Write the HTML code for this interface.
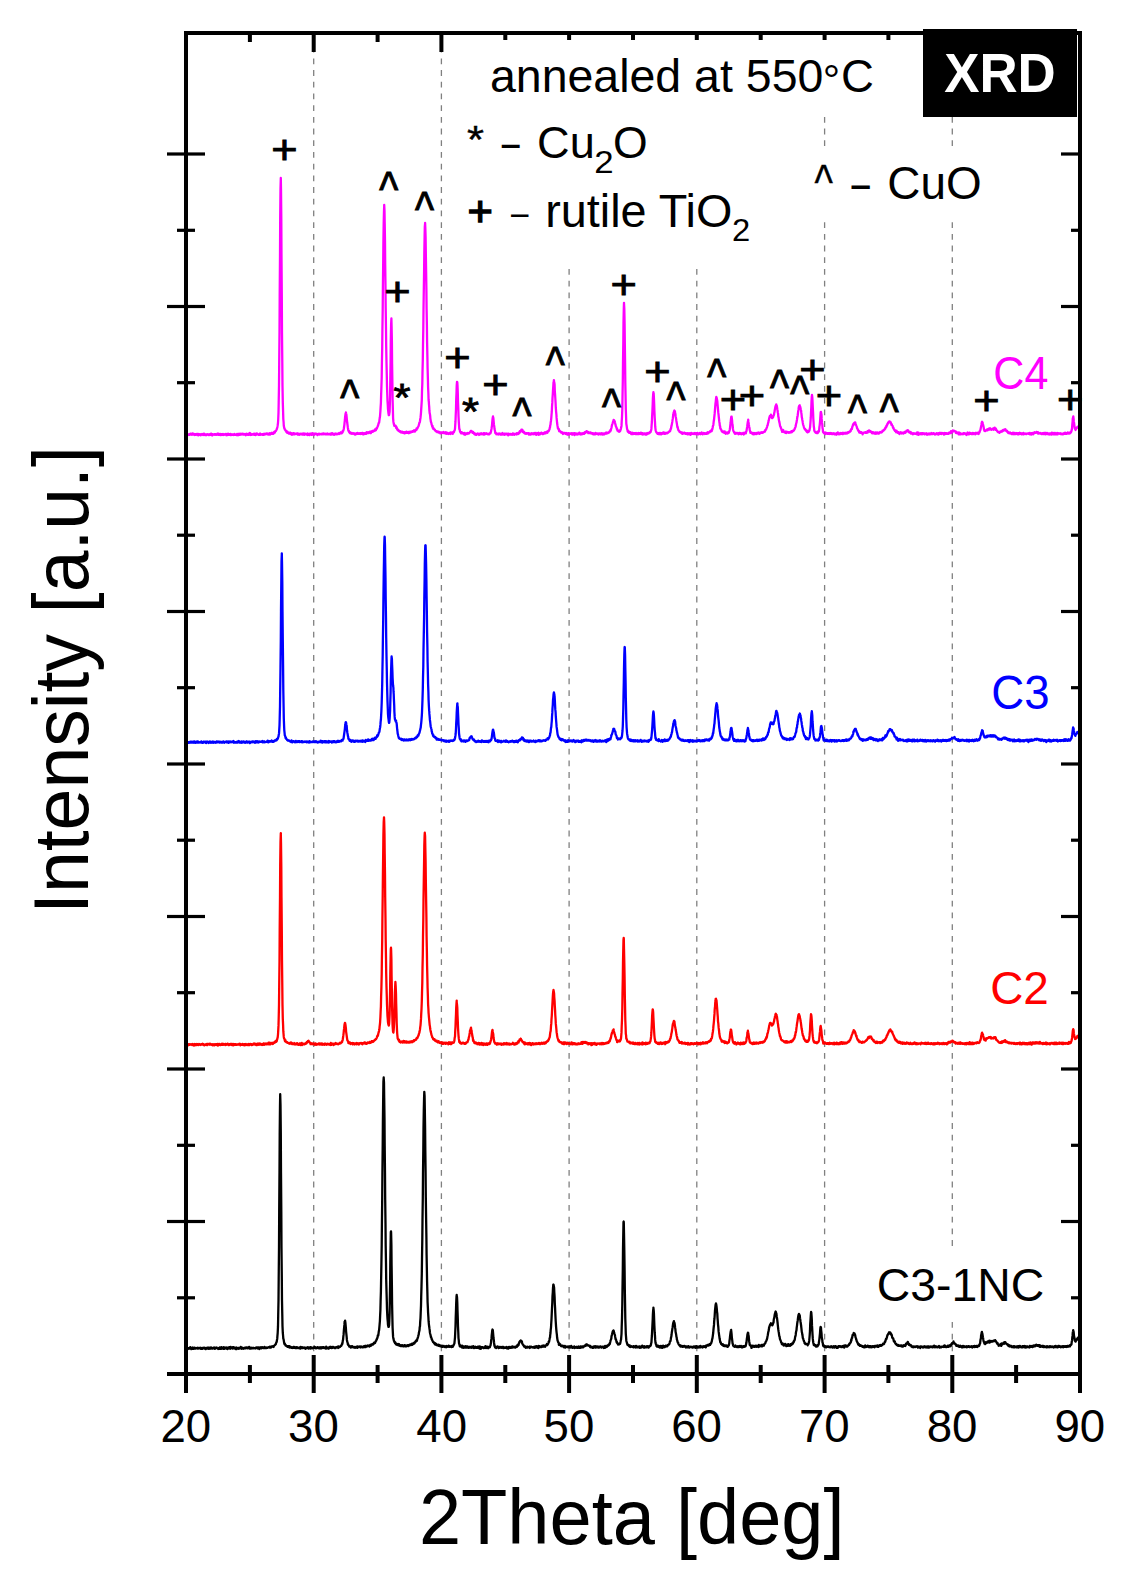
<!DOCTYPE html><html><head><meta charset='utf-8'><title>XRD</title><style>html,body{margin:0;padding:0;background:#fff;overflow:hidden}svg{display:block}text{font-family:'Liberation Sans', Arial, sans-serif}</style></head><body>
<svg width='1127' height='1588' viewBox='0 0 1127 1588'>
<rect width='1127' height='1588' fill='#fff'/>
<g stroke='#808080' stroke-width='1.3' stroke-dasharray='5.8 5.9'><line x1='313.7' y1='35' x2='313.7' y2='1372'/><line x1='441.4' y1='35' x2='441.4' y2='1372'/><line x1='569.1' y1='35' x2='569.1' y2='1372'/><line x1='696.8' y1='35' x2='696.8' y2='1372'/><line x1='824.6' y1='35' x2='824.6' y2='1372'/><line x1='952.3' y1='35' x2='952.3' y2='1372'/></g>
<path d='M186.0 1348.6 186.3 1348.8 186.5 1348.8 186.8 1348.6 187.0 1348.1 187.3 1348.2 187.5 1347.9 187.8 1349.1 188.0 1348.8 188.3 1348.3 188.6 1348.3 188.8 1348.4 189.1 1348.0 189.3 1348.5 189.6 1348.5 189.8 1348.5 190.1 1348.3 190.3 1347.2 190.6 1348.2 190.9 1347.7 191.1 1347.6 191.4 1349.2 191.6 1348.1 191.9 1348.2 192.1 1348.1 192.4 1347.9 192.6 1348.9 192.9 1347.5 193.2 1348.5 193.4 1348.0 193.7 1348.8 193.9 1348.6 194.2 1348.3 194.4 1347.6 194.7 1348.6 194.9 1348.7 195.2 1348.5 195.5 1348.1 195.7 1348.5 196.0 1348.0 196.2 1348.4 196.5 1348.4 196.7 1348.2 197.0 1347.9 197.2 1348.2 197.5 1347.9 197.7 1347.8 198.0 1348.7 198.3 1348.2 198.5 1348.1 198.8 1348.0 199.0 1348.4 199.3 1348.1 199.5 1348.0 199.8 1348.4 200.0 1348.3 200.3 1347.9 200.6 1347.8 200.8 1348.8 201.1 1348.1 201.3 1348.7 201.6 1348.5 201.8 1348.2 202.1 1348.1 202.3 1348.9 202.6 1348.0 202.9 1348.1 203.1 1347.9 203.4 1348.2 203.6 1347.9 203.9 1348.3 204.1 1347.7 204.4 1348.5 204.6 1348.4 204.9 1348.3 205.2 1348.0 205.4 1348.8 205.7 1349.1 205.9 1348.2 206.2 1347.9 206.4 1348.5 206.7 1348.1 206.9 1348.3 207.2 1348.5 207.5 1347.7 207.7 1348.5 208.0 1347.8 208.2 1347.7 208.5 1348.1 208.7 1348.8 209.0 1348.0 209.2 1348.4 209.5 1347.8 209.8 1348.5 210.0 1348.3 210.3 1348.7 210.5 1348.3 210.8 1348.2 211.0 1347.4 211.3 1348.3 211.5 1348.5 211.8 1348.3 212.1 1348.3 212.3 1348.4 212.6 1348.6 212.8 1347.8 213.1 1348.2 213.3 1348.4 213.6 1348.3 213.8 1347.8 214.1 1347.4 214.4 1348.3 214.6 1348.5 214.9 1348.9 215.1 1348.4 215.4 1347.8 215.6 1348.4 215.9 1348.2 216.1 1347.9 216.4 1347.6 216.7 1347.5 216.9 1347.9 217.2 1348.0 217.4 1348.2 217.7 1348.2 217.9 1348.3 218.2 1349.0 218.4 1348.2 218.7 1348.8 218.9 1347.9 219.2 1347.9 219.5 1348.0 219.7 1347.4 220.0 1348.9 220.2 1348.3 220.5 1348.5 220.7 1348.9 221.0 1348.4 221.2 1348.9 221.5 1347.2 221.8 1348.7 222.0 1348.3 222.3 1348.0 222.5 1348.6 222.8 1348.2 223.0 1347.9 223.3 1347.4 223.5 1348.9 223.8 1347.1 224.1 1348.2 224.3 1348.8 224.6 1348.4 224.8 1347.9 225.1 1348.1 225.3 1347.9 225.6 1348.3 225.8 1348.1 226.1 1347.6 226.4 1347.5 226.6 1348.7 226.9 1347.6 227.1 1347.7 227.4 1349.1 227.6 1347.8 227.9 1347.6 228.1 1347.8 228.4 1348.5 228.7 1347.8 228.9 1348.1 229.2 1347.2 229.4 1347.9 229.7 1348.2 229.9 1348.2 230.2 1348.8 230.4 1348.4 230.7 1346.9 231.0 1347.5 231.2 1347.7 231.5 1348.0 231.7 1348.2 232.0 1348.4 232.2 1347.4 232.5 1347.2 232.7 1348.5 233.0 1347.7 233.3 1347.1 233.5 1347.7 233.8 1347.9 234.0 1347.6 234.3 1347.6 234.5 1348.5 234.8 1347.6 235.0 1348.2 235.3 1348.2 235.6 1348.0 235.8 1349.1 236.1 1347.6 236.3 1349.2 236.6 1347.7 236.8 1348.0 237.1 1348.2 237.3 1348.6 237.6 1348.4 237.9 1347.9 238.1 1348.0 238.4 1348.6 238.6 1348.7 238.9 1347.9 239.1 1348.6 239.4 1348.3 239.6 1348.2 239.9 1347.6 240.1 1347.6 240.4 1348.3 240.7 1346.9 240.9 1347.9 241.2 1348.3 241.4 1347.4 241.7 1348.8 241.9 1348.8 242.2 1347.6 242.4 1348.0 242.7 1348.0 243.0 1347.9 243.2 1347.9 243.5 1348.3 243.7 1348.8 244.0 1348.1 244.2 1348.1 244.5 1348.1 244.7 1347.8 245.0 1348.4 245.3 1347.9 245.5 1347.7 245.8 1348.3 246.0 1347.3 246.3 1347.9 246.5 1347.9 246.8 1348.0 247.0 1347.4 247.3 1347.7 247.6 1348.0 247.8 1348.3 248.1 1348.0 248.3 1348.0 248.6 1347.7 248.8 1348.1 249.1 1346.9 249.3 1348.3 249.6 1348.5 249.9 1348.0 250.1 1347.6 250.4 1348.6 250.6 1347.8 250.9 1348.6 251.1 1347.9 251.4 1347.7 251.6 1347.9 251.9 1347.8 252.2 1347.9 252.4 1348.2 252.7 1347.9 252.9 1347.8 253.2 1348.0 253.4 1348.2 253.7 1348.0 253.9 1348.2 254.2 1348.2 254.5 1348.1 254.7 1348.3 255.0 1348.0 255.2 1348.5 255.5 1348.2 255.7 1348.3 256.0 1347.9 256.2 1347.4 256.5 1347.8 256.8 1348.0 257.0 1348.1 257.3 1347.9 257.5 1348.5 257.8 1347.4 258.0 1347.2 258.3 1347.9 258.5 1347.6 258.8 1347.9 259.1 1348.2 259.3 1349.1 259.6 1347.4 259.8 1347.4 260.1 1347.9 260.3 1347.3 260.6 1347.6 260.8 1348.4 261.1 1347.9 261.3 1347.9 261.6 1348.3 261.9 1347.2 262.1 1347.9 262.4 1347.8 262.6 1347.9 262.9 1347.4 263.1 1347.7 263.4 1347.8 263.6 1348.1 263.9 1347.5 264.2 1348.0 264.4 1346.9 264.7 1347.9 264.9 1348.1 265.2 1347.3 265.4 1347.6 265.7 1347.7 265.9 1347.8 266.2 1348.1 266.5 1347.7 266.7 1347.5 267.0 1347.5 267.2 1347.7 267.5 1347.9 267.7 1347.6 268.0 1347.3 268.2 1347.3 268.5 1347.1 268.8 1347.1 269.0 1347.2 269.3 1347.1 269.5 1347.6 269.8 1346.8 270.0 1347.3 270.3 1346.7 270.5 1347.5 270.8 1347.2 271.1 1347.5 271.3 1347.2 271.6 1346.5 271.8 1346.9 272.1 1346.5 272.3 1346.5 272.6 1346.2 272.8 1346.4 273.1 1346.5 273.4 1346.4 273.6 1347.0 273.9 1345.9 274.1 1345.9 274.4 1345.5 274.6 1345.3 274.9 1345.0 275.1 1344.9 275.4 1344.3 275.7 1344.4 275.9 1343.8 276.2 1342.7 276.4 1342.4 276.7 1341.8 276.9 1340.3 277.2 1338.9 277.4 1336.4 277.7 1332.8 278.0 1326.4 278.2 1315.9 278.5 1300.6 278.7 1278.5 279.0 1247.6 279.2 1211.6 279.5 1170.7 279.7 1134.6 280.0 1105.6 280.2 1094.2 280.2 1094.2 280.5 1104.8 280.8 1132.7 281.0 1172.4 281.3 1211.5 281.5 1248.2 281.8 1277.6 282.0 1300.4 282.3 1315.6 282.5 1326.2 282.8 1332.7 283.1 1336.0 283.3 1338.7 283.6 1339.3 283.8 1340.7 284.1 1342.6 284.3 1343.5 284.6 1344.2 284.8 1343.5 285.1 1344.4 285.4 1344.6 285.6 1345.5 285.9 1345.4 286.1 1345.5 286.4 1345.9 286.6 1345.7 286.9 1346.4 287.1 1346.0 287.4 1346.8 287.7 1346.5 287.9 1346.7 288.2 1346.2 288.4 1346.1 288.7 1346.2 288.9 1347.1 289.2 1346.1 289.4 1347.5 289.7 1346.9 290.0 1346.6 290.2 1347.3 290.5 1346.7 290.7 1347.2 291.0 1347.2 291.2 1347.8 291.5 1347.7 291.7 1347.7 292.0 1347.2 292.3 1348.0 292.5 1347.4 292.8 1347.5 293.0 1347.6 293.3 1347.6 293.5 1347.0 293.8 1347.8 294.0 1346.9 294.3 1347.8 294.6 1347.5 294.8 1347.6 295.1 1347.2 295.3 1348.0 295.6 1347.6 295.8 1348.0 296.1 1347.4 296.3 1347.3 296.6 1347.7 296.9 1348.1 297.1 1347.2 297.4 1347.5 297.6 1347.5 297.9 1347.6 298.1 1347.6 298.4 1348.1 298.6 1348.0 298.9 1347.8 299.2 1348.1 299.4 1348.2 299.7 1347.5 299.9 1347.5 300.2 1348.0 300.4 1348.6 300.7 1346.8 300.9 1347.5 301.2 1348.1 301.4 1347.4 301.7 1348.1 302.0 1347.9 302.2 1347.3 302.5 1347.6 302.7 1348.0 303.0 1347.5 303.2 1348.0 303.5 1347.9 303.7 1347.7 304.0 1348.0 304.3 1347.7 304.5 1347.9 304.8 1347.4 305.0 1348.4 305.3 1347.7 305.5 1348.3 305.8 1348.7 306.0 1348.5 306.3 1347.8 306.6 1347.9 306.8 1347.8 307.1 1348.0 307.3 1347.5 307.6 1347.1 307.8 1348.0 308.1 1347.9 308.3 1348.5 308.6 1348.6 308.9 1347.3 309.1 1347.5 309.4 1348.2 309.6 1348.3 309.9 1347.9 310.1 1347.9 310.4 1347.1 310.6 1348.7 310.9 1347.6 311.2 1348.1 311.4 1348.0 311.7 1347.5 311.9 1348.2 312.2 1348.4 312.4 1347.8 312.7 1347.9 312.9 1348.1 313.2 1348.2 313.5 1348.2 313.7 1347.5 314.0 1347.5 314.2 1347.6 314.5 1346.8 314.7 1347.3 315.0 1347.8 315.2 1347.6 315.5 1347.5 315.8 1348.2 316.0 1348.0 316.3 1348.2 316.5 1347.8 316.8 1347.7 317.0 1347.5 317.3 1347.9 317.5 1347.1 317.8 1347.5 318.1 1348.1 318.3 1348.2 318.6 1347.8 318.8 1347.4 319.1 1348.0 319.3 1347.5 319.6 1347.8 319.8 1347.4 320.1 1348.5 320.4 1348.4 320.6 1347.5 320.9 1347.3 321.1 1347.8 321.4 1348.0 321.6 1348.3 321.9 1347.8 322.1 1347.3 322.4 1347.9 322.6 1347.9 322.9 1347.1 323.2 1347.7 323.4 1347.7 323.7 1347.4 323.9 1347.9 324.2 1348.2 324.4 1348.2 324.7 1347.4 324.9 1347.5 325.2 1348.1 325.5 1347.6 325.7 1347.6 326.0 1348.6 326.2 1346.7 326.5 1347.5 326.7 1347.4 327.0 1347.7 327.2 1348.4 327.5 1347.7 327.8 1347.6 328.0 1347.8 328.3 1347.6 328.5 1347.9 328.8 1348.7 329.0 1347.4 329.3 1347.6 329.5 1347.6 329.8 1346.9 330.1 1347.9 330.3 1347.6 330.6 1346.9 330.8 1347.6 331.1 1347.7 331.3 1347.3 331.6 1348.1 331.8 1347.4 332.1 1347.0 332.4 1347.9 332.6 1347.6 332.9 1347.6 333.1 1346.9 333.4 1347.0 333.6 1347.1 333.9 1347.5 334.1 1347.5 334.4 1348.1 334.7 1348.1 334.9 1347.5 335.2 1347.4 335.4 1348.2 335.7 1347.5 335.9 1347.8 336.2 1347.2 336.4 1347.3 336.7 1347.2 337.0 1347.0 337.2 1347.4 337.5 1346.9 337.7 1347.2 338.0 1347.3 338.2 1348.0 338.5 1346.3 338.7 1347.0 339.0 1347.2 339.3 1346.8 339.5 1347.1 339.8 1346.9 340.0 1346.9 340.3 1346.4 340.5 1346.2 340.8 1346.1 341.0 1345.7 341.3 1345.8 341.6 1345.0 341.8 1344.5 342.1 1343.8 342.3 1344.0 342.6 1342.3 342.8 1340.6 343.1 1339.5 343.3 1336.8 343.6 1334.4 343.8 1331.3 344.1 1327.9 344.4 1324.9 344.6 1321.8 344.9 1321.4 345.0 1321.2 345.1 1320.6 345.4 1322.6 345.6 1324.9 345.9 1328.3 346.1 1331.5 346.4 1334.4 346.7 1337.4 346.9 1339.9 347.2 1341.4 347.4 1342.1 347.7 1343.0 347.9 1344.6 348.2 1344.2 348.4 1345.2 348.7 1345.5 349.0 1345.6 349.2 1346.6 349.5 1346.3 349.7 1346.4 350.0 1346.7 350.2 1346.3 350.5 1347.1 350.7 1347.5 351.0 1346.7 351.3 1346.7 351.5 1347.4 351.8 1346.1 352.0 1346.4 352.3 1346.5 352.5 1346.3 352.8 1347.0 353.0 1347.2 353.3 1347.0 353.6 1347.1 353.8 1347.4 354.1 1347.5 354.3 1347.6 354.6 1347.0 354.8 1347.1 355.1 1347.7 355.3 1347.2 355.6 1347.6 355.9 1346.9 356.1 1347.1 356.4 1346.9 356.6 1347.1 356.9 1347.2 357.1 1346.9 357.4 1347.9 357.6 1346.5 357.9 1347.4 358.2 1346.7 358.4 1347.1 358.7 1346.7 358.9 1347.1 359.2 1347.1 359.4 1346.7 359.7 1346.5 359.9 1346.7 360.2 1347.0 360.5 1347.3 360.7 1347.5 361.0 1346.3 361.2 1347.1 361.5 1346.7 361.7 1346.9 362.0 1347.0 362.2 1347.2 362.5 1347.0 362.8 1346.8 363.0 1347.4 363.3 1346.9 363.5 1346.7 363.8 1347.1 364.0 1346.2 364.3 1346.3 364.5 1347.2 364.8 1346.6 365.0 1345.9 365.3 1346.8 365.6 1347.0 365.8 1346.2 366.1 1345.8 366.3 1346.4 366.6 1346.5 366.8 1346.1 367.1 1345.9 367.3 1346.4 367.6 1346.4 367.9 1345.4 368.1 1345.6 368.4 1345.9 368.6 1345.7 368.9 1346.0 369.1 1346.0 369.4 1346.5 369.6 1345.8 369.9 1345.9 370.2 1344.8 370.4 1345.2 370.7 1345.8 370.9 1344.6 371.2 1345.6 371.4 1345.3 371.7 1345.0 371.9 1344.6 372.2 1344.2 372.5 1344.1 372.7 1344.2 373.0 1344.0 373.2 1344.5 373.5 1343.4 373.7 1343.4 374.0 1342.8 374.2 1343.4 374.5 1343.1 374.8 1343.1 375.0 1343.1 375.3 1342.3 375.5 1341.4 375.8 1341.4 376.0 1340.9 376.3 1340.5 376.5 1339.5 376.8 1339.6 377.1 1338.2 377.3 1338.1 377.6 1337.2 377.8 1335.5 378.1 1335.8 378.3 1335.3 378.6 1333.0 378.8 1331.3 379.1 1330.1 379.4 1326.9 379.6 1324.6 379.9 1321.0 380.1 1316.4 380.4 1310.3 380.6 1301.9 380.9 1291.8 381.1 1280.3 381.4 1264.0 381.7 1245.8 381.9 1224.4 382.2 1199.5 382.4 1173.2 382.7 1146.0 382.9 1121.0 383.2 1097.2 383.4 1082.1 383.7 1077.5 383.7 1078.1 384.0 1082.6 384.2 1097.7 384.5 1119.1 384.7 1145.9 385.0 1173.5 385.2 1200.1 385.5 1223.5 385.7 1245.9 386.0 1263.5 386.2 1279.6 386.5 1291.0 386.8 1301.4 387.0 1309.2 387.3 1315.5 387.5 1318.9 387.8 1321.9 388.0 1325.0 388.3 1326.2 388.5 1326.9 388.8 1326.8 389.1 1325.0 389.3 1321.3 389.6 1313.2 389.8 1300.8 390.1 1284.2 390.3 1262.6 390.6 1244.4 390.8 1232.2 391.0 1231.3 391.1 1232.3 391.4 1245.0 391.6 1265.5 391.9 1286.8 392.1 1304.8 392.4 1318.9 392.6 1327.5 392.9 1333.4 393.1 1336.9 393.4 1338.6 393.7 1339.7 393.9 1340.9 394.2 1341.1 394.4 1342.0 394.7 1341.9 394.9 1342.9 395.2 1342.3 395.4 1343.6 395.7 1343.8 396.0 1344.2 396.2 1343.5 396.5 1343.6 396.7 1343.7 397.0 1344.1 397.2 1344.9 397.5 1344.8 397.7 1344.9 398.0 1344.2 398.3 1345.3 398.5 1345.2 398.8 1344.7 399.0 1344.0 399.3 1344.9 399.5 1345.2 399.8 1345.8 400.0 1345.4 400.3 1345.3 400.6 1346.0 400.8 1346.1 401.1 1345.7 401.3 1345.8 401.6 1346.0 401.8 1345.3 402.1 1345.8 402.3 1345.5 402.6 1345.2 402.9 1345.8 403.1 1346.1 403.4 1346.4 403.6 1345.9 403.9 1346.2 404.1 1345.6 404.4 1345.1 404.6 1345.4 404.9 1345.8 405.2 1345.5 405.4 1346.4 405.7 1346.1 405.9 1345.6 406.2 1346.3 406.4 1345.8 406.7 1346.2 406.9 1345.5 407.2 1345.9 407.4 1345.2 407.7 1345.5 408.0 1345.9 408.2 1346.1 408.5 1345.3 408.7 1345.4 409.0 1345.0 409.2 1345.2 409.5 1345.5 409.7 1344.6 410.0 1344.9 410.3 1344.5 410.5 1345.1 410.8 1345.1 411.0 1344.9 411.3 1344.5 411.5 1344.2 411.8 1343.8 412.0 1344.3 412.3 1344.8 412.6 1344.1 412.8 1344.0 413.1 1343.7 413.3 1343.2 413.6 1344.0 413.8 1343.6 414.1 1342.7 414.3 1342.5 414.6 1343.3 414.9 1342.2 415.1 1342.2 415.4 1341.5 415.6 1341.9 415.9 1341.0 416.1 1340.7 416.4 1340.3 416.6 1340.9 416.9 1340.8 417.2 1339.4 417.4 1338.7 417.7 1338.1 417.9 1337.3 418.2 1336.3 418.4 1335.3 418.7 1334.7 418.9 1332.7 419.2 1331.4 419.5 1330.3 419.7 1327.3 420.0 1326.1 420.2 1321.8 420.5 1318.0 420.7 1312.8 421.0 1305.7 421.2 1296.9 421.5 1286.4 421.8 1273.7 422.0 1258.9 422.3 1239.7 422.5 1220.1 422.8 1198.3 423.0 1173.9 423.3 1150.7 423.5 1128.4 423.8 1110.2 424.1 1097.2 424.3 1092.0 424.3 1091.8 424.6 1096.1 424.8 1108.8 425.1 1127.5 425.3 1149.4 425.6 1172.4 425.8 1196.7 426.1 1217.7 426.4 1237.2 426.6 1254.9 426.9 1271.3 427.1 1282.0 427.4 1293.6 427.6 1302.2 427.9 1308.1 428.1 1313.0 428.1 1312.9 428.4 1317.4 428.6 1321.2 428.9 1324.5 429.2 1326.5 429.4 1328.2 429.7 1330.1 429.9 1332.4 430.2 1333.8 430.4 1334.5 430.7 1335.8 430.9 1337.1 431.2 1337.2 431.5 1338.3 431.7 1339.2 432.0 1339.3 432.2 1340.4 432.5 1340.8 432.7 1341.0 433.0 1342.0 433.2 1341.5 433.5 1342.4 433.8 1342.4 434.0 1343.2 434.3 1342.7 434.5 1343.5 434.8 1343.7 435.0 1344.2 435.3 1344.6 435.5 1343.5 435.8 1344.2 436.1 1343.9 436.3 1344.8 436.6 1345.1 436.8 1344.5 437.1 1344.9 437.3 1345.4 437.6 1345.1 437.8 1345.1 438.1 1344.6 438.4 1345.0 438.6 1345.8 438.9 1344.9 439.1 1345.7 439.4 1345.8 439.6 1345.6 439.9 1346.1 440.1 1345.5 440.4 1346.4 440.7 1345.8 440.9 1346.4 441.2 1345.8 441.4 1346.2 441.7 1345.9 441.9 1346.8 442.2 1345.8 442.4 1345.9 442.7 1346.8 443.0 1346.6 443.2 1346.4 443.5 1346.3 443.7 1345.9 444.0 1346.3 444.2 1346.6 444.5 1346.9 444.7 1346.9 445.0 1347.1 445.3 1346.7 445.5 1346.2 445.8 1346.4 446.0 1347.2 446.3 1346.6 446.5 1347.2 446.8 1346.0 447.0 1346.4 447.3 1346.3 447.6 1346.7 447.8 1346.3 448.1 1346.1 448.3 1346.6 448.6 1345.7 448.8 1346.4 449.1 1346.9 449.3 1346.2 449.6 1346.6 449.8 1346.3 450.1 1346.5 450.4 1346.7 450.6 1346.8 450.9 1346.7 451.1 1346.2 451.4 1347.1 451.6 1346.6 451.9 1346.0 452.1 1346.9 452.4 1346.0 452.7 1346.9 452.9 1346.4 453.2 1345.8 453.4 1345.5 453.7 1344.9 453.9 1344.5 454.2 1343.8 454.4 1343.3 454.7 1340.5 455.0 1337.3 455.2 1333.0 455.5 1326.4 455.7 1318.6 456.0 1310.0 456.2 1303.4 456.5 1296.7 456.7 1295.0 456.7 1295.5 457.0 1296.9 457.3 1302.9 457.5 1310.3 457.8 1319.1 458.0 1326.4 458.3 1332.7 458.5 1338.1 458.8 1340.7 459.0 1343.2 459.3 1344.1 459.6 1345.3 459.8 1346.2 460.1 1345.1 460.3 1346.5 460.6 1345.9 460.8 1346.4 461.1 1346.2 461.3 1346.4 461.6 1346.1 461.9 1345.6 462.1 1347.7 462.4 1347.2 462.6 1346.8 462.9 1346.2 463.1 1347.2 463.4 1347.7 463.6 1347.2 463.9 1346.4 464.2 1346.9 464.4 1347.2 464.7 1347.1 464.9 1347.6 465.2 1346.8 465.4 1347.0 465.7 1346.2 465.9 1347.7 466.2 1347.6 466.5 1347.1 466.7 1346.6 467.0 1347.6 467.2 1346.8 467.5 1346.8 467.7 1346.5 468.0 1346.7 468.2 1347.0 468.5 1346.9 468.7 1347.8 469.0 1347.7 469.3 1347.4 469.5 1347.1 469.8 1347.3 470.0 1346.8 470.3 1347.6 470.5 1347.0 470.8 1347.2 471.0 1347.6 471.3 1347.0 471.6 1346.8 471.8 1347.9 472.1 1346.7 472.3 1346.9 472.6 1346.9 472.8 1347.1 473.1 1347.4 473.3 1346.1 473.6 1347.2 473.9 1348.1 474.1 1348.0 474.4 1347.8 474.6 1347.4 474.9 1347.5 475.1 1347.2 475.4 1346.7 475.6 1347.6 475.9 1347.9 476.2 1347.6 476.4 1347.5 476.7 1347.8 476.9 1347.6 477.2 1347.9 477.4 1347.3 477.7 1346.7 477.9 1347.7 478.2 1347.9 478.5 1347.2 478.7 1347.6 479.0 1347.8 479.2 1346.3 479.5 1348.5 479.7 1347.8 480.0 1347.4 480.2 1347.0 480.5 1346.8 480.8 1348.9 481.0 1347.3 481.3 1347.8 481.5 1347.2 481.8 1347.4 482.0 1347.7 482.3 1347.1 482.5 1347.4 482.8 1347.4 483.1 1347.7 483.3 1347.8 483.6 1347.4 483.8 1348.1 484.1 1347.3 484.3 1347.3 484.6 1347.5 484.8 1347.3 485.1 1347.8 485.4 1346.2 485.6 1346.7 485.9 1346.5 486.1 1348.0 486.4 1347.8 486.6 1347.1 486.9 1347.5 487.1 1346.6 487.4 1347.2 487.7 1347.9 487.9 1347.5 488.2 1348.2 488.4 1347.0 488.7 1347.7 488.9 1347.2 489.2 1347.1 489.4 1347.0 489.7 1347.1 489.9 1347.1 490.2 1346.0 490.5 1345.5 490.7 1344.2 491.0 1342.8 491.2 1340.2 491.5 1338.4 491.7 1335.3 492.0 1332.8 492.2 1330.6 492.5 1329.5 492.5 1329.5 492.8 1330.0 493.0 1332.2 493.3 1335.6 493.5 1338.0 493.8 1339.9 494.0 1342.2 494.3 1344.8 494.5 1346.0 494.8 1346.4 495.1 1347.4 495.3 1346.5 495.6 1347.1 495.8 1346.8 496.1 1348.1 496.3 1347.4 496.6 1347.4 496.8 1347.4 497.1 1347.0 497.4 1347.3 497.6 1346.4 497.9 1347.2 498.1 1347.0 498.4 1347.7 498.6 1348.0 498.9 1347.5 499.1 1347.0 499.4 1347.0 499.7 1347.7 499.9 1347.4 500.2 1347.4 500.4 1347.0 500.7 1347.6 500.9 1347.6 501.2 1347.8 501.4 1347.1 501.7 1347.5 502.0 1346.9 502.2 1347.6 502.5 1347.5 502.7 1347.3 503.0 1347.9 503.2 1346.9 503.5 1348.2 503.7 1347.7 504.0 1347.8 504.3 1347.6 504.5 1347.3 504.8 1347.3 505.0 1347.9 505.3 1347.5 505.5 1347.6 505.8 1347.4 506.0 1347.9 506.3 1347.8 506.6 1347.0 506.8 1348.4 507.1 1348.0 507.3 1347.9 507.6 1347.6 507.8 1347.5 508.1 1347.9 508.3 1348.6 508.6 1347.4 508.9 1347.0 509.1 1347.5 509.4 1347.5 509.6 1347.9 509.9 1346.9 510.1 1347.3 510.4 1347.3 510.6 1347.9 510.9 1347.9 511.1 1347.5 511.4 1347.8 511.7 1347.5 511.9 1347.5 512.2 1346.4 512.4 1347.0 512.7 1346.9 512.9 1347.5 513.2 1347.4 513.4 1346.8 513.7 1347.3 514.0 1347.2 514.2 1347.4 514.5 1347.0 514.7 1346.9 515.0 1347.6 515.2 1347.0 515.5 1347.5 515.7 1346.6 516.0 1346.9 516.3 1346.7 516.5 1346.3 516.8 1346.9 517.0 1345.9 517.3 1346.3 517.5 1345.0 517.8 1346.0 518.0 1345.4 518.3 1345.3 518.6 1345.2 518.8 1343.4 519.1 1343.2 519.3 1342.1 519.6 1341.7 519.8 1341.6 520.1 1341.0 520.3 1341.1 520.6 1340.9 520.6 1341.2 520.9 1340.5 521.1 1341.1 521.4 1341.0 521.6 1341.9 521.9 1341.4 522.1 1343.2 522.4 1343.7 522.6 1344.1 522.9 1344.6 523.2 1344.6 523.4 1345.3 523.7 1345.6 523.9 1346.3 524.2 1346.6 524.4 1346.3 524.7 1346.6 524.9 1346.9 525.2 1346.5 525.5 1347.4 525.7 1347.8 526.0 1347.2 526.2 1346.9 526.5 1347.2 526.7 1347.6 527.0 1347.7 527.2 1346.6 527.5 1347.3 527.8 1346.9 528.0 1347.0 528.3 1347.3 528.5 1347.4 528.8 1347.1 529.0 1346.9 529.3 1347.1 529.5 1346.8 529.8 1348.0 530.1 1346.6 530.3 1347.5 530.6 1347.3 530.8 1347.3 531.1 1346.8 531.3 1347.0 531.6 1347.1 531.8 1347.0 532.1 1347.1 532.3 1347.3 532.6 1347.1 532.9 1347.4 533.1 1347.6 533.4 1347.0 533.6 1347.5 533.9 1347.3 534.1 1347.0 534.4 1347.4 534.6 1347.7 534.9 1347.1 535.2 1346.4 535.4 1347.5 535.7 1347.6 535.9 1346.7 536.2 1347.1 536.4 1347.3 536.7 1346.1 536.9 1347.4 537.2 1347.4 537.5 1347.4 537.7 1347.7 538.0 1346.6 538.2 1347.4 538.5 1348.0 538.7 1346.0 539.0 1346.9 539.2 1347.3 539.5 1346.7 539.8 1346.2 540.0 1347.1 540.3 1346.9 540.5 1346.6 540.8 1346.9 541.0 1347.2 541.3 1347.2 541.5 1346.9 541.8 1346.1 542.1 1346.5 542.3 1345.6 542.6 1346.1 542.8 1346.5 543.1 1346.7 543.3 1346.4 543.6 1346.3 543.8 1345.5 544.1 1345.6 544.4 1345.7 544.6 1345.8 544.9 1345.7 545.1 1346.8 545.4 1346.2 545.6 1345.3 545.9 1345.3 546.1 1345.1 546.4 1345.0 546.7 1344.9 546.9 1344.0 547.2 1345.2 547.4 1344.8 547.7 1344.4 547.9 1344.0 548.2 1343.6 548.4 1343.0 548.7 1341.6 549.0 1341.9 549.2 1341.1 549.5 1339.5 549.7 1338.0 550.0 1337.7 550.2 1335.1 550.5 1333.0 550.7 1329.9 551.0 1327.6 551.3 1322.3 551.5 1319.3 551.8 1312.6 552.0 1308.5 552.3 1302.6 552.5 1296.3 552.8 1292.3 553.0 1288.1 553.3 1284.7 553.5 1284.9 553.5 1284.6 553.8 1285.9 554.1 1287.6 554.3 1292.0 554.6 1296.8 554.8 1303.1 555.1 1308.3 555.3 1313.1 555.6 1319.2 555.8 1322.5 556.1 1327.1 556.4 1330.6 556.6 1332.5 556.9 1334.9 557.1 1337.5 557.4 1339.3 557.6 1340.6 557.9 1341.2 558.1 1342.0 558.4 1342.2 558.7 1342.8 558.9 1344.8 559.2 1344.3 559.4 1343.7 559.7 1344.5 559.9 1344.8 560.2 1344.2 560.4 1345.1 560.7 1345.4 561.0 1346.0 561.2 1346.2 561.5 1345.5 561.7 1345.6 562.0 1345.6 562.2 1346.0 562.5 1346.4 562.7 1345.6 563.0 1346.1 563.3 1346.0 563.5 1346.0 563.8 1346.1 564.0 1347.3 564.3 1347.2 564.5 1347.1 564.8 1345.8 565.0 1346.7 565.3 1347.6 565.6 1346.8 565.8 1346.4 566.1 1347.0 566.3 1346.6 566.6 1346.6 566.8 1346.9 567.1 1347.0 567.3 1346.8 567.6 1346.9 567.9 1346.4 568.1 1346.9 568.4 1347.3 568.6 1347.0 568.9 1346.9 569.1 1346.4 569.4 1347.5 569.6 1346.5 569.9 1347.3 570.2 1346.9 570.4 1347.5 570.7 1347.5 570.9 1346.9 571.2 1345.8 571.4 1346.3 571.7 1346.7 571.9 1346.7 572.2 1347.3 572.5 1347.9 572.7 1347.4 573.0 1347.1 573.2 1347.7 573.5 1347.1 573.7 1347.5 574.0 1347.3 574.2 1346.4 574.5 1347.6 574.7 1348.0 575.0 1347.0 575.3 1347.5 575.5 1347.4 575.8 1347.1 576.0 1347.0 576.3 1347.7 576.5 1346.9 576.8 1346.9 577.0 1347.6 577.3 1347.6 577.6 1347.9 577.8 1347.0 578.1 1346.6 578.3 1347.6 578.6 1346.5 578.8 1347.0 579.1 1347.1 579.3 1347.9 579.6 1347.2 579.9 1346.6 580.1 1347.1 580.4 1347.7 580.6 1346.4 580.9 1346.5 581.1 1347.5 581.4 1347.1 581.6 1346.6 581.9 1347.0 582.2 1347.0 582.4 1346.4 582.7 1346.6 582.9 1347.4 583.2 1346.8 583.4 1347.1 583.7 1346.5 583.9 1346.2 584.2 1346.4 584.5 1345.7 584.7 1346.1 585.0 1345.7 585.2 1345.5 585.5 1345.4 585.7 1344.9 586.0 1345.7 586.2 1344.4 586.5 1345.0 586.8 1344.4 587.0 1345.3 587.0 1344.8 587.3 1345.1 587.5 1345.2 587.8 1345.2 588.0 1345.3 588.3 1345.5 588.5 1345.6 588.8 1345.4 589.1 1345.7 589.3 1345.9 589.6 1345.8 589.8 1346.0 590.1 1347.0 590.3 1345.9 590.6 1347.3 590.8 1346.5 591.1 1347.0 591.4 1346.8 591.6 1346.8 591.9 1347.1 592.1 1347.7 592.4 1347.0 592.6 1347.0 592.9 1346.9 593.1 1347.9 593.4 1347.6 593.7 1347.6 593.9 1347.1 594.2 1346.3 594.4 1347.3 594.7 1346.4 594.9 1346.9 595.2 1347.5 595.4 1346.9 595.7 1346.8 595.9 1346.3 596.2 1347.5 596.5 1347.3 596.7 1346.9 597.0 1347.3 597.2 1346.4 597.5 1346.8 597.7 1347.2 598.0 1347.5 598.2 1347.1 598.5 1346.6 598.8 1346.9 599.0 1347.6 599.3 1346.8 599.5 1347.2 599.8 1347.3 600.0 1346.8 600.3 1347.1 600.5 1346.3 600.8 1346.8 601.1 1347.1 601.3 1347.3 601.6 1347.6 601.8 1346.8 602.1 1347.2 602.3 1346.9 602.6 1346.6 602.8 1346.6 603.1 1346.9 603.4 1346.9 603.6 1346.6 603.9 1348.0 604.1 1346.8 604.4 1347.1 604.6 1346.6 604.9 1347.8 605.1 1345.8 605.4 1346.5 605.7 1346.6 605.9 1347.0 606.2 1346.4 606.4 1345.9 606.7 1347.0 606.9 1346.5 607.2 1346.1 607.4 1346.0 607.7 1345.8 608.0 1345.8 608.2 1344.9 608.5 1345.5 608.7 1344.9 609.0 1344.9 609.2 1344.5 609.5 1343.5 609.7 1344.1 610.0 1343.0 610.3 1341.7 610.5 1340.7 610.8 1339.9 611.0 1339.3 611.3 1338.7 611.5 1336.4 611.8 1335.2 612.0 1334.6 612.3 1333.2 612.6 1332.1 612.8 1331.3 613.1 1330.8 613.3 1331.3 613.3 1330.8 613.6 1330.5 613.8 1331.7 614.1 1332.7 614.3 1333.0 614.6 1334.1 614.9 1335.0 615.1 1336.4 615.4 1338.0 615.6 1339.4 615.9 1339.3 616.1 1339.9 616.4 1341.3 616.6 1342.2 616.9 1341.8 617.1 1343.1 617.4 1343.2 617.7 1343.4 617.9 1344.1 618.2 1344.6 618.4 1343.6 618.7 1344.4 618.9 1344.2 619.2 1344.4 619.4 1344.0 619.7 1343.6 620.0 1343.9 620.2 1343.3 620.5 1342.0 620.7 1340.6 621.0 1339.9 621.2 1337.7 621.5 1334.0 621.7 1327.4 622.0 1318.3 622.3 1304.5 622.5 1288.6 622.8 1269.8 623.0 1249.8 623.3 1233.0 623.5 1221.9 623.7 1221.5 623.8 1222.8 624.0 1233.1 624.3 1249.8 624.6 1270.3 624.8 1288.7 625.1 1305.4 625.3 1318.5 625.6 1327.3 625.8 1334.0 626.1 1337.6 626.3 1340.4 626.6 1341.9 626.9 1342.6 627.1 1343.7 627.4 1344.5 627.6 1344.9 627.9 1344.9 628.1 1345.1 628.4 1344.9 628.6 1345.4 628.9 1346.1 629.2 1346.0 629.4 1346.4 629.7 1345.3 629.9 1346.8 630.2 1346.4 630.4 1346.9 630.7 1346.3 630.9 1347.0 631.2 1346.5 631.5 1346.1 631.7 1346.6 632.0 1346.4 632.2 1346.6 632.5 1346.9 632.7 1347.0 633.0 1347.0 633.2 1347.2 633.5 1346.2 633.8 1347.3 634.0 1346.5 634.3 1346.9 634.5 1346.7 634.8 1346.4 635.0 1347.2 635.3 1346.5 635.5 1346.7 635.8 1347.5 636.1 1346.0 636.3 1346.3 636.6 1347.3 636.8 1346.8 637.1 1347.3 637.3 1347.0 637.6 1346.8 637.8 1347.3 638.1 1346.7 638.3 1346.8 638.6 1347.2 638.9 1346.6 639.1 1346.5 639.4 1346.4 639.6 1347.4 639.9 1347.8 640.1 1347.5 640.4 1346.8 640.6 1346.9 640.9 1346.6 641.2 1347.0 641.4 1347.5 641.7 1347.0 641.9 1347.0 642.2 1345.7 642.4 1347.2 642.7 1346.5 642.9 1346.9 643.2 1347.2 643.5 1347.1 643.7 1347.4 644.0 1347.7 644.2 1346.1 644.5 1346.3 644.7 1347.7 645.0 1347.2 645.2 1346.7 645.5 1346.8 645.8 1346.9 646.0 1347.4 646.3 1346.8 646.5 1346.9 646.8 1346.3 647.0 1347.4 647.3 1347.0 647.5 1346.6 647.8 1346.3 648.1 1346.7 648.3 1347.1 648.6 1347.6 648.8 1347.4 649.1 1346.3 649.3 1346.2 649.6 1345.9 649.8 1346.4 650.1 1345.7 650.4 1346.0 650.6 1345.6 650.9 1345.0 651.1 1343.4 651.4 1342.7 651.6 1339.8 651.9 1335.7 652.1 1331.7 652.4 1325.9 652.7 1319.8 652.9 1314.4 653.2 1309.9 653.4 1308.9 653.4 1307.7 653.7 1310.3 653.9 1312.7 654.2 1321.0 654.4 1326.1 654.7 1332.2 655.0 1336.1 655.2 1339.9 655.5 1342.6 655.7 1343.4 656.0 1344.4 656.2 1344.1 656.5 1346.0 656.7 1345.8 657.0 1346.0 657.2 1346.7 657.5 1346.4 657.8 1346.5 658.0 1345.7 658.3 1346.6 658.5 1346.4 658.8 1347.0 659.0 1346.3 659.3 1346.1 659.5 1346.5 659.8 1347.5 660.1 1346.3 660.3 1347.2 660.6 1346.7 660.8 1345.8 661.1 1347.0 661.3 1347.7 661.6 1346.9 661.8 1346.2 662.1 1346.5 662.4 1346.3 662.6 1347.9 662.9 1346.8 663.1 1345.6 663.4 1346.9 663.6 1346.7 663.9 1346.1 664.1 1346.2 664.4 1346.4 664.7 1347.2 664.9 1346.1 665.2 1346.0 665.4 1346.7 665.7 1346.0 665.9 1345.7 666.2 1346.1 666.4 1346.4 666.7 1346.1 667.0 1345.7 667.2 1346.3 667.5 1346.2 667.7 1344.8 668.0 1344.9 668.2 1344.8 668.5 1344.8 668.7 1344.7 669.0 1344.3 669.3 1344.1 669.5 1343.6 669.8 1342.3 670.0 1341.3 670.3 1341.4 670.5 1340.8 670.8 1339.2 671.0 1337.7 671.3 1336.7 671.6 1334.5 671.8 1332.5 672.1 1330.8 672.3 1329.3 672.6 1327.4 672.8 1325.8 673.1 1323.7 673.3 1322.7 673.6 1322.1 673.9 1321.1 673.9 1321.1 674.1 1322.2 674.4 1322.6 674.6 1323.3 674.9 1325.4 675.1 1327.7 675.4 1329.4 675.6 1332.0 675.9 1333.3 676.2 1334.9 676.4 1336.7 676.7 1337.7 676.9 1339.6 677.2 1340.3 677.4 1341.1 677.7 1342.3 677.9 1342.6 678.2 1342.9 678.4 1343.6 678.7 1344.5 679.0 1344.8 679.2 1345.0 679.5 1345.5 679.7 1345.0 680.0 1345.3 680.2 1346.4 680.5 1345.4 680.7 1346.5 681.0 1346.0 681.3 1346.3 681.5 1346.3 681.8 1346.0 682.0 1346.3 682.3 1346.7 682.5 1346.1 682.8 1346.0 683.0 1346.8 683.3 1346.4 683.6 1346.5 683.8 1346.5 684.1 1346.4 684.3 1345.9 684.6 1346.6 684.8 1346.5 685.1 1346.1 685.3 1346.5 685.6 1346.8 685.9 1347.5 686.1 1346.5 686.4 1347.3 686.6 1346.6 686.9 1347.0 687.1 1346.7 687.4 1347.2 687.6 1347.0 687.9 1346.7 688.2 1346.3 688.4 1347.3 688.7 1346.3 688.9 1346.7 689.2 1347.6 689.4 1347.0 689.7 1347.0 689.9 1347.0 690.2 1347.0 690.5 1346.8 690.7 1347.1 691.0 1346.9 691.2 1346.8 691.5 1347.2 691.7 1347.2 692.0 1347.1 692.2 1347.3 692.5 1347.7 692.8 1347.7 693.0 1347.0 693.3 1346.5 693.5 1347.4 693.8 1347.0 694.0 1347.3 694.3 1346.9 694.5 1347.3 694.8 1346.5 695.1 1347.0 695.3 1346.4 695.6 1347.8 695.8 1346.8 696.1 1346.1 696.3 1347.5 696.6 1347.3 696.8 1347.5 697.1 1346.4 697.4 1347.1 697.6 1347.5 697.9 1346.8 698.1 1347.1 698.4 1346.8 698.6 1346.8 698.9 1347.5 699.1 1346.5 699.4 1346.9 699.6 1347.1 699.9 1346.9 700.2 1347.2 700.4 1346.0 700.7 1347.3 700.9 1346.3 701.2 1346.6 701.4 1346.6 701.7 1347.0 701.9 1346.6 702.2 1346.6 702.5 1347.0 702.7 1347.5 703.0 1346.4 703.2 1346.3 703.5 1346.4 703.7 1346.1 704.0 1346.1 704.2 1346.3 704.5 1346.8 704.8 1346.3 705.0 1346.1 705.3 1346.3 705.5 1346.0 705.8 1347.4 706.0 1346.9 706.3 1346.2 706.5 1345.4 706.8 1345.8 707.1 1345.6 707.3 1345.5 707.6 1344.9 707.8 1345.6 708.1 1345.5 708.3 1345.2 708.6 1344.9 708.8 1345.5 709.1 1344.8 709.4 1344.1 709.6 1344.4 709.9 1344.9 710.1 1344.9 710.4 1343.7 710.6 1343.7 710.9 1343.7 711.1 1343.4 711.4 1342.2 711.7 1341.8 711.9 1340.6 712.2 1339.0 712.4 1338.7 712.7 1336.6 712.9 1335.2 713.2 1333.0 713.4 1330.3 713.7 1327.4 714.0 1324.9 714.2 1320.9 714.5 1318.5 714.7 1315.5 715.0 1310.5 715.2 1308.7 715.5 1305.7 715.7 1304.2 716.0 1304.3 716.0 1303.5 716.3 1304.7 716.5 1306.1 716.8 1308.9 717.0 1311.6 717.3 1313.6 717.5 1317.8 717.8 1321.4 718.0 1324.3 718.3 1327.0 718.6 1331.4 718.8 1332.7 719.1 1335.1 719.3 1336.3 719.6 1338.6 719.8 1339.5 720.1 1341.1 720.3 1342.3 720.6 1342.0 720.8 1342.6 721.1 1343.9 721.4 1344.2 721.6 1344.2 721.9 1344.7 722.1 1344.5 722.4 1344.9 722.6 1344.9 722.9 1344.2 723.1 1345.5 723.4 1345.7 723.7 1345.1 723.9 1345.3 724.2 1345.7 724.4 1346.0 724.7 1345.8 724.9 1345.6 725.2 1346.1 725.4 1345.9 725.7 1345.5 726.0 1345.9 726.2 1345.8 726.5 1346.2 726.7 1345.5 727.0 1345.6 727.2 1345.8 727.5 1346.1 727.7 1346.9 728.0 1345.8 728.3 1346.1 728.5 1345.6 728.8 1345.3 729.0 1344.7 729.3 1343.1 729.5 1340.8 729.8 1338.8 730.0 1337.0 730.3 1334.4 730.6 1332.1 730.8 1331.0 730.9 1330.3 731.1 1329.9 731.3 1331.3 731.6 1334.1 731.8 1336.8 732.1 1339.4 732.3 1340.9 732.6 1343.6 732.9 1344.1 733.1 1345.3 733.4 1345.9 733.6 1346.2 733.9 1346.4 734.1 1346.1 734.4 1346.4 734.6 1346.8 734.9 1346.3 735.2 1346.0 735.4 1345.5 735.7 1346.7 735.9 1346.3 736.2 1346.7 736.4 1346.3 736.7 1346.5 736.9 1346.6 737.2 1347.1 737.5 1346.4 737.7 1346.2 738.0 1346.8 738.2 1347.1 738.5 1346.4 738.7 1347.0 739.0 1346.8 739.2 1347.0 739.5 1346.0 739.8 1346.8 740.0 1346.7 740.3 1346.8 740.5 1346.5 740.8 1346.7 741.0 1345.9 741.3 1346.8 741.5 1347.3 741.8 1346.8 742.0 1346.8 742.3 1346.9 742.6 1347.3 742.8 1346.4 743.1 1346.1 743.3 1346.2 743.6 1346.3 743.8 1346.6 744.1 1346.9 744.3 1346.2 744.6 1346.0 744.9 1346.7 745.1 1346.7 745.4 1345.7 745.6 1346.1 745.9 1345.0 746.1 1344.1 746.4 1342.8 746.6 1341.1 746.9 1338.4 747.2 1336.6 747.4 1334.7 747.7 1333.4 747.9 1332.7 747.9 1333.1 748.2 1332.9 748.4 1335.0 748.7 1336.1 748.9 1338.8 749.2 1341.5 749.5 1342.9 749.7 1344.9 750.0 1345.3 750.2 1345.3 750.5 1345.6 750.7 1345.2 751.0 1346.8 751.2 1346.8 751.5 1347.9 751.8 1347.3 752.0 1346.6 752.3 1346.1 752.5 1345.8 752.8 1346.3 753.0 1346.5 753.3 1345.9 753.5 1346.7 753.8 1346.9 754.1 1346.1 754.3 1346.4 754.6 1345.9 754.8 1346.9 755.1 1346.1 755.3 1346.0 755.6 1345.6 755.8 1346.0 756.1 1345.7 756.4 1346.8 756.6 1346.7 756.9 1345.9 757.1 1346.0 757.4 1346.3 757.6 1346.3 757.9 1345.8 758.1 1346.9 758.4 1346.5 758.7 1347.0 758.9 1345.0 759.2 1345.5 759.4 1346.4 759.7 1346.1 759.9 1345.9 760.2 1345.5 760.4 1346.1 760.7 1345.7 761.0 1346.4 761.2 1346.2 761.5 1346.1 761.7 1344.9 762.0 1345.7 762.2 1346.3 762.5 1346.2 762.7 1345.8 763.0 1345.7 763.2 1344.7 763.5 1345.6 763.8 1345.6 764.0 1344.8 764.3 1344.6 764.5 1344.1 764.8 1343.9 765.0 1343.3 765.3 1343.3 765.5 1342.6 765.8 1341.5 766.1 1341.2 766.3 1341.0 766.6 1340.0 766.8 1339.7 767.1 1338.7 767.3 1337.6 767.6 1335.9 767.8 1335.2 768.1 1333.0 768.4 1331.6 768.6 1331.1 768.9 1329.3 769.1 1327.3 769.4 1327.0 769.6 1326.1 769.9 1325.1 770.1 1324.8 770.1 1324.5 770.4 1324.3 770.7 1323.9 770.9 1323.3 771.2 1324.2 771.4 1323.5 771.7 1324.5 771.9 1324.6 772.2 1325.4 772.4 1324.6 772.7 1324.6 773.0 1323.5 773.2 1322.9 773.5 1322.6 773.7 1320.1 774.0 1318.4 774.2 1318.3 774.5 1316.1 774.7 1314.7 775.0 1313.5 775.3 1312.7 775.5 1311.7 775.8 1312.1 775.8 1311.7 776.0 1312.4 776.3 1313.8 776.5 1314.3 776.8 1317.0 777.0 1317.9 777.3 1320.4 777.6 1323.0 777.8 1325.0 778.1 1327.8 778.3 1329.5 778.6 1331.5 778.8 1332.5 779.1 1334.8 779.3 1336.2 779.6 1336.7 779.9 1338.8 780.1 1339.5 780.4 1340.0 780.6 1340.5 780.9 1341.1 781.1 1342.2 781.4 1342.7 781.6 1343.0 781.9 1344.2 782.2 1343.6 782.4 1343.9 782.7 1343.5 782.9 1344.3 783.2 1344.8 783.4 1344.1 783.7 1345.5 783.9 1344.4 784.2 1344.8 784.4 1344.6 784.7 1344.7 785.0 1343.9 785.2 1345.3 785.5 1344.1 785.7 1345.7 786.0 1344.6 786.2 1344.8 786.5 1346.2 786.7 1344.8 787.0 1345.2 787.3 1344.7 787.5 1345.1 787.8 1345.4 788.0 1345.9 788.3 1344.1 788.5 1345.2 788.8 1345.4 789.0 1345.6 789.3 1344.8 789.6 1345.1 789.8 1345.8 790.1 1345.2 790.3 1345.7 790.6 1344.2 790.8 1344.5 791.1 1344.7 791.3 1344.1 791.6 1344.7 791.9 1343.7 792.1 1344.2 792.4 1343.2 792.6 1343.3 792.9 1343.5 793.1 1343.2 793.4 1342.2 793.6 1341.5 793.9 1341.9 794.2 1340.6 794.4 1340.5 794.7 1340.0 794.9 1338.6 795.2 1336.6 795.4 1336.3 795.7 1334.9 795.9 1332.8 796.2 1331.2 796.5 1330.1 796.7 1327.7 797.0 1325.6 797.2 1323.7 797.5 1321.6 797.7 1320.7 798.0 1318.0 798.2 1316.6 798.5 1315.0 798.8 1314.3 799.0 1314.9 799.0 1313.9 799.3 1314.7 799.5 1315.0 799.8 1315.7 800.0 1318.2 800.3 1319.8 800.5 1321.5 800.8 1323.5 801.1 1325.5 801.3 1327.3 801.6 1330.1 801.8 1332.0 802.1 1333.0 802.3 1334.6 802.6 1336.1 802.8 1337.9 803.1 1338.5 803.4 1339.3 803.6 1340.1 803.9 1341.1 804.1 1341.5 804.4 1342.0 804.6 1343.2 804.9 1343.3 805.1 1343.8 805.4 1343.3 805.6 1344.2 805.9 1344.0 806.2 1344.1 806.4 1344.1 806.7 1344.1 806.9 1344.2 807.2 1344.5 807.4 1344.5 807.7 1345.3 807.9 1344.6 808.2 1344.2 808.5 1343.9 808.7 1342.9 809.0 1341.9 809.2 1340.9 809.5 1337.5 809.7 1335.2 810.0 1330.7 810.2 1324.4 810.5 1320.2 810.8 1315.4 811.0 1312.8 811.1 1312.0 811.3 1312.4 811.5 1314.8 811.8 1319.4 812.0 1325.4 812.3 1330.4 812.5 1334.3 812.8 1338.7 813.1 1341.5 813.3 1342.7 813.6 1344.1 813.8 1345.0 814.1 1344.1 814.3 1345.0 814.6 1345.0 814.8 1345.5 815.1 1345.0 815.4 1345.1 815.6 1345.9 815.9 1346.6 816.1 1345.4 816.4 1346.6 816.6 1346.3 816.9 1346.3 817.1 1346.4 817.4 1345.6 817.7 1346.2 817.9 1344.9 818.2 1345.0 818.4 1344.9 818.7 1344.3 818.9 1342.2 819.2 1340.4 819.4 1339.1 819.7 1336.0 820.0 1333.0 820.2 1329.8 820.5 1327.1 820.7 1327.1 820.7 1327.0 821.0 1327.7 821.2 1330.6 821.5 1333.1 821.7 1336.6 822.0 1338.8 822.3 1339.9 822.5 1342.6 822.8 1343.0 823.0 1344.9 823.3 1346.0 823.5 1345.1 823.8 1346.3 824.0 1346.0 824.3 1346.7 824.5 1346.5 824.8 1346.0 825.1 1346.7 825.3 1346.5 825.6 1346.9 825.8 1347.4 826.1 1346.5 826.3 1347.3 826.6 1346.6 826.8 1346.9 827.1 1346.7 827.4 1346.5 827.6 1346.8 827.9 1346.5 828.1 1346.9 828.4 1346.3 828.6 1346.3 828.9 1347.1 829.1 1347.0 829.4 1347.0 829.7 1347.0 829.9 1347.2 830.2 1347.0 830.4 1347.2 830.7 1346.5 830.9 1347.0 831.2 1346.5 831.4 1346.3 831.7 1346.7 832.0 1347.1 832.2 1346.8 832.5 1347.6 832.7 1347.1 833.0 1347.0 833.2 1346.9 833.5 1346.2 833.7 1346.8 834.0 1346.8 834.3 1347.6 834.5 1346.4 834.8 1346.8 835.0 1346.5 835.3 1346.9 835.5 1346.1 835.8 1346.9 836.0 1346.8 836.3 1346.9 836.6 1347.9 836.8 1346.8 837.1 1347.0 837.3 1346.8 837.6 1347.3 837.8 1347.7 838.1 1347.5 838.3 1346.9 838.6 1346.2 838.9 1347.0 839.1 1346.1 839.4 1346.3 839.6 1346.5 839.9 1346.3 840.1 1346.7 840.4 1346.6 840.6 1346.4 840.9 1346.9 841.2 1346.4 841.4 1347.2 841.7 1347.0 841.9 1346.5 842.2 1346.9 842.4 1346.3 842.7 1346.4 842.9 1347.0 843.2 1345.9 843.5 1346.8 843.7 1347.3 844.0 1345.6 844.2 1347.5 844.5 1345.6 844.7 1345.5 845.0 1345.5 845.2 1345.9 845.5 1346.1 845.7 1345.4 846.0 1346.1 846.3 1346.5 846.5 1345.8 846.8 1346.1 847.0 1346.2 847.3 1346.6 847.5 1345.7 847.8 1345.9 848.0 1345.8 848.3 1345.3 848.6 1345.1 848.8 1345.1 849.1 1345.0 849.3 1343.7 849.6 1343.8 849.8 1343.8 850.1 1343.2 850.3 1342.7 850.6 1342.7 850.9 1341.9 851.1 1340.0 851.4 1340.7 851.6 1338.9 851.9 1337.9 852.1 1338.0 852.4 1336.2 852.6 1335.0 852.9 1335.4 853.2 1334.9 853.4 1334.1 853.7 1333.0 853.9 1334.0 853.9 1333.4 854.2 1334.0 854.4 1333.4 854.7 1334.3 854.9 1334.2 855.2 1335.3 855.5 1337.1 855.7 1337.7 856.0 1338.1 856.2 1339.7 856.5 1339.9 856.7 1341.0 857.0 1341.7 857.2 1342.0 857.5 1342.7 857.8 1343.2 858.0 1344.0 858.3 1344.2 858.5 1344.8 858.8 1344.1 859.0 1344.1 859.3 1345.2 859.5 1345.3 859.8 1345.7 860.1 1345.1 860.3 1345.8 860.6 1345.3 860.8 1345.9 861.1 1345.9 861.3 1346.0 861.6 1346.3 861.8 1345.9 862.1 1346.2 862.4 1346.6 862.6 1346.9 862.9 1346.5 863.1 1346.7 863.4 1346.6 863.6 1347.1 863.9 1347.3 864.1 1346.1 864.4 1346.8 864.7 1346.6 864.9 1347.2 865.2 1345.5 865.4 1346.2 865.7 1345.8 865.9 1347.1 866.2 1346.6 866.4 1346.8 866.7 1346.7 866.9 1346.7 867.2 1346.7 867.5 1346.4 867.7 1345.7 868.0 1346.7 868.2 1346.5 868.5 1346.3 868.7 1346.3 869.0 1347.2 869.2 1346.3 869.5 1346.2 869.8 1346.9 870.0 1347.2 870.3 1346.1 870.5 1346.1 870.8 1346.1 871.0 1346.7 871.3 1346.9 871.5 1347.2 871.8 1346.5 872.1 1346.5 872.3 1346.3 872.6 1347.0 872.8 1346.3 873.1 1346.2 873.3 1346.4 873.6 1346.5 873.8 1346.6 874.1 1346.3 874.4 1347.2 874.6 1347.3 874.9 1346.0 875.1 1346.5 875.4 1346.0 875.6 1346.3 875.9 1345.9 876.1 1346.3 876.4 1346.5 876.7 1346.4 876.9 1345.8 877.2 1345.4 877.4 1345.4 877.7 1346.8 877.9 1346.2 878.2 1346.2 878.4 1346.8 878.7 1345.7 879.0 1346.3 879.2 1345.7 879.5 1346.1 879.7 1345.2 880.0 1345.6 880.2 1345.8 880.5 1345.8 880.7 1345.0 881.0 1345.5 881.3 1345.7 881.5 1345.2 881.8 1345.5 882.0 1345.3 882.3 1345.0 882.5 1344.5 882.8 1344.5 883.0 1343.8 883.3 1344.3 883.6 1343.8 883.8 1343.9 884.1 1344.0 884.3 1343.0 884.6 1342.5 884.8 1341.8 885.1 1341.9 885.3 1341.5 885.6 1340.2 885.9 1339.3 886.1 1338.8 886.4 1339.0 886.6 1338.3 886.9 1337.6 887.1 1336.2 887.4 1335.7 887.6 1334.8 887.9 1334.7 888.1 1334.1 888.4 1333.6 888.7 1334.1 888.9 1332.4 889.2 1332.6 889.4 1332.5 889.7 1332.8 889.7 1332.9 889.9 1332.4 890.2 1332.4 890.4 1333.0 890.7 1333.6 891.0 1333.6 891.2 1334.8 891.5 1334.4 891.7 1335.2 892.0 1336.1 892.2 1337.6 892.5 1337.8 892.7 1338.3 893.0 1338.2 893.3 1338.7 893.5 1339.5 893.8 1341.0 894.0 1341.5 894.3 1341.4 894.5 1341.5 894.8 1341.4 895.0 1342.5 895.3 1343.4 895.6 1343.5 895.8 1343.9 896.1 1343.7 896.3 1344.4 896.6 1344.3 896.8 1345.0 897.1 1344.9 897.3 1345.3 897.6 1345.2 897.9 1345.1 898.1 1345.8 898.4 1345.0 898.6 1345.9 898.9 1345.5 899.1 1345.6 899.4 1345.9 899.6 1345.6 899.9 1345.5 900.2 1345.5 900.4 1345.5 900.7 1346.0 900.9 1346.1 901.2 1346.0 901.4 1345.4 901.7 1346.1 901.9 1346.5 902.2 1345.6 902.5 1345.7 902.7 1346.5 903.0 1346.0 903.2 1346.5 903.5 1345.9 903.7 1345.3 904.0 1345.8 904.2 1345.8 904.5 1345.8 904.8 1345.1 905.0 1345.1 905.3 1346.0 905.5 1344.6 905.8 1345.2 906.0 1343.7 906.3 1344.1 906.5 1343.7 906.8 1343.7 907.1 1343.2 907.3 1342.6 907.6 1342.9 907.6 1342.0 907.8 1341.9 908.1 1342.4 908.3 1344.0 908.6 1344.0 908.8 1344.8 909.1 1344.6 909.3 1344.0 909.6 1344.5 909.9 1345.4 910.1 1345.1 910.4 1345.3 910.6 1345.4 910.9 1345.7 911.1 1345.3 911.4 1346.4 911.6 1346.0 911.9 1346.9 912.2 1347.1 912.4 1346.4 912.7 1347.0 912.9 1347.1 913.2 1346.7 913.4 1346.5 913.7 1347.2 913.9 1346.9 914.2 1346.6 914.5 1346.5 914.7 1346.7 915.0 1347.1 915.2 1347.0 915.5 1346.5 915.7 1346.6 916.0 1346.8 916.2 1346.6 916.5 1346.7 916.8 1346.3 917.0 1346.4 917.3 1346.9 917.5 1346.9 917.8 1346.6 918.0 1347.7 918.3 1346.7 918.5 1347.1 918.8 1346.9 919.1 1346.6 919.3 1347.1 919.6 1347.3 919.8 1346.9 920.1 1347.0 920.3 1348.0 920.6 1346.5 920.8 1346.7 921.1 1347.1 921.4 1346.8 921.6 1346.5 921.9 1346.7 922.1 1346.7 922.4 1346.7 922.6 1346.9 922.9 1347.6 923.1 1346.9 923.4 1346.7 923.7 1347.1 923.9 1347.1 924.2 1346.4 924.4 1346.6 924.7 1346.4 924.9 1347.0 925.2 1347.2 925.4 1346.8 925.7 1347.4 926.0 1346.7 926.2 1346.7 926.5 1346.8 926.7 1347.0 927.0 1347.6 927.2 1346.4 927.5 1347.1 927.7 1346.9 928.0 1347.4 928.3 1346.3 928.5 1346.4 928.8 1347.6 929.0 1347.4 929.3 1347.3 929.5 1346.9 929.8 1347.3 930.0 1346.9 930.3 1346.4 930.5 1346.8 930.8 1346.8 931.1 1346.5 931.3 1346.7 931.6 1346.6 931.8 1347.1 932.1 1347.3 932.3 1347.4 932.6 1347.3 932.8 1346.4 933.1 1347.1 933.4 1347.2 933.6 1347.1 933.9 1346.5 934.1 1345.7 934.4 1347.0 934.6 1346.5 934.9 1347.3 935.1 1346.3 935.4 1347.1 935.7 1346.7 935.9 1346.3 936.2 1346.7 936.4 1346.8 936.7 1347.2 936.9 1347.2 937.2 1347.4 937.4 1347.2 937.7 1346.7 938.0 1346.7 938.2 1346.9 938.5 1346.7 938.7 1346.2 939.0 1346.0 939.2 1347.2 939.5 1346.9 939.7 1347.7 940.0 1346.6 940.3 1347.3 940.5 1346.9 940.8 1347.0 941.0 1346.9 941.3 1347.3 941.5 1347.1 941.8 1346.6 942.0 1346.8 942.3 1346.7 942.6 1346.8 942.8 1346.9 943.1 1346.6 943.3 1346.5 943.6 1346.8 943.8 1346.0 944.1 1347.0 944.3 1346.9 944.6 1345.4 944.9 1346.2 945.1 1346.7 945.4 1345.8 945.6 1346.9 945.9 1347.1 946.1 1346.9 946.4 1347.1 946.6 1346.6 946.9 1346.9 947.2 1346.8 947.4 1346.5 947.7 1346.6 947.9 1345.7 948.2 1345.9 948.4 1346.8 948.7 1346.7 948.9 1345.9 949.2 1345.5 949.5 1345.2 949.7 1346.3 950.0 1345.9 950.2 1346.3 950.5 1345.8 950.7 1346.0 951.0 1345.2 951.2 1344.3 951.5 1344.1 951.7 1344.5 952.0 1343.1 952.3 1343.7 952.5 1343.1 952.8 1343.6 953.0 1342.6 953.3 1342.5 953.5 1343.2 953.5 1341.5 953.8 1343.3 954.0 1343.2 954.3 1342.8 954.6 1343.5 954.8 1343.4 955.1 1344.1 955.3 1344.1 955.6 1344.7 955.8 1344.3 956.1 1344.6 956.3 1345.8 956.6 1345.4 956.9 1345.4 957.1 1345.3 957.4 1345.5 957.6 1346.0 957.9 1345.6 958.1 1346.1 958.4 1346.1 958.6 1345.5 958.9 1346.4 959.2 1346.9 959.4 1346.3 959.7 1346.4 959.9 1346.7 960.2 1346.3 960.4 1345.8 960.7 1346.6 960.9 1346.4 961.2 1346.4 961.5 1347.2 961.7 1346.7 962.0 1346.3 962.2 1346.4 962.5 1347.3 962.7 1347.0 963.0 1345.9 963.2 1347.0 963.5 1346.5 963.8 1346.4 964.0 1347.2 964.3 1347.0 964.5 1346.3 964.8 1346.7 965.0 1346.9 965.3 1346.6 965.5 1346.9 965.8 1346.4 966.1 1347.2 966.3 1347.3 966.6 1346.4 966.8 1346.1 967.1 1346.5 967.3 1347.1 967.6 1346.8 967.8 1346.7 968.1 1346.8 968.4 1346.1 968.6 1346.7 968.9 1346.6 969.1 1346.4 969.4 1347.0 969.6 1346.4 969.9 1346.4 970.1 1347.0 970.4 1346.9 970.7 1346.7 970.9 1346.7 971.2 1346.8 971.4 1346.8 971.7 1346.2 971.9 1347.0 972.2 1347.5 972.4 1346.8 972.7 1346.5 972.9 1347.1 973.2 1346.9 973.5 1346.2 973.7 1346.5 974.0 1346.3 974.2 1346.9 974.5 1345.9 974.7 1347.0 975.0 1346.2 975.2 1346.5 975.5 1346.3 975.8 1346.5 976.0 1346.9 976.3 1346.6 976.5 1345.9 976.8 1346.1 977.0 1346.3 977.3 1347.0 977.5 1345.9 977.8 1345.9 978.1 1345.7 978.3 1345.9 978.6 1346.1 978.8 1345.2 979.1 1346.0 979.3 1345.4 979.6 1344.7 979.8 1343.8 980.1 1343.5 980.4 1340.6 980.6 1339.2 980.9 1338.5 981.1 1335.4 981.4 1334.3 981.6 1332.8 981.9 1331.9 981.9 1332.2 982.1 1332.8 982.4 1333.9 982.7 1335.6 982.9 1337.2 983.2 1338.6 983.4 1340.0 983.7 1341.6 983.9 1342.0 984.2 1342.2 984.4 1343.5 984.7 1342.5 985.0 1343.7 985.2 1344.0 985.5 1342.7 985.7 1342.3 986.0 1342.7 986.2 1343.0 986.5 1342.4 986.7 1343.0 987.0 1342.7 987.3 1341.8 987.5 1342.4 987.8 1341.4 988.0 1341.6 988.3 1341.8 988.5 1342.2 988.8 1341.8 989.0 1342.1 989.3 1340.7 989.3 1342.7 989.6 1340.9 989.8 1341.6 990.1 1342.1 990.3 1341.6 990.6 1342.0 990.8 1340.9 991.1 1341.0 991.3 1341.4 991.6 1341.4 991.9 1341.6 992.1 1341.5 992.4 1341.1 992.6 1341.6 992.9 1340.9 993.1 1341.0 993.4 1341.3 993.6 1340.6 993.9 1340.8 994.1 1340.7 994.4 1341.2 994.7 1341.2 994.9 1340.9 995.0 1340.8 995.2 1340.1 995.4 1340.4 995.7 1340.8 995.9 1341.4 996.2 1341.9 996.4 1341.9 996.7 1342.4 997.0 1343.5 997.2 1343.3 997.5 1342.9 997.7 1344.0 998.0 1344.3 998.2 1344.3 998.5 1345.6 998.7 1345.3 999.0 1345.7 999.3 1344.8 999.5 1345.5 999.8 1345.2 1000.0 1345.1 1000.3 1344.7 1000.5 1345.1 1000.8 1344.0 1001.0 1345.3 1001.3 1345.9 1001.6 1345.2 1001.8 1343.5 1002.1 1344.4 1002.3 1343.8 1002.6 1343.6 1002.8 1343.7 1003.1 1344.0 1003.3 1343.8 1003.6 1342.8 1003.9 1343.3 1004.1 1342.9 1004.4 1343.7 1004.6 1342.2 1004.6 1342.8 1004.9 1342.5 1005.1 1342.9 1005.4 1342.3 1005.6 1342.9 1005.9 1343.5 1006.2 1343.5 1006.4 1343.6 1006.7 1344.0 1006.9 1344.2 1007.2 1344.1 1007.4 1344.6 1007.7 1345.0 1007.9 1345.3 1008.2 1344.6 1008.5 1345.2 1008.7 1346.1 1009.0 1345.1 1009.2 1345.9 1009.5 1345.7 1009.7 1346.5 1010.0 1346.6 1010.2 1346.2 1010.5 1346.0 1010.8 1345.6 1011.0 1346.1 1011.3 1346.0 1011.5 1346.4 1011.8 1347.0 1012.0 1347.2 1012.3 1346.6 1012.5 1346.5 1012.8 1346.4 1013.0 1346.7 1013.3 1346.4 1013.6 1347.3 1013.8 1346.2 1014.1 1346.6 1014.3 1346.3 1014.6 1347.0 1014.8 1347.3 1015.1 1346.9 1015.3 1346.7 1015.6 1346.6 1015.9 1346.8 1016.1 1346.4 1016.4 1347.3 1016.6 1347.4 1016.9 1347.1 1017.1 1347.0 1017.4 1346.5 1017.6 1347.4 1017.9 1346.1 1018.2 1346.4 1018.4 1347.6 1018.7 1346.5 1018.9 1346.4 1019.2 1346.0 1019.4 1347.1 1019.7 1347.2 1019.9 1346.8 1020.2 1346.0 1020.5 1346.7 1020.7 1346.4 1021.0 1347.1 1021.2 1347.3 1021.5 1346.9 1021.7 1346.9 1022.0 1347.4 1022.2 1347.4 1022.5 1346.2 1022.8 1346.9 1023.0 1346.2 1023.3 1346.4 1023.5 1347.2 1023.8 1346.3 1024.0 1346.7 1024.3 1347.2 1024.5 1346.9 1024.8 1346.0 1025.1 1346.7 1025.3 1346.6 1025.6 1346.4 1025.8 1347.6 1026.1 1346.7 1026.3 1346.7 1026.6 1347.2 1026.8 1346.8 1027.1 1346.2 1027.4 1346.7 1027.6 1346.9 1027.9 1346.8 1028.1 1347.2 1028.4 1347.1 1028.6 1346.9 1028.9 1346.6 1029.1 1346.7 1029.4 1347.5 1029.7 1346.0 1029.9 1347.1 1030.2 1346.8 1030.4 1346.4 1030.7 1346.6 1030.9 1346.9 1031.2 1346.0 1031.4 1346.6 1031.7 1346.8 1032.0 1346.1 1032.2 1346.6 1032.5 1347.0 1032.7 1346.5 1033.0 1346.0 1033.2 1345.6 1033.5 1345.5 1033.7 1346.5 1034.0 1346.0 1034.2 1345.9 1034.5 1345.8 1034.8 1345.4 1035.0 1346.3 1035.3 1345.8 1035.5 1346.0 1035.8 1344.9 1036.0 1345.6 1036.3 1345.5 1036.5 1344.8 1036.5 1344.9 1036.8 1345.0 1037.1 1345.7 1037.3 1345.4 1037.6 1345.2 1037.8 1345.8 1038.1 1345.3 1038.3 1345.8 1038.6 1345.8 1038.8 1345.5 1039.1 1346.4 1039.4 1346.1 1039.6 1345.2 1039.9 1346.2 1040.1 1346.9 1040.4 1345.5 1040.6 1346.8 1040.9 1346.5 1041.1 1346.0 1041.4 1346.6 1041.7 1346.1 1041.9 1346.0 1042.2 1346.8 1042.4 1346.8 1042.7 1345.9 1042.9 1346.4 1043.2 1346.7 1043.4 1346.0 1043.7 1347.2 1044.0 1346.4 1044.2 1346.9 1044.5 1347.0 1044.7 1346.3 1045.0 1346.9 1045.2 1346.8 1045.5 1346.9 1045.7 1346.6 1046.0 1347.1 1046.3 1347.0 1046.5 1347.4 1046.8 1347.2 1047.0 1346.2 1047.3 1346.5 1047.5 1346.9 1047.8 1347.2 1048.0 1346.5 1048.3 1346.8 1048.6 1346.9 1048.8 1346.7 1049.1 1347.2 1049.3 1346.4 1049.6 1347.0 1049.8 1346.4 1050.1 1346.9 1050.3 1346.4 1050.6 1346.6 1050.9 1347.1 1051.1 1346.3 1051.4 1346.8 1051.6 1347.0 1051.9 1346.7 1052.1 1346.6 1052.4 1346.7 1052.6 1346.4 1052.9 1347.0 1053.2 1347.0 1053.4 1347.5 1053.7 1346.9 1053.9 1347.2 1054.2 1346.5 1054.4 1346.9 1054.7 1346.3 1054.9 1346.8 1055.2 1346.6 1055.4 1347.1 1055.7 1345.9 1056.0 1346.6 1056.2 1346.6 1056.5 1347.0 1056.7 1346.4 1057.0 1346.5 1057.2 1347.2 1057.5 1346.5 1057.7 1346.5 1058.0 1347.2 1058.3 1345.8 1058.5 1346.9 1058.8 1346.8 1059.0 1346.8 1059.3 1346.0 1059.5 1346.1 1059.8 1346.3 1060.0 1346.3 1060.3 1347.0 1060.6 1346.5 1060.8 1347.3 1061.1 1346.6 1061.3 1346.9 1061.6 1346.4 1061.8 1346.4 1062.1 1346.8 1062.3 1347.0 1062.6 1346.3 1062.9 1347.1 1063.1 1346.5 1063.4 1347.2 1063.6 1346.1 1063.9 1346.4 1064.1 1346.9 1064.4 1346.5 1064.6 1346.3 1064.9 1346.8 1065.2 1346.9 1065.4 1346.3 1065.7 1346.8 1065.9 1346.3 1066.2 1346.2 1066.4 1347.0 1066.7 1346.2 1066.9 1346.2 1067.2 1346.7 1067.5 1346.0 1067.7 1345.9 1068.0 1346.2 1068.2 1346.4 1068.5 1346.6 1068.7 1346.1 1069.0 1345.9 1069.2 1345.6 1069.5 1345.9 1069.8 1345.8 1070.0 1346.4 1070.3 1345.1 1070.5 1344.9 1070.8 1344.7 1071.0 1344.9 1071.3 1344.6 1071.5 1344.2 1071.8 1341.4 1072.1 1340.2 1072.3 1337.4 1072.6 1335.4 1072.8 1332.3 1073.1 1331.2 1073.2 1330.1 1073.3 1331.0 1073.6 1331.7 1073.8 1333.7 1074.1 1336.5 1074.4 1338.1 1074.6 1338.9 1074.9 1340.7 1075.1 1340.7 1075.4 1341.4 1075.6 1341.6 1075.9 1340.8 1076.1 1340.7 1076.4 1339.3 1076.6 1339.4 1076.9 1339.0 1077.2 1339.6 1077.4 1338.5 1077.7 1338.6 1077.9 1337.6 1078.1 1337.8 1078.2 1338.1 1078.4 1338.4 1078.7 1338.4 1078.9 1339.1 1079.2 1339.5 1079.5 1339.3 1079.7 1339.7 1080.0 1341.0' fill='none' stroke='#000000' stroke-width='2.3' stroke-linejoin='round'/>
<path d='M186.0 1044.7 186.3 1044.8 186.5 1045.0 186.8 1044.6 187.0 1044.9 187.3 1043.8 187.5 1045.6 187.8 1044.5 188.0 1044.3 188.3 1045.2 188.6 1044.8 188.8 1045.0 189.1 1044.3 189.3 1044.7 189.6 1044.9 189.8 1044.1 190.1 1044.5 190.3 1044.5 190.6 1044.5 190.9 1044.3 191.1 1044.1 191.4 1044.7 191.6 1044.7 191.9 1045.0 192.1 1044.5 192.4 1044.3 192.6 1044.0 192.9 1044.6 193.2 1044.4 193.4 1045.4 193.7 1045.5 193.9 1045.2 194.2 1044.2 194.4 1044.0 194.7 1044.5 194.9 1044.2 195.2 1045.2 195.5 1044.6 195.7 1044.4 196.0 1044.6 196.2 1045.1 196.5 1044.2 196.7 1044.8 197.0 1044.0 197.2 1044.5 197.5 1044.3 197.7 1044.7 198.0 1044.6 198.3 1045.0 198.5 1044.8 198.8 1044.3 199.0 1044.0 199.3 1044.2 199.5 1044.4 199.8 1044.5 200.0 1044.2 200.3 1045.0 200.6 1044.9 200.8 1044.4 201.1 1044.3 201.3 1044.5 201.6 1044.5 201.8 1044.5 202.1 1043.9 202.3 1044.4 202.6 1043.8 202.9 1044.6 203.1 1044.8 203.4 1044.1 203.6 1044.6 203.9 1044.3 204.1 1044.3 204.4 1045.4 204.6 1044.9 204.9 1044.8 205.2 1044.4 205.4 1044.7 205.7 1044.5 205.9 1044.7 206.2 1044.2 206.4 1044.5 206.7 1044.4 206.9 1043.9 207.2 1045.2 207.5 1044.9 207.7 1044.2 208.0 1043.9 208.2 1044.2 208.5 1044.2 208.7 1044.3 209.0 1043.9 209.2 1044.2 209.5 1044.6 209.8 1044.7 210.0 1043.7 210.3 1044.5 210.5 1044.1 210.8 1044.1 211.0 1044.4 211.3 1044.2 211.5 1044.8 211.8 1044.8 212.1 1044.4 212.3 1044.3 212.6 1045.3 212.8 1045.3 213.1 1044.7 213.3 1044.5 213.6 1044.9 213.8 1045.1 214.1 1044.3 214.4 1045.3 214.6 1044.5 214.9 1045.0 215.1 1044.3 215.4 1044.5 215.6 1044.3 215.9 1044.5 216.1 1044.9 216.4 1044.1 216.7 1044.4 216.9 1044.7 217.2 1044.3 217.4 1045.4 217.7 1043.9 217.9 1045.6 218.2 1044.3 218.4 1044.9 218.7 1045.2 218.9 1044.8 219.2 1043.9 219.5 1044.4 219.7 1044.5 220.0 1044.8 220.2 1044.9 220.5 1045.0 220.7 1045.1 221.0 1044.1 221.2 1044.9 221.5 1043.8 221.8 1044.6 222.0 1044.1 222.3 1043.8 222.5 1044.9 222.8 1044.5 223.0 1044.9 223.3 1043.8 223.5 1044.0 223.8 1044.5 224.1 1044.2 224.3 1044.5 224.6 1044.2 224.8 1044.4 225.1 1044.0 225.3 1045.0 225.6 1044.4 225.8 1044.0 226.1 1044.8 226.4 1044.7 226.6 1044.6 226.9 1044.6 227.1 1044.3 227.4 1044.4 227.6 1043.6 227.9 1043.8 228.1 1044.0 228.4 1044.6 228.7 1045.0 228.9 1044.4 229.2 1044.4 229.4 1045.0 229.7 1044.3 229.9 1044.8 230.2 1044.7 230.4 1043.9 230.7 1044.6 231.0 1044.6 231.2 1044.0 231.5 1044.0 231.7 1043.9 232.0 1045.1 232.2 1045.3 232.5 1044.8 232.7 1045.1 233.0 1043.9 233.3 1045.1 233.5 1045.3 233.8 1045.1 234.0 1044.1 234.3 1044.9 234.5 1044.4 234.8 1044.9 235.0 1044.2 235.3 1044.5 235.6 1044.2 235.8 1044.7 236.1 1044.4 236.3 1044.9 236.6 1044.8 236.8 1044.6 237.1 1044.4 237.3 1044.3 237.6 1044.5 237.9 1044.8 238.1 1044.5 238.4 1044.6 238.6 1044.4 238.9 1044.4 239.1 1044.2 239.4 1043.7 239.6 1044.7 239.9 1044.7 240.1 1044.0 240.4 1045.3 240.7 1044.0 240.9 1044.9 241.2 1044.6 241.4 1044.6 241.7 1044.9 241.9 1044.8 242.2 1044.5 242.4 1044.0 242.7 1043.9 243.0 1044.5 243.2 1045.1 243.5 1044.8 243.7 1044.4 244.0 1044.6 244.2 1044.7 244.5 1045.2 244.7 1044.1 245.0 1044.7 245.3 1044.6 245.5 1044.1 245.8 1044.0 246.0 1045.0 246.3 1044.6 246.5 1044.3 246.8 1044.5 247.0 1044.8 247.3 1044.5 247.6 1045.1 247.8 1044.3 248.1 1044.1 248.3 1044.4 248.6 1044.0 248.8 1044.3 249.1 1044.9 249.3 1045.1 249.6 1044.7 249.9 1044.5 250.1 1044.0 250.4 1044.0 250.6 1044.6 250.9 1044.5 251.1 1044.2 251.4 1044.2 251.6 1045.1 251.9 1044.8 252.2 1044.4 252.4 1044.5 252.7 1044.9 252.9 1044.5 253.2 1044.5 253.4 1043.7 253.7 1043.7 253.9 1043.6 254.2 1043.4 254.5 1044.4 254.7 1044.5 255.0 1044.0 255.2 1044.5 255.5 1044.5 255.7 1044.4 256.0 1043.7 256.2 1045.0 256.5 1044.9 256.8 1044.1 257.0 1045.2 257.3 1044.4 257.5 1044.0 257.8 1044.1 258.0 1043.5 258.3 1044.2 258.5 1043.6 258.8 1044.8 259.1 1044.5 259.3 1043.7 259.6 1044.5 259.8 1043.6 260.1 1044.4 260.3 1044.5 260.6 1044.3 260.8 1043.8 261.1 1044.2 261.3 1044.2 261.6 1044.3 261.9 1044.9 262.1 1045.0 262.4 1044.9 262.6 1044.0 262.9 1043.9 263.1 1044.2 263.4 1044.4 263.6 1043.4 263.9 1043.9 264.2 1044.9 264.4 1043.6 264.7 1043.9 264.9 1043.9 265.2 1044.3 265.4 1044.1 265.7 1044.0 265.9 1043.5 266.2 1044.4 266.5 1044.1 266.7 1043.8 267.0 1044.1 267.2 1044.4 267.5 1043.4 267.7 1043.4 268.0 1043.6 268.2 1043.6 268.5 1042.7 268.8 1043.7 269.0 1044.4 269.3 1043.8 269.5 1044.3 269.8 1042.6 270.0 1043.7 270.3 1044.4 270.5 1044.4 270.8 1043.5 271.1 1043.3 271.3 1043.8 271.6 1043.1 271.8 1043.3 272.1 1042.8 272.3 1043.4 272.6 1043.3 272.8 1044.0 273.1 1043.3 273.4 1042.9 273.6 1043.1 273.9 1042.4 274.1 1042.9 274.4 1042.6 274.6 1042.7 274.9 1042.7 275.1 1041.3 275.4 1042.1 275.7 1042.0 275.9 1040.9 276.2 1041.8 276.4 1040.5 276.7 1041.3 276.9 1040.0 277.2 1039.4 277.4 1038.3 277.7 1037.3 278.0 1034.5 278.2 1031.1 278.5 1025.4 278.7 1018.3 279.0 1005.0 279.2 986.4 279.5 961.5 279.7 929.9 280.0 897.7 280.2 865.7 280.5 842.4 280.8 833.2 280.8 833.9 281.0 842.4 281.3 866.3 281.5 897.6 281.8 930.4 282.0 960.6 282.3 986.6 282.5 1005.1 282.8 1018.6 283.1 1025.1 283.3 1031.2 283.6 1034.6 283.8 1036.9 284.1 1038.4 284.3 1038.8 284.6 1039.2 284.8 1040.6 285.1 1041.4 285.4 1040.1 285.6 1041.7 285.9 1041.8 286.1 1041.6 286.4 1042.0 286.6 1042.4 286.9 1042.5 287.1 1042.5 287.4 1042.3 287.7 1042.9 287.9 1042.7 288.2 1043.0 288.4 1042.9 288.7 1043.3 288.9 1043.5 289.2 1043.5 289.4 1043.7 289.7 1042.9 290.0 1043.7 290.2 1043.7 290.5 1043.4 290.7 1043.5 291.0 1042.5 291.2 1043.7 291.5 1043.5 291.7 1042.8 292.0 1044.0 292.3 1043.6 292.5 1044.0 292.8 1043.8 293.0 1044.1 293.3 1043.9 293.5 1043.8 293.8 1044.1 294.0 1044.3 294.3 1043.0 294.6 1044.0 294.8 1043.7 295.1 1043.6 295.3 1044.5 295.6 1044.4 295.8 1043.6 296.1 1043.6 296.3 1044.4 296.6 1043.8 296.9 1043.9 297.1 1043.2 297.4 1044.0 297.6 1044.5 297.9 1043.9 298.1 1044.0 298.4 1044.8 298.6 1044.4 298.9 1044.7 299.2 1044.4 299.4 1044.6 299.7 1043.4 299.9 1043.8 300.2 1043.4 300.4 1045.1 300.7 1044.2 300.9 1044.1 301.2 1043.8 301.4 1043.7 301.7 1042.9 302.0 1045.0 302.2 1044.0 302.5 1044.1 302.7 1043.5 303.0 1044.0 303.2 1044.2 303.5 1044.0 303.7 1044.3 304.0 1043.7 304.3 1044.1 304.5 1044.3 304.8 1044.1 305.0 1044.0 305.3 1043.7 305.5 1043.2 305.8 1043.7 306.0 1043.2 306.3 1042.7 306.6 1043.2 306.8 1042.0 307.1 1042.0 307.3 1042.3 307.6 1042.0 307.8 1041.2 308.1 1041.1 308.3 1041.3 308.3 1041.0 308.6 1040.8 308.9 1041.5 309.1 1041.6 309.4 1042.0 309.6 1042.7 309.9 1042.7 310.1 1042.7 310.4 1043.2 310.6 1044.2 310.9 1043.2 311.2 1043.5 311.4 1043.5 311.7 1044.0 311.9 1043.4 312.2 1044.1 312.4 1044.3 312.7 1043.7 312.9 1043.7 313.2 1043.4 313.5 1044.1 313.7 1043.6 314.0 1043.9 314.2 1044.0 314.5 1043.8 314.7 1044.5 315.0 1044.9 315.2 1043.3 315.5 1043.8 315.8 1044.3 316.0 1043.7 316.3 1043.9 316.5 1044.2 316.8 1044.8 317.0 1044.6 317.3 1044.1 317.5 1044.3 317.8 1044.0 318.1 1044.1 318.3 1043.7 318.6 1043.5 318.8 1044.0 319.1 1044.6 319.3 1044.5 319.6 1043.4 319.8 1044.1 320.1 1043.9 320.4 1044.3 320.6 1043.7 320.9 1044.6 321.1 1044.1 321.4 1044.4 321.6 1044.6 321.9 1043.4 322.1 1044.1 322.4 1044.8 322.6 1044.2 322.9 1044.6 323.2 1044.4 323.4 1044.0 323.7 1044.3 323.9 1044.6 324.2 1044.7 324.4 1044.8 324.7 1043.7 324.9 1044.5 325.2 1043.6 325.5 1044.1 325.7 1044.1 326.0 1044.4 326.2 1044.3 326.5 1044.7 326.7 1043.9 327.0 1044.5 327.2 1044.3 327.5 1044.2 327.8 1043.7 328.0 1044.4 328.3 1044.3 328.5 1044.5 328.8 1044.1 329.0 1044.0 329.3 1044.3 329.5 1044.3 329.8 1044.4 330.1 1044.9 330.3 1043.8 330.6 1045.0 330.8 1042.9 331.1 1044.5 331.3 1043.8 331.6 1044.9 331.8 1043.7 332.1 1044.5 332.4 1043.6 332.6 1043.6 332.9 1044.4 333.1 1044.4 333.4 1043.8 333.6 1045.0 333.9 1043.8 334.1 1044.7 334.4 1043.6 334.7 1043.6 334.9 1044.0 335.2 1043.5 335.4 1044.1 335.7 1043.0 335.9 1044.0 336.2 1043.7 336.4 1043.5 336.7 1043.9 337.0 1043.8 337.2 1043.6 337.5 1044.1 337.7 1043.9 338.0 1043.9 338.2 1044.3 338.5 1043.6 338.7 1044.0 339.0 1043.4 339.3 1043.7 339.5 1043.7 339.8 1043.1 340.0 1042.6 340.3 1042.6 340.5 1042.6 340.8 1043.2 341.0 1042.8 341.3 1042.5 341.6 1042.5 341.8 1042.3 342.1 1042.2 342.3 1040.7 342.6 1040.3 342.8 1039.2 343.1 1037.0 343.3 1035.7 343.6 1033.3 343.8 1031.0 344.1 1028.7 344.4 1025.5 344.6 1024.2 344.9 1022.9 345.0 1023.2 345.1 1023.0 345.4 1024.5 345.6 1025.9 345.9 1028.3 346.1 1031.6 346.4 1033.7 346.7 1035.8 346.9 1037.3 347.2 1039.3 347.4 1040.5 347.7 1040.6 347.9 1041.1 348.2 1041.5 348.4 1043.0 348.7 1042.2 349.0 1042.1 349.2 1043.0 349.5 1043.4 349.7 1042.5 350.0 1043.1 350.2 1042.6 350.5 1043.0 350.7 1044.0 351.0 1043.5 351.3 1043.3 351.5 1043.5 351.8 1043.6 352.0 1043.4 352.3 1043.0 352.5 1043.1 352.8 1044.4 353.0 1043.2 353.3 1044.1 353.6 1043.3 353.8 1044.2 354.1 1043.9 354.3 1043.6 354.6 1044.5 354.8 1043.3 355.1 1043.5 355.3 1043.3 355.6 1043.3 355.9 1043.5 356.1 1043.3 356.4 1043.5 356.6 1044.3 356.9 1043.0 357.1 1043.1 357.4 1043.3 357.6 1043.4 357.9 1044.0 358.2 1043.9 358.4 1043.9 358.7 1043.7 358.9 1044.6 359.2 1043.1 359.4 1043.1 359.7 1043.6 359.9 1043.6 360.2 1043.4 360.5 1043.2 360.7 1043.0 361.0 1043.4 361.2 1043.2 361.5 1043.3 361.7 1043.0 362.0 1044.0 362.2 1043.6 362.5 1044.2 362.8 1043.2 363.0 1043.4 363.3 1043.3 363.5 1043.4 363.8 1043.2 364.0 1043.2 364.3 1042.5 364.5 1043.2 364.8 1043.5 365.0 1042.4 365.3 1043.0 365.6 1043.5 365.8 1043.7 366.1 1043.1 366.3 1043.3 366.6 1043.8 366.8 1043.5 367.1 1042.8 367.3 1042.6 367.6 1043.3 367.9 1042.9 368.1 1042.5 368.4 1042.6 368.6 1042.8 368.9 1042.6 369.1 1042.5 369.4 1042.4 369.6 1041.9 369.9 1043.0 370.2 1042.8 370.4 1042.9 370.7 1042.2 370.9 1042.2 371.2 1042.2 371.4 1042.3 371.7 1041.1 371.9 1042.0 372.2 1041.3 372.5 1041.5 372.7 1041.1 373.0 1042.0 373.2 1041.4 373.5 1041.1 373.7 1041.4 374.0 1040.7 374.2 1040.3 374.5 1040.3 374.8 1040.0 375.0 1039.9 375.3 1040.0 375.5 1039.2 375.8 1039.0 376.0 1039.2 376.3 1038.7 376.5 1038.4 376.8 1037.6 377.1 1036.7 377.3 1036.3 377.6 1035.4 377.8 1036.0 378.1 1034.9 378.3 1033.6 378.6 1032.5 378.8 1032.0 379.1 1030.8 379.4 1029.3 379.6 1026.8 379.9 1024.3 380.1 1022.3 380.4 1017.2 380.6 1012.5 380.9 1006.5 381.1 997.0 381.4 987.7 381.7 974.4 381.9 958.4 382.2 940.7 382.4 919.2 382.7 896.4 382.9 875.6 383.2 853.0 383.4 834.6 383.7 822.3 384.0 817.4 384.0 817.4 384.2 821.6 384.5 834.1 384.7 853.6 385.0 874.8 385.2 897.5 385.5 919.4 385.7 939.7 386.0 958.5 386.2 973.6 386.5 986.9 386.8 996.7 387.0 1004.5 387.3 1011.7 387.5 1016.2 387.8 1019.7 388.0 1022.4 388.3 1024.1 388.5 1024.8 388.8 1025.6 389.1 1024.0 389.3 1020.5 389.6 1014.8 389.8 1004.2 390.1 990.4 390.3 973.5 390.6 958.6 390.8 949.2 391.0 947.7 391.1 949.4 391.4 959.4 391.6 976.6 391.9 992.6 392.1 1007.4 392.4 1018.9 392.6 1025.3 392.9 1029.8 393.1 1032.0 393.4 1032.6 393.7 1029.7 393.9 1026.7 394.2 1020.1 394.4 1012.2 394.7 1001.6 394.9 992.5 395.2 985.8 395.4 982.3 395.4 982.0 395.7 986.6 396.0 994.0 396.2 1003.7 396.5 1014.2 396.7 1023.0 397.0 1030.1 397.2 1033.5 397.5 1036.7 397.7 1038.6 398.0 1039.0 398.3 1039.8 398.5 1039.4 398.8 1040.6 399.0 1039.8 399.3 1040.9 399.5 1041.8 399.8 1041.5 400.0 1041.4 400.3 1041.5 400.6 1042.5 400.8 1042.0 401.1 1042.3 401.3 1041.6 401.6 1041.7 401.8 1041.5 402.1 1041.9 402.3 1041.8 402.6 1042.5 402.9 1042.5 403.1 1042.1 403.4 1042.0 403.6 1041.0 403.9 1042.0 404.1 1042.4 404.4 1042.5 404.6 1041.1 404.9 1041.3 405.2 1042.3 405.4 1041.9 405.7 1042.3 405.9 1042.1 406.2 1042.5 406.4 1041.5 406.7 1042.0 406.9 1042.6 407.2 1042.3 407.4 1041.9 407.7 1042.4 408.0 1042.4 408.2 1041.9 408.5 1042.5 408.7 1042.4 409.0 1042.1 409.2 1042.4 409.5 1041.6 409.7 1042.5 410.0 1041.9 410.3 1041.5 410.5 1041.6 410.8 1042.3 411.0 1041.7 411.3 1041.5 411.5 1041.4 411.8 1041.2 412.0 1041.8 412.3 1042.2 412.6 1041.9 412.8 1041.5 413.1 1041.4 413.3 1040.9 413.6 1040.7 413.8 1040.3 414.1 1041.2 414.3 1040.5 414.6 1040.1 414.9 1040.0 415.1 1040.1 415.4 1039.6 415.6 1039.6 415.9 1039.5 416.1 1039.7 416.4 1038.3 416.6 1038.7 416.9 1037.9 417.2 1037.7 417.4 1038.1 417.7 1037.3 417.9 1036.5 418.2 1036.2 418.4 1035.3 418.7 1035.1 418.9 1033.8 419.2 1033.2 419.5 1032.1 419.7 1030.9 420.0 1029.4 420.2 1027.3 420.5 1025.3 420.7 1022.9 421.0 1018.9 421.2 1014.4 421.5 1009.3 421.8 1001.2 422.0 993.4 422.3 982.8 422.5 968.4 422.8 954.6 423.0 937.3 423.3 920.1 423.5 900.5 423.8 880.2 424.1 861.3 424.3 845.8 424.6 835.7 424.8 832.7 424.8 832.8 425.1 836.1 425.3 846.9 425.6 861.3 425.8 879.1 426.1 898.1 426.4 917.2 426.6 936.4 426.9 952.5 427.1 966.0 427.4 978.6 427.6 988.0 427.9 996.8 428.1 1004.2 428.4 1009.0 428.6 1013.4 428.6 1013.0 428.9 1017.0 429.2 1019.9 429.4 1022.1 429.7 1025.3 429.9 1026.0 430.2 1028.8 430.4 1030.0 430.7 1031.4 430.9 1032.2 431.2 1033.5 431.5 1034.9 431.7 1035.4 432.0 1036.0 432.2 1037.2 432.5 1037.5 432.7 1037.9 433.0 1038.4 433.2 1039.2 433.5 1038.9 433.8 1039.3 434.0 1039.7 434.3 1039.2 434.5 1039.1 434.8 1040.1 435.0 1040.7 435.3 1040.6 435.5 1040.5 435.8 1040.6 436.1 1041.4 436.3 1041.1 436.6 1040.6 436.8 1041.6 437.1 1041.7 437.3 1041.8 437.6 1042.2 437.8 1042.4 438.1 1042.1 438.4 1041.9 438.6 1041.2 438.9 1042.2 439.1 1042.2 439.4 1042.8 439.6 1042.9 439.9 1042.6 440.1 1043.0 440.4 1042.5 440.7 1042.5 440.9 1042.2 441.2 1042.5 441.4 1042.8 441.7 1043.2 441.9 1042.5 442.2 1043.2 442.4 1043.8 442.7 1042.3 443.0 1042.8 443.2 1042.9 443.5 1043.3 443.7 1043.8 444.0 1043.6 444.2 1043.1 444.5 1042.7 444.7 1043.1 445.0 1043.1 445.3 1043.2 445.5 1042.8 445.8 1043.8 446.0 1042.9 446.3 1043.5 446.5 1043.3 446.8 1042.7 447.0 1043.3 447.3 1043.2 447.6 1043.2 447.8 1043.6 448.1 1043.0 448.3 1044.3 448.6 1043.7 448.8 1042.9 449.1 1042.2 449.3 1043.8 449.6 1043.3 449.8 1043.3 450.1 1042.8 450.4 1042.6 450.6 1042.4 450.9 1044.2 451.1 1043.8 451.4 1042.9 451.6 1043.8 451.9 1042.3 452.1 1043.2 452.4 1043.2 452.7 1042.4 452.9 1042.5 453.2 1042.1 453.4 1042.4 453.7 1042.7 453.9 1042.1 454.2 1041.3 454.4 1040.5 454.7 1037.7 455.0 1036.5 455.2 1031.8 455.5 1026.7 455.7 1020.8 456.0 1014.2 456.2 1008.1 456.5 1003.1 456.7 1000.6 456.7 1002.2 457.0 1004.3 457.3 1007.9 457.5 1015.0 457.8 1021.5 458.0 1027.5 458.3 1032.6 458.5 1035.3 458.8 1038.7 459.0 1039.7 459.3 1042.1 459.6 1041.4 459.8 1041.6 460.1 1043.0 460.3 1042.8 460.6 1042.7 460.8 1042.9 461.1 1043.2 461.3 1043.7 461.6 1042.8 461.9 1042.8 462.1 1043.0 462.4 1043.2 462.6 1043.2 462.9 1042.6 463.1 1043.4 463.4 1042.7 463.6 1043.1 463.9 1043.1 464.2 1043.1 464.4 1043.8 464.7 1043.9 464.9 1043.6 465.2 1043.8 465.4 1042.9 465.7 1043.6 465.9 1043.0 466.2 1043.0 466.5 1042.8 466.7 1042.1 467.0 1042.1 467.2 1042.1 467.5 1042.1 467.7 1041.4 468.0 1040.7 468.2 1039.9 468.5 1039.6 468.7 1038.0 469.0 1036.8 469.3 1035.8 469.5 1034.4 469.8 1032.4 470.0 1030.5 470.3 1030.0 470.5 1029.2 470.8 1028.3 470.8 1028.4 471.0 1027.6 471.3 1030.2 471.6 1030.7 471.8 1033.2 472.1 1033.9 472.3 1036.0 472.6 1037.2 472.8 1037.7 473.1 1040.8 473.3 1039.8 473.6 1041.2 473.9 1041.4 474.1 1041.9 474.4 1042.9 474.6 1041.8 474.9 1042.7 475.1 1043.2 475.4 1043.1 475.6 1043.3 475.9 1042.9 476.2 1042.6 476.4 1042.8 476.7 1043.2 476.9 1043.8 477.2 1043.5 477.4 1044.2 477.7 1043.6 477.9 1043.7 478.2 1043.7 478.5 1042.9 478.7 1043.9 479.0 1043.3 479.2 1043.6 479.5 1044.7 479.7 1043.2 480.0 1043.8 480.2 1043.9 480.5 1043.8 480.8 1043.8 481.0 1043.6 481.3 1044.6 481.5 1043.0 481.8 1043.4 482.0 1044.5 482.3 1044.0 482.5 1043.5 482.8 1043.5 483.1 1043.7 483.3 1045.0 483.6 1044.1 483.8 1043.4 484.1 1044.0 484.3 1043.6 484.6 1044.5 484.8 1044.0 485.1 1044.4 485.4 1044.0 485.6 1044.7 485.9 1044.0 486.1 1044.0 486.4 1043.4 486.6 1043.7 486.9 1044.0 487.1 1043.6 487.4 1044.9 487.7 1043.8 487.9 1043.5 488.2 1044.2 488.4 1043.5 488.7 1043.9 488.9 1043.7 489.2 1043.3 489.4 1044.1 489.7 1043.4 489.9 1043.6 490.2 1042.7 490.5 1041.7 490.7 1040.9 491.0 1040.0 491.2 1038.6 491.5 1036.6 491.7 1034.6 492.0 1031.8 492.2 1030.9 492.5 1029.8 492.5 1030.0 492.8 1032.0 493.0 1032.9 493.3 1034.3 493.5 1037.5 493.8 1039.3 494.0 1040.6 494.3 1042.1 494.5 1042.3 494.8 1042.8 495.1 1042.8 495.3 1043.6 495.6 1043.0 495.8 1043.4 496.1 1043.8 496.3 1043.5 496.6 1043.9 496.8 1044.6 497.1 1043.4 497.4 1044.4 497.6 1043.5 497.9 1043.5 498.1 1044.0 498.4 1044.3 498.6 1043.6 498.9 1043.6 499.1 1043.7 499.4 1043.6 499.7 1044.0 499.9 1043.6 500.2 1043.9 500.4 1044.2 500.7 1043.8 500.9 1044.4 501.2 1043.7 501.4 1043.6 501.7 1044.8 502.0 1044.6 502.2 1044.0 502.5 1044.3 502.7 1044.1 503.0 1043.8 503.2 1044.3 503.5 1044.1 503.7 1044.5 504.0 1043.2 504.3 1044.3 504.5 1044.1 504.8 1043.7 505.0 1043.8 505.3 1043.8 505.5 1043.5 505.8 1043.7 506.0 1044.3 506.3 1043.3 506.6 1043.8 506.8 1043.0 507.1 1043.7 507.3 1044.2 507.6 1044.0 507.8 1044.0 508.1 1043.5 508.3 1044.2 508.6 1043.6 508.9 1044.4 509.1 1044.0 509.4 1043.8 509.6 1044.6 509.9 1043.8 510.1 1044.4 510.4 1044.0 510.6 1043.9 510.9 1044.4 511.1 1044.1 511.4 1043.9 511.7 1043.9 511.9 1044.0 512.2 1043.9 512.4 1043.8 512.7 1043.4 512.9 1042.8 513.2 1043.9 513.4 1043.8 513.7 1044.3 514.0 1044.0 514.2 1044.3 514.5 1044.5 514.7 1043.7 515.0 1043.4 515.2 1044.1 515.5 1043.4 515.7 1043.5 516.0 1044.2 516.3 1043.7 516.5 1043.9 516.8 1042.8 517.0 1043.2 517.3 1043.6 517.5 1042.4 517.8 1042.7 518.0 1042.5 518.3 1041.2 518.6 1042.5 518.8 1041.1 519.1 1040.9 519.3 1041.3 519.6 1039.5 519.8 1040.0 520.1 1039.2 520.3 1039.3 520.6 1038.8 520.6 1039.8 520.9 1038.8 521.1 1039.7 521.4 1040.0 521.6 1040.1 521.9 1040.5 522.1 1040.9 522.4 1041.9 522.6 1041.9 522.9 1042.1 523.2 1041.9 523.4 1042.8 523.7 1043.1 523.9 1043.0 524.2 1043.8 524.4 1042.5 524.7 1044.4 524.9 1043.4 525.2 1043.1 525.5 1042.8 525.7 1044.0 526.0 1043.9 526.2 1043.6 526.5 1043.7 526.7 1043.8 527.0 1043.6 527.2 1044.2 527.5 1044.0 527.8 1043.7 528.0 1043.1 528.3 1044.4 528.5 1043.6 528.8 1043.4 529.0 1044.4 529.3 1044.1 529.5 1042.9 529.8 1043.1 530.1 1043.6 530.3 1043.3 530.6 1043.8 530.8 1044.9 531.1 1045.1 531.3 1043.8 531.6 1044.2 531.8 1044.2 532.1 1043.8 532.3 1043.2 532.6 1044.3 532.9 1043.7 533.1 1044.0 533.4 1044.1 533.6 1043.5 533.9 1044.5 534.1 1043.8 534.4 1043.9 534.6 1043.6 534.9 1044.1 535.2 1044.2 535.4 1043.5 535.7 1044.0 535.9 1043.6 536.2 1043.2 536.4 1043.6 536.7 1044.0 536.9 1044.0 537.2 1044.1 537.5 1043.4 537.7 1043.5 538.0 1043.7 538.2 1043.9 538.5 1043.5 538.7 1043.2 539.0 1042.9 539.2 1044.0 539.5 1044.0 539.8 1043.3 540.0 1044.1 540.3 1043.4 540.5 1043.7 540.8 1044.0 541.0 1043.2 541.3 1043.1 541.5 1042.7 541.8 1043.4 542.1 1043.5 542.3 1043.7 542.6 1043.5 542.8 1043.3 543.1 1043.6 543.3 1042.7 543.6 1043.2 543.8 1043.2 544.1 1042.8 544.4 1043.7 544.6 1043.0 544.9 1043.3 545.1 1043.1 545.4 1042.5 545.6 1043.3 545.9 1042.8 546.1 1042.2 546.4 1042.0 546.7 1041.5 546.9 1041.8 547.2 1041.6 547.4 1041.5 547.7 1041.0 547.9 1041.2 548.2 1040.7 548.4 1039.6 548.7 1039.7 549.0 1039.0 549.2 1038.1 549.5 1037.6 549.7 1037.2 550.0 1035.0 550.2 1033.1 550.5 1031.6 550.7 1030.8 551.0 1026.2 551.3 1023.4 551.5 1019.3 551.8 1015.6 552.0 1011.6 552.3 1005.9 552.5 1002.2 552.8 996.8 553.0 993.9 553.3 990.8 553.5 990.8 553.5 990.0 553.8 991.6 554.1 993.5 554.3 997.5 554.6 1001.2 554.8 1005.7 555.1 1010.4 555.3 1015.1 555.6 1019.2 555.8 1023.4 556.1 1026.4 556.4 1029.5 556.6 1032.2 556.9 1033.7 557.1 1035.6 557.4 1037.2 557.6 1037.9 557.9 1038.9 558.1 1039.5 558.4 1040.7 558.7 1040.3 558.9 1040.4 559.2 1041.3 559.4 1042.0 559.7 1042.1 559.9 1041.7 560.2 1042.2 560.4 1042.3 560.7 1042.1 561.0 1042.5 561.2 1042.7 561.5 1042.5 561.7 1043.2 562.0 1042.5 562.2 1043.3 562.5 1043.7 562.7 1043.8 563.0 1043.1 563.3 1042.8 563.5 1042.4 563.8 1043.1 564.0 1044.2 564.3 1042.5 564.5 1042.5 564.8 1043.6 565.0 1043.6 565.3 1042.5 565.6 1043.3 565.8 1043.6 566.1 1042.8 566.3 1043.9 566.6 1042.9 566.8 1044.0 567.1 1043.6 567.3 1043.2 567.6 1042.8 567.9 1043.4 568.1 1043.5 568.4 1043.5 568.6 1043.3 568.9 1043.5 569.1 1044.0 569.4 1043.3 569.6 1043.6 569.9 1043.9 570.2 1043.7 570.4 1044.0 570.7 1044.3 570.9 1043.5 571.2 1043.8 571.4 1042.5 571.7 1043.6 571.9 1044.0 572.2 1043.3 572.5 1044.3 572.7 1043.0 573.0 1044.3 573.2 1043.5 573.5 1043.3 573.7 1043.6 574.0 1043.6 574.2 1043.3 574.5 1043.2 574.7 1043.5 575.0 1044.2 575.3 1043.9 575.5 1044.3 575.8 1043.5 576.0 1043.6 576.3 1043.6 576.5 1043.8 576.8 1044.0 577.0 1044.5 577.3 1044.1 577.6 1043.8 577.8 1044.3 578.1 1043.4 578.3 1043.2 578.6 1044.0 578.8 1043.8 579.1 1043.7 579.3 1044.0 579.6 1043.5 579.9 1043.6 580.1 1043.7 580.4 1043.7 580.6 1043.9 580.9 1043.4 581.1 1043.5 581.4 1042.2 581.6 1043.6 581.9 1042.4 582.2 1043.0 582.4 1043.9 582.7 1042.6 582.9 1041.9 583.2 1043.2 583.4 1042.2 583.7 1042.2 583.9 1042.2 584.2 1042.6 584.5 1042.7 584.5 1042.2 584.7 1042.7 585.0 1041.9 585.2 1042.6 585.5 1042.1 585.7 1042.8 586.0 1042.4 586.2 1042.5 586.5 1043.4 586.8 1042.5 587.0 1042.6 587.3 1043.4 587.5 1043.1 587.8 1043.1 588.0 1043.3 588.3 1044.3 588.5 1043.1 588.8 1043.5 589.1 1043.7 589.3 1043.2 589.6 1043.7 589.8 1043.9 590.1 1043.4 590.3 1044.2 590.6 1043.3 590.8 1043.7 591.1 1043.9 591.4 1045.1 591.6 1043.1 591.9 1043.9 592.1 1044.9 592.4 1043.6 592.6 1044.3 592.9 1043.9 593.1 1043.2 593.4 1044.0 593.7 1043.4 593.9 1043.9 594.2 1043.2 594.4 1044.1 594.7 1042.8 594.9 1043.8 595.2 1044.4 595.4 1044.0 595.7 1043.7 595.9 1043.7 596.2 1043.6 596.5 1044.9 596.7 1043.8 597.0 1043.8 597.2 1043.5 597.5 1043.6 597.7 1044.0 598.0 1043.5 598.2 1043.5 598.5 1043.6 598.8 1043.6 599.0 1043.8 599.3 1043.5 599.5 1043.6 599.8 1043.4 600.0 1044.3 600.3 1043.7 600.5 1043.5 600.8 1043.8 601.1 1043.7 601.3 1043.0 601.6 1043.6 601.8 1044.3 602.1 1043.9 602.3 1044.1 602.6 1043.3 602.8 1043.0 603.1 1043.3 603.4 1044.1 603.6 1043.1 603.9 1043.1 604.1 1044.0 604.4 1043.3 604.6 1043.3 604.9 1043.6 605.1 1043.4 605.4 1043.2 605.7 1043.5 605.9 1043.0 606.2 1043.2 606.4 1043.4 606.7 1042.7 606.9 1043.0 607.2 1042.4 607.4 1043.2 607.7 1043.0 608.0 1043.0 608.2 1042.9 608.5 1042.8 608.7 1042.3 609.0 1041.4 609.2 1041.8 609.5 1040.6 609.7 1041.4 610.0 1040.1 610.3 1039.6 610.5 1038.2 610.8 1038.2 611.0 1037.3 611.3 1035.3 611.5 1034.6 611.8 1033.7 612.0 1032.6 612.3 1032.6 612.6 1032.1 612.8 1030.3 613.1 1030.7 613.2 1030.5 613.3 1031.0 613.6 1029.5 613.8 1030.9 614.1 1032.4 614.3 1032.4 614.6 1034.1 614.9 1034.6 615.1 1036.2 615.4 1036.7 615.6 1037.3 615.9 1037.9 616.1 1038.8 616.4 1039.9 616.6 1040.1 616.9 1040.1 617.1 1042.2 617.4 1040.3 617.7 1041.1 617.9 1041.5 618.2 1041.0 618.4 1041.4 618.7 1041.2 618.9 1040.7 619.2 1041.5 619.4 1040.7 619.7 1040.7 620.0 1041.3 620.2 1040.0 620.5 1040.3 620.7 1039.6 621.0 1038.4 621.2 1036.3 621.5 1032.4 621.7 1026.7 622.0 1019.7 622.3 1008.9 622.5 994.5 622.8 978.4 623.0 963.1 623.3 947.9 623.5 939.6 623.7 937.8 623.8 938.6 624.0 948.8 624.3 962.4 624.6 978.9 624.8 994.6 625.1 1008.8 625.3 1019.8 625.6 1027.3 625.8 1033.7 626.1 1035.4 626.3 1038.6 626.6 1038.7 626.9 1039.8 627.1 1040.3 627.4 1041.5 627.6 1041.3 627.9 1041.7 628.1 1041.7 628.4 1041.6 628.6 1042.0 628.9 1042.1 629.2 1042.5 629.4 1042.6 629.7 1041.8 629.9 1042.6 630.2 1043.5 630.4 1042.9 630.7 1043.0 630.9 1042.8 631.2 1042.9 631.5 1043.2 631.7 1042.7 632.0 1043.2 632.2 1042.7 632.5 1043.5 632.7 1042.7 633.0 1043.7 633.2 1043.9 633.5 1042.7 633.8 1043.8 634.0 1043.3 634.3 1044.0 634.5 1043.3 634.8 1043.4 635.0 1043.4 635.3 1044.1 635.5 1042.8 635.8 1043.9 636.1 1043.6 636.3 1043.4 636.6 1043.5 636.8 1044.0 637.1 1044.0 637.3 1044.3 637.6 1043.4 637.8 1042.9 638.1 1043.4 638.3 1043.6 638.6 1043.5 638.9 1044.2 639.1 1044.6 639.4 1043.8 639.6 1042.9 639.9 1044.1 640.1 1043.4 640.4 1043.7 640.6 1044.0 640.9 1043.8 641.2 1043.6 641.4 1043.8 641.7 1044.0 641.9 1043.9 642.2 1044.5 642.4 1042.4 642.7 1043.3 642.9 1043.4 643.2 1044.0 643.5 1043.7 643.7 1044.0 644.0 1043.0 644.2 1043.5 644.5 1043.9 644.7 1043.6 645.0 1043.5 645.2 1043.7 645.5 1044.3 645.8 1042.7 646.0 1044.2 646.3 1043.6 646.5 1043.1 646.8 1043.8 647.0 1043.5 647.3 1043.9 647.5 1043.0 647.8 1043.7 648.1 1042.9 648.3 1043.3 648.6 1043.4 648.8 1043.0 649.1 1043.2 649.3 1042.5 649.6 1043.1 649.8 1042.2 650.1 1041.7 650.4 1041.3 650.6 1040.1 650.9 1038.1 651.1 1036.4 651.4 1032.2 651.6 1028.1 651.9 1021.9 652.1 1016.7 652.4 1012.4 652.7 1009.4 652.8 1009.5 652.9 1010.0 653.2 1012.7 653.4 1017.7 653.7 1023.1 653.9 1027.6 654.2 1032.5 654.4 1035.5 654.7 1038.6 655.0 1039.8 655.2 1041.9 655.5 1042.1 655.7 1042.1 656.0 1042.0 656.2 1042.8 656.5 1042.6 656.7 1043.1 657.0 1042.7 657.2 1042.9 657.5 1043.4 657.8 1043.8 658.0 1042.7 658.3 1043.2 658.5 1043.4 658.8 1043.2 659.0 1043.1 659.3 1044.2 659.5 1042.9 659.8 1043.5 660.1 1043.2 660.3 1043.4 660.6 1042.4 660.8 1043.7 661.1 1043.3 661.3 1042.9 661.6 1044.0 661.8 1043.2 662.1 1043.1 662.4 1043.0 662.6 1043.8 662.9 1043.3 663.1 1043.1 663.4 1042.7 663.6 1042.8 663.9 1043.4 664.1 1043.2 664.4 1042.4 664.7 1042.7 664.9 1043.2 665.2 1044.2 665.4 1042.7 665.7 1042.0 665.9 1043.2 666.2 1042.7 666.4 1042.3 666.7 1043.0 667.0 1042.6 667.2 1042.1 667.5 1041.9 667.7 1042.3 668.0 1042.2 668.2 1041.3 668.5 1042.2 668.7 1041.1 669.0 1041.8 669.3 1041.1 669.5 1040.5 669.8 1040.2 670.0 1039.1 670.3 1038.6 670.5 1038.6 670.8 1036.6 671.0 1036.0 671.3 1034.1 671.6 1032.7 671.8 1031.9 672.1 1029.4 672.3 1028.5 672.6 1025.6 672.8 1024.3 673.1 1023.4 673.3 1023.0 673.6 1021.8 673.9 1020.9 673.9 1021.3 674.1 1021.6 674.4 1021.4 674.6 1023.3 674.9 1025.3 675.1 1026.9 675.4 1027.9 675.6 1029.6 675.9 1031.1 676.2 1032.9 676.4 1034.6 676.7 1036.0 676.9 1036.8 677.2 1037.5 677.4 1039.0 677.7 1039.8 677.9 1039.8 678.2 1040.4 678.4 1040.8 678.7 1040.5 679.0 1041.6 679.2 1042.1 679.5 1042.9 679.7 1042.3 680.0 1042.2 680.2 1042.4 680.5 1042.8 680.7 1042.9 681.0 1042.3 681.3 1042.8 681.5 1043.1 681.8 1042.0 682.0 1043.5 682.3 1042.9 682.5 1043.4 682.8 1043.1 683.0 1043.0 683.3 1043.1 683.6 1043.2 683.8 1043.6 684.1 1043.1 684.3 1042.8 684.6 1043.0 684.8 1042.9 685.1 1043.7 685.3 1042.9 685.6 1044.0 685.9 1043.4 686.1 1043.3 686.4 1043.9 686.6 1043.3 686.9 1043.3 687.1 1043.8 687.4 1043.7 687.6 1043.0 687.9 1044.5 688.2 1043.7 688.4 1043.0 688.7 1043.4 688.9 1043.9 689.2 1043.6 689.4 1043.8 689.7 1044.5 689.9 1043.9 690.2 1044.3 690.5 1043.8 690.7 1043.3 691.0 1044.2 691.2 1043.2 691.5 1043.9 691.7 1043.8 692.0 1043.2 692.2 1043.2 692.5 1043.5 692.8 1043.7 693.0 1044.1 693.3 1043.5 693.5 1044.3 693.8 1043.9 694.0 1043.3 694.3 1043.3 694.5 1043.6 694.8 1043.3 695.1 1043.5 695.3 1043.8 695.6 1043.6 695.8 1043.9 696.1 1043.2 696.3 1043.1 696.6 1042.9 696.8 1042.7 697.1 1043.3 697.4 1043.5 697.6 1043.4 697.9 1043.5 698.1 1044.4 698.4 1043.0 698.6 1043.4 698.9 1043.2 699.1 1043.1 699.4 1044.0 699.6 1043.4 699.9 1044.0 700.2 1042.9 700.4 1044.2 700.7 1044.3 700.9 1043.0 701.2 1043.3 701.4 1043.3 701.7 1043.6 701.9 1042.8 702.2 1043.4 702.5 1043.6 702.7 1043.0 703.0 1042.3 703.2 1042.9 703.5 1043.0 703.7 1043.5 704.0 1042.9 704.2 1042.6 704.5 1043.3 704.8 1043.1 705.0 1043.3 705.3 1043.0 705.5 1043.3 705.8 1043.0 706.0 1042.1 706.3 1042.8 706.5 1042.9 706.8 1042.6 707.1 1043.2 707.3 1042.3 707.6 1042.7 707.8 1041.8 708.1 1042.2 708.3 1041.9 708.6 1041.6 708.8 1041.3 709.1 1041.8 709.4 1041.7 709.6 1041.1 709.9 1040.7 710.1 1040.4 710.4 1041.0 710.6 1039.8 710.9 1040.4 711.1 1038.7 711.4 1038.9 711.7 1038.4 711.9 1037.7 712.2 1035.9 712.4 1034.5 712.7 1032.6 712.9 1031.7 713.2 1028.9 713.4 1026.3 713.7 1023.7 714.0 1020.5 714.2 1017.4 714.5 1013.9 714.7 1009.5 715.0 1007.2 715.2 1003.2 715.5 1001.0 715.7 998.9 716.0 998.8 716.0 999.4 716.3 999.7 716.5 1000.4 716.8 1003.9 717.0 1006.7 717.3 1010.3 717.5 1013.6 717.8 1017.2 718.0 1021.3 718.3 1023.3 718.6 1027.2 718.8 1028.8 719.1 1031.0 719.3 1033.5 719.6 1035.1 719.8 1036.6 720.1 1037.6 720.3 1038.3 720.6 1038.7 720.8 1039.5 721.1 1039.8 721.4 1040.0 721.6 1041.4 721.9 1041.7 722.1 1041.1 722.4 1041.2 722.6 1041.4 722.9 1040.9 723.1 1041.5 723.4 1041.7 723.7 1042.1 723.9 1041.7 724.2 1041.4 724.4 1042.5 724.7 1043.0 724.9 1041.5 725.2 1042.4 725.4 1042.9 725.7 1042.0 726.0 1041.9 726.2 1042.6 726.5 1042.5 726.7 1042.3 727.0 1043.3 727.2 1043.3 727.5 1042.8 727.7 1042.6 728.0 1042.4 728.3 1042.7 728.5 1042.0 728.8 1042.4 729.0 1041.6 729.3 1039.8 729.5 1039.0 729.8 1037.6 730.0 1035.0 730.3 1032.2 730.6 1030.8 730.8 1029.6 730.9 1029.5 731.1 1029.7 731.3 1030.7 731.6 1033.1 731.8 1035.3 732.1 1036.7 732.3 1038.1 732.6 1040.4 732.9 1041.4 733.1 1042.2 733.4 1042.2 733.6 1042.9 733.9 1042.6 734.1 1043.5 734.4 1043.8 734.6 1042.8 734.9 1042.1 735.2 1043.0 735.4 1043.0 735.7 1043.4 735.9 1043.4 736.2 1043.6 736.4 1044.5 736.7 1043.1 736.9 1043.2 737.2 1043.6 737.5 1042.7 737.7 1043.7 738.0 1043.2 738.2 1042.8 738.5 1043.1 738.7 1043.7 739.0 1043.8 739.2 1044.0 739.5 1043.6 739.8 1043.2 740.0 1043.7 740.3 1043.4 740.5 1044.4 740.8 1042.6 741.0 1044.1 741.3 1043.8 741.5 1043.6 741.8 1043.4 742.0 1043.2 742.3 1043.1 742.6 1042.8 742.8 1044.2 743.1 1043.8 743.3 1043.7 743.6 1043.5 743.8 1042.5 744.1 1043.2 744.3 1043.3 744.6 1043.7 744.9 1042.7 745.1 1043.1 745.4 1042.7 745.6 1042.6 745.9 1041.7 746.1 1041.4 746.4 1040.2 746.6 1037.8 746.9 1037.3 747.2 1035.8 747.4 1032.5 747.7 1031.9 747.9 1030.7 747.9 1031.0 748.2 1032.5 748.4 1033.3 748.7 1035.3 748.9 1037.0 749.2 1039.2 749.5 1040.0 749.7 1041.7 750.0 1042.7 750.2 1042.7 750.5 1042.5 750.7 1042.8 751.0 1042.7 751.2 1043.4 751.5 1043.4 751.8 1042.9 752.0 1043.6 752.3 1043.0 752.5 1044.0 752.8 1043.6 753.0 1044.0 753.3 1042.9 753.5 1042.9 753.8 1042.5 754.1 1043.6 754.3 1042.8 754.6 1043.8 754.8 1043.3 755.1 1043.6 755.3 1042.7 755.6 1043.0 755.8 1043.3 756.1 1043.6 756.4 1042.7 756.6 1043.3 756.9 1042.8 757.1 1043.5 757.4 1043.1 757.6 1043.0 757.9 1043.3 758.1 1043.5 758.4 1042.9 758.7 1043.5 758.9 1042.6 759.2 1043.1 759.4 1042.4 759.7 1042.9 759.9 1042.5 760.2 1042.8 760.4 1043.0 760.7 1042.3 761.0 1042.0 761.2 1042.6 761.5 1042.7 761.7 1042.6 762.0 1042.1 762.2 1042.7 762.5 1042.2 762.7 1042.5 763.0 1041.8 763.2 1042.2 763.5 1042.3 763.8 1041.4 764.0 1041.4 764.3 1041.7 764.5 1041.4 764.8 1041.0 765.0 1040.5 765.3 1039.5 765.5 1039.8 765.8 1038.7 766.1 1038.8 766.3 1037.1 766.6 1038.0 766.8 1037.3 767.1 1035.8 767.3 1034.2 767.6 1033.5 767.8 1032.7 768.1 1031.5 768.4 1029.7 768.6 1029.3 768.9 1027.6 769.1 1026.4 769.4 1024.8 769.6 1024.4 769.9 1023.2 770.1 1023.4 770.1 1022.8 770.4 1023.6 770.7 1023.0 770.9 1023.4 771.2 1023.9 771.4 1024.3 771.7 1024.0 771.9 1025.6 772.2 1025.4 772.4 1025.2 772.7 1024.7 773.0 1024.3 773.2 1024.1 773.5 1023.2 773.7 1022.3 774.0 1021.6 774.2 1020.1 774.5 1018.7 774.7 1018.4 775.0 1016.4 775.3 1015.2 775.5 1014.3 775.8 1013.7 776.0 1014.2 776.0 1014.3 776.3 1014.6 776.5 1014.7 776.8 1016.8 777.0 1016.9 777.3 1019.6 777.6 1021.2 777.8 1023.3 778.1 1024.6 778.3 1027.0 778.6 1028.3 778.8 1030.1 779.1 1032.1 779.3 1033.1 779.6 1034.0 779.9 1036.0 780.1 1036.3 780.4 1036.4 780.6 1037.6 780.9 1038.8 781.1 1039.3 781.4 1039.8 781.6 1040.1 781.9 1040.0 782.2 1040.5 782.4 1040.3 782.7 1040.7 782.9 1040.7 783.2 1040.9 783.4 1041.2 783.7 1041.4 783.9 1041.3 784.2 1042.1 784.4 1041.6 784.7 1042.4 785.0 1042.3 785.2 1041.3 785.5 1042.3 785.7 1041.4 786.0 1042.6 786.2 1042.1 786.5 1041.6 786.7 1041.2 787.0 1041.8 787.3 1041.5 787.5 1042.6 787.8 1041.6 788.0 1041.9 788.3 1042.2 788.5 1042.0 788.8 1042.1 789.0 1041.9 789.3 1042.3 789.6 1041.6 789.8 1042.1 790.1 1041.4 790.3 1041.8 790.6 1041.2 790.8 1041.6 791.1 1041.8 791.3 1042.1 791.6 1040.6 791.9 1040.9 792.1 1040.8 792.4 1041.3 792.6 1040.3 792.9 1040.7 793.1 1039.9 793.4 1039.2 793.6 1039.5 793.9 1038.3 794.2 1038.6 794.4 1037.9 794.7 1037.3 794.9 1035.4 795.2 1035.6 795.4 1034.2 795.7 1031.9 795.9 1032.2 796.2 1030.4 796.5 1027.7 796.7 1026.4 797.0 1023.9 797.2 1022.8 797.5 1021.1 797.7 1019.5 798.0 1017.4 798.2 1016.3 798.5 1014.7 798.8 1014.8 799.0 1014.6 799.0 1014.1 799.3 1015.2 799.5 1015.6 799.8 1016.6 800.0 1018.1 800.3 1019.0 800.5 1021.0 800.8 1022.2 801.1 1024.5 801.3 1026.2 801.6 1028.6 801.8 1029.5 802.1 1031.0 802.3 1032.7 802.6 1033.9 802.8 1035.3 803.1 1035.8 803.4 1036.2 803.6 1037.0 803.9 1038.8 804.1 1038.5 804.4 1039.3 804.6 1039.3 804.9 1040.5 805.1 1040.3 805.4 1041.2 805.6 1040.6 805.9 1041.2 806.2 1041.6 806.4 1041.7 806.7 1040.8 806.9 1041.3 807.2 1041.4 807.4 1040.7 807.7 1041.8 807.9 1041.6 808.2 1041.5 808.5 1040.4 808.7 1040.5 809.0 1039.7 809.2 1038.6 809.5 1035.9 809.7 1033.6 810.0 1030.3 810.2 1025.0 810.5 1020.7 810.8 1016.8 811.0 1014.2 811.1 1014.4 811.3 1015.2 811.5 1016.8 811.8 1020.8 812.0 1025.8 812.3 1030.0 812.5 1033.5 812.8 1036.4 813.1 1038.7 813.3 1040.0 813.6 1041.3 813.8 1041.6 814.1 1042.3 814.3 1041.4 814.6 1042.7 814.8 1042.2 815.1 1042.5 815.4 1042.4 815.6 1042.9 815.9 1042.6 816.1 1042.9 816.4 1042.3 816.6 1042.8 816.9 1043.2 817.1 1043.1 817.4 1042.4 817.7 1042.5 817.9 1042.2 818.2 1042.1 818.4 1041.8 818.7 1041.6 818.9 1040.4 819.2 1039.2 819.4 1037.2 819.7 1033.6 820.0 1031.7 820.2 1028.9 820.5 1026.5 820.7 1025.9 820.7 1026.1 821.0 1027.9 821.2 1029.1 821.5 1031.5 821.7 1034.3 822.0 1036.5 822.3 1039.0 822.5 1040.3 822.8 1040.6 823.0 1041.7 823.3 1043.7 823.5 1042.9 823.8 1042.7 824.0 1043.2 824.3 1042.6 824.5 1043.1 824.8 1043.5 825.1 1042.5 825.3 1042.9 825.6 1043.1 825.8 1043.1 826.1 1043.1 826.3 1043.4 826.6 1043.8 826.8 1043.4 827.1 1043.8 827.4 1043.8 827.6 1043.1 827.9 1043.5 828.1 1043.3 828.4 1043.7 828.6 1043.3 828.9 1043.3 829.1 1044.1 829.4 1043.4 829.7 1042.8 829.9 1043.5 830.2 1043.6 830.4 1043.2 830.7 1043.5 830.9 1043.9 831.2 1043.2 831.4 1043.4 831.7 1043.2 832.0 1043.6 832.2 1043.4 832.5 1043.1 832.7 1043.4 833.0 1044.2 833.2 1042.8 833.5 1042.9 833.7 1043.7 834.0 1042.9 834.3 1044.3 834.5 1042.9 834.8 1042.9 835.0 1043.3 835.3 1043.9 835.5 1043.8 835.8 1043.7 836.0 1043.6 836.3 1044.0 836.6 1042.7 836.8 1043.6 837.1 1044.1 837.3 1043.0 837.6 1043.6 837.8 1044.0 838.1 1043.9 838.3 1043.4 838.6 1044.2 838.9 1043.6 839.1 1043.8 839.4 1043.0 839.6 1043.1 839.9 1043.1 840.1 1044.1 840.4 1042.4 840.6 1042.6 840.9 1043.7 841.2 1043.4 841.4 1042.1 841.7 1043.2 841.9 1043.2 842.2 1043.8 842.4 1042.5 842.7 1043.0 842.9 1043.7 843.2 1043.5 843.5 1042.8 843.7 1043.0 844.0 1042.5 844.2 1043.7 844.5 1042.9 844.7 1043.6 845.0 1043.3 845.2 1042.6 845.5 1042.9 845.7 1043.2 846.0 1043.0 846.3 1043.4 846.5 1043.3 846.8 1042.9 847.0 1042.9 847.3 1042.3 847.5 1042.2 847.8 1042.5 848.0 1042.3 848.3 1041.5 848.6 1041.8 848.8 1041.3 849.1 1041.2 849.3 1041.5 849.6 1040.3 849.8 1040.0 850.1 1040.1 850.3 1039.3 850.6 1038.9 850.9 1037.6 851.1 1037.6 851.4 1036.5 851.6 1035.7 851.9 1034.9 852.1 1034.3 852.4 1033.9 852.6 1033.3 852.9 1032.1 853.2 1032.1 853.4 1031.2 853.7 1030.1 853.9 1030.5 853.9 1031.2 854.2 1031.2 854.4 1030.7 854.7 1032.5 854.9 1031.7 855.2 1032.4 855.5 1033.2 855.7 1034.7 856.0 1035.3 856.2 1036.3 856.5 1035.8 856.7 1037.3 857.0 1038.1 857.2 1038.9 857.5 1039.0 857.8 1040.1 858.0 1039.8 858.3 1039.9 858.5 1040.1 858.8 1041.6 859.0 1041.7 859.3 1041.3 859.5 1042.2 859.8 1041.8 860.1 1041.9 860.3 1041.5 860.6 1042.0 860.8 1042.2 861.1 1042.3 861.3 1042.1 861.6 1042.7 861.8 1042.9 862.1 1042.0 862.4 1042.5 862.6 1041.8 862.9 1042.5 863.1 1042.0 863.4 1042.2 863.6 1042.2 863.9 1042.0 864.1 1042.4 864.4 1041.6 864.7 1041.7 864.9 1041.7 865.2 1041.4 865.4 1041.4 865.7 1041.0 865.9 1040.5 866.2 1040.8 866.4 1040.4 866.7 1040.2 866.9 1040.2 867.2 1039.2 867.5 1038.9 867.7 1038.4 868.0 1038.1 868.2 1037.2 868.5 1038.3 868.7 1037.6 869.0 1038.0 869.2 1036.6 869.5 1036.9 869.8 1036.8 869.9 1036.6 870.0 1037.0 870.3 1036.8 870.5 1036.8 870.8 1037.3 871.0 1036.5 871.3 1037.3 871.5 1037.6 871.8 1038.9 872.1 1038.8 872.3 1039.3 872.6 1039.6 872.8 1039.7 873.1 1040.5 873.3 1040.2 873.6 1040.0 873.8 1041.1 874.1 1041.6 874.4 1041.3 874.6 1041.6 874.9 1041.9 875.1 1042.4 875.4 1042.2 875.6 1042.7 875.9 1042.2 876.1 1043.0 876.4 1041.7 876.7 1042.7 876.9 1042.5 877.2 1042.5 877.4 1041.9 877.7 1043.0 877.9 1042.4 878.2 1042.1 878.4 1042.3 878.7 1042.5 879.0 1042.5 879.2 1042.2 879.5 1042.1 879.7 1042.7 880.0 1042.4 880.2 1043.1 880.5 1042.2 880.7 1042.5 881.0 1042.9 881.3 1042.1 881.5 1042.6 881.8 1042.2 882.0 1042.0 882.3 1042.5 882.5 1041.3 882.8 1041.4 883.0 1040.7 883.3 1041.1 883.6 1041.4 883.8 1040.7 884.1 1040.9 884.3 1040.0 884.6 1040.4 884.8 1039.6 885.1 1039.2 885.3 1039.8 885.6 1038.6 885.9 1038.3 886.1 1037.6 886.4 1037.4 886.6 1036.6 886.9 1035.4 887.1 1035.6 887.4 1035.2 887.6 1034.3 887.9 1033.5 888.1 1033.7 888.4 1032.1 888.7 1032.1 888.9 1031.4 889.2 1030.6 889.4 1030.2 889.7 1030.7 889.9 1030.2 890.2 1030.1 890.3 1029.4 890.4 1030.0 890.7 1030.3 891.0 1030.5 891.2 1031.2 891.5 1031.4 891.7 1032.0 892.0 1032.6 892.2 1031.6 892.5 1033.4 892.7 1033.5 893.0 1034.5 893.3 1034.8 893.5 1035.3 893.8 1035.8 894.0 1036.7 894.3 1037.0 894.5 1037.9 894.8 1038.0 895.0 1039.4 895.3 1038.9 895.6 1040.1 895.8 1039.4 896.1 1040.4 896.3 1040.9 896.6 1040.1 896.8 1040.6 897.1 1041.4 897.3 1041.9 897.6 1042.1 897.9 1042.0 898.1 1042.3 898.4 1041.6 898.6 1042.0 898.9 1042.9 899.1 1042.2 899.4 1042.3 899.6 1041.8 899.9 1042.5 900.2 1042.0 900.4 1042.9 900.7 1043.3 900.9 1042.9 901.2 1042.9 901.4 1042.8 901.7 1043.1 901.9 1042.5 902.2 1042.8 902.5 1043.9 902.7 1042.5 903.0 1042.9 903.2 1042.6 903.5 1043.6 903.7 1043.1 904.0 1042.6 904.2 1042.7 904.5 1043.7 904.8 1043.5 905.0 1043.6 905.3 1043.3 905.5 1043.7 905.8 1043.8 906.0 1043.5 906.3 1042.7 906.5 1042.5 906.8 1042.7 907.1 1043.4 907.3 1042.8 907.6 1042.9 907.8 1043.4 908.1 1043.0 908.3 1042.9 908.6 1043.8 908.8 1043.6 909.1 1043.7 909.3 1043.8 909.6 1044.0 909.9 1043.4 910.1 1043.4 910.4 1042.7 910.6 1043.4 910.9 1043.2 911.1 1043.9 911.4 1043.7 911.6 1044.1 911.9 1043.9 912.2 1044.0 912.4 1043.7 912.7 1043.6 912.9 1043.3 913.2 1043.5 913.4 1043.1 913.7 1043.7 913.9 1043.5 914.2 1042.7 914.5 1042.4 914.7 1043.3 915.0 1043.3 915.2 1043.4 915.5 1044.1 915.7 1043.3 916.0 1043.0 916.2 1043.7 916.5 1043.9 916.8 1044.2 917.0 1043.1 917.3 1043.5 917.5 1043.4 917.8 1044.1 918.0 1043.8 918.3 1043.6 918.5 1043.9 918.8 1043.4 919.1 1043.5 919.3 1043.5 919.6 1043.4 919.8 1043.5 920.1 1043.7 920.3 1043.7 920.6 1044.2 920.8 1043.9 921.1 1043.6 921.4 1042.7 921.6 1043.0 921.9 1043.4 922.1 1043.4 922.4 1043.1 922.6 1043.4 922.9 1043.6 923.1 1043.3 923.4 1043.5 923.7 1043.6 923.9 1043.3 924.2 1043.2 924.4 1043.5 924.7 1043.7 924.9 1043.2 925.2 1042.8 925.4 1043.2 925.7 1043.8 926.0 1042.9 926.2 1044.0 926.5 1043.4 926.7 1043.7 927.0 1043.3 927.2 1043.9 927.5 1043.6 927.7 1043.8 928.0 1042.8 928.3 1043.9 928.5 1042.9 928.8 1043.5 929.0 1043.8 929.3 1043.5 929.5 1043.8 929.8 1043.7 930.0 1043.6 930.3 1043.3 930.5 1044.0 930.8 1044.1 931.1 1043.4 931.3 1043.3 931.6 1043.7 931.8 1043.3 932.1 1043.7 932.3 1043.9 932.6 1043.9 932.8 1044.2 933.1 1043.8 933.4 1043.2 933.6 1043.3 933.9 1043.8 934.1 1044.3 934.4 1043.5 934.6 1043.2 934.9 1044.2 935.1 1043.6 935.4 1043.9 935.7 1044.0 935.9 1043.2 936.2 1043.5 936.4 1043.4 936.7 1043.8 936.9 1043.8 937.2 1043.4 937.4 1043.8 937.7 1042.8 938.0 1043.7 938.2 1043.7 938.5 1043.6 938.7 1043.0 939.0 1043.5 939.2 1043.2 939.5 1044.2 939.7 1043.5 940.0 1043.5 940.3 1043.5 940.5 1043.8 940.8 1043.6 941.0 1043.8 941.3 1043.2 941.5 1044.0 941.8 1043.4 942.0 1043.8 942.3 1043.6 942.6 1044.0 942.8 1043.5 943.1 1042.9 943.3 1043.1 943.6 1043.4 943.8 1044.0 944.1 1043.3 944.3 1043.5 944.6 1044.0 944.9 1043.3 945.1 1043.6 945.4 1043.6 945.6 1043.2 945.9 1043.5 946.1 1043.8 946.4 1043.8 946.6 1043.2 946.9 1044.4 947.2 1043.4 947.4 1043.1 947.7 1042.9 947.9 1042.7 948.2 1043.4 948.4 1041.9 948.7 1042.8 948.9 1042.2 949.2 1042.6 949.5 1042.5 949.7 1041.9 950.0 1041.8 950.2 1042.6 950.5 1041.7 950.7 1041.8 951.0 1041.5 951.2 1041.8 951.5 1041.9 951.7 1041.7 952.0 1041.4 952.3 1041.3 952.3 1040.7 952.5 1041.7 952.8 1041.1 953.0 1041.0 953.3 1041.5 953.5 1041.3 953.8 1042.0 954.0 1042.2 954.3 1042.6 954.6 1042.2 954.8 1042.2 955.1 1042.4 955.3 1042.1 955.6 1042.5 955.8 1043.7 956.1 1042.7 956.3 1042.9 956.6 1043.3 956.9 1043.3 957.1 1043.5 957.4 1042.9 957.6 1042.9 957.9 1043.8 958.1 1043.1 958.4 1043.4 958.6 1043.5 958.9 1042.7 959.2 1043.3 959.4 1043.2 959.7 1043.7 959.9 1043.3 960.2 1042.5 960.4 1043.8 960.7 1042.5 960.9 1043.3 961.2 1043.2 961.5 1043.2 961.7 1043.5 962.0 1043.8 962.2 1043.1 962.5 1043.3 962.7 1043.8 963.0 1043.7 963.2 1043.8 963.5 1043.6 963.8 1043.4 964.0 1043.3 964.3 1043.3 964.5 1043.8 964.8 1044.1 965.0 1044.2 965.3 1043.1 965.5 1043.4 965.8 1043.5 966.1 1043.4 966.3 1043.0 966.6 1044.3 966.8 1044.1 967.1 1043.4 967.3 1043.3 967.6 1043.5 967.8 1043.0 968.1 1043.3 968.4 1043.7 968.6 1044.1 968.9 1043.8 969.1 1043.9 969.4 1043.0 969.6 1042.1 969.9 1044.0 970.1 1043.5 970.4 1043.4 970.7 1044.1 970.9 1043.0 971.2 1043.0 971.4 1043.1 971.7 1044.0 971.9 1043.8 972.2 1042.7 972.4 1044.0 972.7 1043.4 972.9 1043.5 973.2 1043.0 973.5 1044.0 973.7 1043.5 974.0 1043.8 974.2 1042.9 974.5 1043.5 974.7 1043.3 975.0 1043.1 975.2 1042.9 975.5 1042.9 975.8 1042.7 976.0 1042.9 976.3 1043.1 976.5 1043.4 976.8 1042.4 977.0 1042.6 977.3 1042.7 977.5 1042.3 977.8 1042.8 978.1 1042.7 978.3 1042.8 978.6 1042.9 978.8 1043.0 979.1 1042.8 979.3 1042.4 979.6 1042.2 979.8 1041.2 980.1 1040.6 980.4 1040.5 980.6 1039.3 980.9 1038.9 981.1 1036.6 981.4 1035.0 981.6 1034.3 981.9 1033.1 982.1 1032.6 982.1 1033.6 982.4 1033.8 982.7 1034.1 982.9 1034.3 983.2 1036.0 983.4 1036.9 983.7 1037.3 983.9 1039.0 984.2 1039.2 984.4 1040.0 984.7 1039.6 985.0 1039.8 985.2 1039.7 985.5 1039.0 985.7 1040.5 986.0 1038.4 986.2 1038.8 986.5 1038.8 986.7 1038.1 987.0 1038.7 987.3 1038.1 987.5 1038.2 987.8 1038.1 988.0 1037.8 988.3 1037.8 988.5 1037.5 988.8 1037.8 989.0 1037.7 989.3 1037.3 989.3 1037.2 989.6 1037.2 989.8 1037.4 990.1 1037.2 990.3 1037.4 990.6 1037.0 990.8 1038.4 991.1 1037.3 991.3 1038.6 991.6 1038.2 991.9 1038.3 992.1 1038.2 992.4 1038.3 992.6 1038.1 992.9 1038.2 993.1 1038.4 993.4 1038.5 993.6 1037.4 993.9 1038.0 994.1 1038.2 994.4 1038.2 994.7 1037.3 994.9 1037.8 995.0 1037.9 995.2 1038.0 995.4 1037.1 995.7 1038.7 995.9 1038.1 996.2 1039.9 996.4 1039.8 996.7 1039.8 997.0 1040.4 997.2 1040.5 997.5 1040.6 997.7 1041.0 998.0 1041.5 998.2 1041.3 998.5 1042.1 998.7 1042.3 999.0 1042.5 999.3 1042.6 999.5 1042.7 999.8 1042.5 1000.0 1042.8 1000.3 1042.3 1000.5 1042.4 1000.8 1042.8 1001.0 1043.0 1001.3 1042.0 1001.6 1041.5 1001.8 1042.9 1002.1 1042.4 1002.3 1042.6 1002.6 1042.1 1002.8 1041.7 1003.1 1041.3 1003.3 1041.0 1003.6 1041.9 1003.9 1041.6 1004.1 1041.3 1004.4 1040.8 1004.6 1041.0 1004.6 1041.0 1004.9 1041.1 1005.1 1040.1 1005.4 1041.5 1005.6 1042.1 1005.9 1041.4 1006.2 1041.8 1006.4 1041.9 1006.7 1041.5 1006.9 1042.3 1007.2 1041.8 1007.4 1042.1 1007.7 1042.6 1007.9 1042.5 1008.2 1042.7 1008.5 1042.4 1008.7 1043.1 1009.0 1042.5 1009.2 1043.3 1009.5 1042.8 1009.7 1042.6 1010.0 1043.1 1010.2 1042.7 1010.5 1043.0 1010.8 1043.1 1011.0 1043.5 1011.3 1043.6 1011.5 1043.5 1011.8 1043.2 1012.0 1042.7 1012.3 1043.2 1012.5 1043.2 1012.8 1043.3 1013.0 1043.2 1013.3 1043.2 1013.6 1043.7 1013.8 1042.8 1014.1 1043.4 1014.3 1043.9 1014.6 1043.1 1014.8 1043.0 1015.1 1043.3 1015.3 1043.3 1015.6 1043.6 1015.9 1044.0 1016.1 1043.4 1016.4 1043.7 1016.6 1043.2 1016.9 1043.3 1017.1 1043.6 1017.4 1043.2 1017.6 1044.0 1017.9 1043.3 1018.2 1043.4 1018.4 1043.1 1018.7 1043.3 1018.9 1043.1 1019.2 1043.3 1019.4 1042.8 1019.7 1043.5 1019.9 1044.2 1020.2 1042.7 1020.5 1044.2 1020.7 1043.5 1021.0 1043.9 1021.2 1043.1 1021.5 1044.4 1021.7 1043.1 1022.0 1043.5 1022.2 1044.2 1022.5 1043.0 1022.8 1042.6 1023.0 1043.5 1023.3 1043.2 1023.5 1043.1 1023.8 1043.1 1024.0 1042.9 1024.3 1044.1 1024.5 1044.0 1024.8 1043.0 1025.1 1043.5 1025.3 1043.3 1025.6 1044.0 1025.8 1043.2 1026.1 1044.2 1026.3 1043.5 1026.6 1043.2 1026.8 1043.5 1027.1 1043.3 1027.4 1044.4 1027.6 1043.6 1027.9 1043.3 1028.1 1043.6 1028.4 1044.1 1028.6 1043.1 1028.9 1042.8 1029.1 1044.1 1029.4 1043.8 1029.7 1043.3 1029.9 1043.5 1030.2 1044.0 1030.4 1042.4 1030.7 1044.0 1030.9 1043.4 1031.2 1043.8 1031.4 1043.4 1031.7 1044.7 1032.0 1043.1 1032.2 1043.8 1032.5 1042.3 1032.7 1043.3 1033.0 1043.6 1033.2 1042.6 1033.5 1042.4 1033.7 1043.3 1034.0 1043.6 1034.2 1043.6 1034.5 1042.7 1034.8 1043.1 1035.0 1042.3 1035.3 1043.6 1035.5 1042.5 1035.8 1043.3 1036.0 1042.6 1036.3 1042.5 1036.5 1043.4 1036.5 1042.3 1036.8 1043.3 1037.1 1042.6 1037.3 1042.4 1037.6 1042.5 1037.8 1043.4 1038.1 1042.9 1038.3 1042.8 1038.6 1042.4 1038.8 1043.6 1039.1 1043.6 1039.4 1043.4 1039.6 1043.5 1039.9 1041.9 1040.1 1043.1 1040.4 1043.4 1040.6 1043.4 1040.9 1043.2 1041.1 1043.5 1041.4 1043.1 1041.7 1043.2 1041.9 1042.9 1042.2 1043.5 1042.4 1043.2 1042.7 1043.3 1042.9 1044.1 1043.2 1043.5 1043.4 1043.5 1043.7 1042.9 1044.0 1043.3 1044.2 1043.9 1044.5 1043.8 1044.7 1043.5 1045.0 1043.4 1045.2 1043.5 1045.5 1043.7 1045.7 1043.4 1046.0 1042.5 1046.3 1044.3 1046.5 1044.0 1046.8 1043.5 1047.0 1044.1 1047.3 1043.0 1047.5 1044.1 1047.8 1043.6 1048.0 1043.9 1048.3 1043.4 1048.6 1043.6 1048.8 1043.8 1049.1 1044.0 1049.3 1043.7 1049.6 1043.7 1049.8 1043.3 1050.1 1044.3 1050.3 1043.6 1050.6 1043.4 1050.9 1043.4 1051.1 1043.0 1051.4 1043.2 1051.6 1042.9 1051.9 1043.6 1052.1 1043.5 1052.4 1043.6 1052.6 1043.0 1052.9 1043.3 1053.2 1043.2 1053.4 1043.9 1053.7 1042.9 1053.9 1042.9 1054.2 1044.1 1054.4 1043.7 1054.7 1042.8 1054.9 1044.1 1055.2 1044.1 1055.4 1044.0 1055.7 1042.6 1056.0 1043.6 1056.2 1043.2 1056.5 1043.4 1056.7 1042.8 1057.0 1044.2 1057.2 1043.2 1057.5 1043.6 1057.7 1043.8 1058.0 1043.8 1058.3 1043.7 1058.5 1043.3 1058.8 1043.6 1059.0 1043.4 1059.3 1042.5 1059.5 1043.9 1059.8 1043.2 1060.0 1043.2 1060.3 1043.3 1060.6 1042.9 1060.8 1042.9 1061.1 1042.7 1061.3 1043.7 1061.6 1043.9 1061.8 1043.5 1062.1 1043.0 1062.3 1044.0 1062.6 1043.3 1062.9 1042.7 1063.1 1042.6 1063.4 1043.5 1063.6 1044.0 1063.9 1043.2 1064.1 1043.1 1064.4 1043.3 1064.6 1043.0 1064.9 1043.1 1065.2 1043.5 1065.4 1043.1 1065.7 1043.7 1065.9 1042.9 1066.2 1043.6 1066.4 1043.4 1066.7 1043.1 1066.9 1043.1 1067.2 1043.1 1067.5 1043.9 1067.7 1042.8 1068.0 1043.7 1068.2 1043.6 1068.5 1043.0 1068.7 1043.8 1069.0 1042.0 1069.2 1043.1 1069.5 1043.0 1069.8 1042.9 1070.0 1043.2 1070.3 1042.6 1070.5 1042.5 1070.8 1042.9 1071.0 1042.1 1071.3 1041.2 1071.5 1041.1 1071.8 1039.6 1072.1 1037.7 1072.3 1035.9 1072.6 1033.0 1072.8 1030.8 1073.1 1029.6 1073.2 1029.2 1073.3 1029.6 1073.6 1030.2 1073.8 1033.2 1074.1 1034.8 1074.4 1036.3 1074.6 1037.7 1074.9 1037.3 1075.1 1039.1 1075.4 1038.4 1075.6 1038.9 1075.9 1037.9 1076.1 1038.4 1076.4 1037.6 1076.6 1037.2 1076.9 1037.7 1077.2 1037.1 1077.4 1035.9 1077.7 1036.1 1077.9 1036.4 1078.1 1036.0 1078.2 1036.4 1078.4 1035.8 1078.7 1035.8 1078.9 1036.5 1079.2 1037.1 1079.5 1037.7 1079.7 1038.3 1080.0 1038.8' fill='none' stroke='#ff0000' stroke-width='2.3' stroke-linejoin='round'/>
<path d='M186.0 741.5 186.3 742.4 186.5 741.7 186.8 741.2 187.0 742.0 187.3 742.2 187.5 742.6 187.8 742.1 188.0 742.9 188.3 742.8 188.6 742.7 188.8 742.8 189.1 742.4 189.3 742.0 189.6 742.5 189.8 742.7 190.1 742.4 190.3 742.2 190.6 741.6 190.9 742.5 191.1 742.4 191.4 741.7 191.6 742.3 191.9 742.6 192.1 742.2 192.4 742.6 192.6 742.6 192.9 741.6 193.2 742.1 193.4 742.4 193.7 742.6 193.9 742.8 194.2 741.4 194.4 742.2 194.7 742.5 194.9 742.7 195.2 742.9 195.5 741.9 195.7 742.1 196.0 741.8 196.2 742.6 196.5 741.7 196.7 742.7 197.0 742.6 197.2 742.4 197.5 741.3 197.7 741.9 198.0 742.5 198.3 741.7 198.5 742.1 198.8 742.2 199.0 742.6 199.3 742.3 199.5 742.3 199.8 742.1 200.0 742.2 200.3 742.2 200.6 742.5 200.8 742.1 201.1 742.6 201.3 741.5 201.6 742.7 201.8 742.2 202.1 742.7 202.3 742.2 202.6 742.6 202.9 742.8 203.1 742.0 203.4 742.3 203.6 742.1 203.9 742.3 204.1 741.5 204.4 742.1 204.6 742.1 204.9 741.9 205.2 742.1 205.4 741.6 205.7 742.8 205.9 742.4 206.2 743.0 206.4 741.8 206.7 741.7 206.9 742.3 207.2 741.5 207.5 742.3 207.7 741.9 208.0 742.1 208.2 742.3 208.5 742.2 208.7 743.0 209.0 742.5 209.2 741.7 209.5 742.6 209.8 741.6 210.0 742.2 210.3 741.7 210.5 741.9 210.8 742.7 211.0 742.0 211.3 741.9 211.5 742.0 211.8 742.1 212.1 742.8 212.3 741.7 212.6 741.7 212.8 742.4 213.1 741.5 213.3 742.0 213.6 742.7 213.8 742.2 214.1 742.0 214.4 741.9 214.6 741.8 214.9 741.9 215.1 742.2 215.4 742.7 215.6 742.6 215.9 741.9 216.1 741.9 216.4 742.5 216.7 741.4 216.9 742.0 217.2 742.0 217.4 741.7 217.7 741.8 217.9 742.3 218.2 741.5 218.4 741.8 218.7 741.9 218.9 742.2 219.2 741.6 219.5 742.6 219.7 742.0 220.0 742.1 220.2 742.0 220.5 741.9 220.7 741.8 221.0 742.6 221.2 742.2 221.5 742.1 221.8 742.6 222.0 741.9 222.3 742.4 222.5 742.2 222.8 741.8 223.0 742.5 223.3 741.5 223.5 742.4 223.8 741.8 224.1 742.3 224.3 742.7 224.6 742.4 224.8 741.9 225.1 742.1 225.3 742.0 225.6 741.6 225.8 741.7 226.1 742.2 226.4 742.4 226.6 741.4 226.9 742.1 227.1 742.3 227.4 742.2 227.6 741.7 227.9 742.6 228.1 741.6 228.4 742.4 228.7 742.8 228.9 741.3 229.2 742.2 229.4 742.2 229.7 742.2 229.9 741.8 230.2 742.0 230.4 741.5 230.7 742.2 231.0 742.3 231.2 741.8 231.5 741.7 231.7 741.9 232.0 742.1 232.2 742.1 232.5 742.1 232.7 742.1 233.0 741.6 233.3 741.0 233.5 742.4 233.8 742.7 234.0 741.5 234.3 741.8 234.5 742.2 234.8 742.5 235.0 742.4 235.3 742.6 235.6 742.1 235.8 742.3 236.1 742.3 236.3 741.9 236.6 742.6 236.8 742.4 237.1 742.5 237.3 741.9 237.6 742.5 237.9 741.7 238.1 742.3 238.4 741.0 238.6 741.7 238.9 742.4 239.1 741.9 239.4 742.2 239.6 741.4 239.9 742.7 240.1 742.3 240.4 742.1 240.7 742.2 240.9 742.2 241.2 742.7 241.4 742.1 241.7 741.4 241.9 742.0 242.2 742.6 242.4 742.3 242.7 741.9 243.0 742.3 243.2 742.1 243.5 742.3 243.7 741.4 244.0 741.7 244.2 742.3 244.5 742.0 244.7 742.2 245.0 742.9 245.3 741.9 245.5 742.1 245.8 741.8 246.0 741.8 246.3 742.0 246.5 741.5 246.8 741.2 247.0 742.6 247.3 742.0 247.6 742.5 247.8 742.1 248.1 742.1 248.3 742.3 248.6 742.3 248.8 741.6 249.1 742.5 249.3 741.6 249.6 742.1 249.9 743.1 250.1 742.1 250.4 742.7 250.6 741.9 250.9 742.3 251.1 742.0 251.4 742.2 251.6 741.7 251.9 741.7 252.2 742.1 252.4 741.4 252.7 741.7 252.9 742.3 253.2 741.7 253.4 741.7 253.7 741.5 253.9 742.0 254.2 741.9 254.5 742.1 254.7 741.9 255.0 742.8 255.2 741.8 255.5 741.2 255.7 742.0 256.0 742.0 256.2 742.0 256.5 741.3 256.8 742.4 257.0 742.0 257.3 741.9 257.5 741.3 257.8 742.2 258.0 741.9 258.3 742.5 258.5 741.8 258.8 741.4 259.1 742.0 259.3 741.6 259.6 742.1 259.8 741.5 260.1 741.9 260.3 741.8 260.6 741.9 260.8 741.7 261.1 741.6 261.3 741.9 261.6 741.7 261.9 742.0 262.1 741.8 262.4 741.0 262.6 741.9 262.9 742.4 263.1 742.0 263.4 742.1 263.6 742.0 263.9 741.7 264.2 741.3 264.4 742.2 264.7 742.3 264.9 742.1 265.2 742.0 265.4 742.0 265.7 741.8 265.9 741.9 266.2 741.8 266.5 741.9 266.7 741.4 267.0 741.5 267.2 742.0 267.5 741.6 267.7 740.7 268.0 741.7 268.2 740.8 268.5 742.4 268.8 741.9 269.0 741.9 269.3 741.3 269.5 741.1 269.8 741.5 270.0 741.6 270.3 741.2 270.5 741.6 270.8 741.7 271.1 741.7 271.3 741.0 271.6 740.5 271.8 741.4 272.1 741.0 272.3 741.4 272.6 741.9 272.8 741.9 273.1 741.3 273.4 741.5 273.6 741.7 273.9 741.0 274.1 741.1 274.4 741.2 274.6 740.7 274.9 740.4 275.1 740.3 275.4 740.4 275.7 740.1 275.9 740.5 276.2 739.8 276.4 740.4 276.7 740.1 276.9 738.8 277.2 739.6 277.4 738.6 277.7 738.8 278.0 738.0 278.2 737.2 278.5 736.7 278.7 735.0 279.0 733.7 279.2 730.7 279.5 725.6 279.7 718.7 280.0 706.5 280.2 690.4 280.5 667.6 280.8 640.4 281.0 610.9 281.3 582.6 281.5 561.7 281.8 554.2 281.8 553.3 282.0 562.1 282.3 582.5 282.5 611.3 282.8 641.0 283.1 667.8 283.3 689.7 283.6 706.7 283.8 718.2 284.1 726.1 284.3 730.3 284.6 733.1 284.8 735.3 285.1 735.9 285.4 736.8 285.6 738.1 285.9 737.5 286.1 738.9 286.4 738.9 286.6 739.0 286.9 739.6 287.1 740.0 287.4 739.8 287.7 740.0 287.9 740.6 288.2 740.7 288.4 740.5 288.7 740.3 288.9 740.4 289.2 740.5 289.4 741.1 289.7 741.1 290.0 741.1 290.2 741.6 290.5 741.1 290.7 741.1 291.0 741.0 291.2 742.1 291.5 740.5 291.7 741.4 292.0 741.6 292.3 741.4 292.5 742.3 292.8 741.9 293.0 741.8 293.3 741.1 293.5 741.7 293.8 741.4 294.0 741.6 294.3 741.6 294.6 741.4 294.8 741.8 295.1 742.3 295.3 742.0 295.6 741.7 295.8 740.9 296.1 742.1 296.3 742.1 296.6 741.6 296.9 741.5 297.1 742.0 297.4 741.4 297.6 742.0 297.9 741.3 298.1 741.4 298.4 741.8 298.6 741.2 298.9 741.8 299.2 742.0 299.4 741.3 299.7 742.1 299.9 741.5 300.2 742.0 300.4 741.9 300.7 741.6 300.9 741.6 301.2 741.1 301.4 741.5 301.7 741.5 302.0 742.4 302.2 742.2 302.5 741.3 302.7 742.1 303.0 741.9 303.2 741.7 303.5 742.0 303.7 742.1 304.0 741.6 304.3 741.7 304.5 741.9 304.8 741.5 305.0 741.9 305.3 741.8 305.5 741.6 305.8 741.5 306.0 741.9 306.3 742.2 306.6 742.0 306.8 741.5 307.1 742.1 307.3 741.9 307.6 742.1 307.8 742.3 308.1 741.5 308.3 741.8 308.6 741.6 308.9 741.5 309.1 742.6 309.4 742.2 309.6 741.1 309.9 742.0 310.1 741.6 310.4 742.3 310.6 741.9 310.9 741.8 311.2 741.9 311.4 742.0 311.7 741.9 311.9 741.8 312.2 741.8 312.4 742.1 312.7 741.4 312.9 741.9 313.2 741.8 313.5 741.7 313.7 742.1 314.0 741.4 314.2 741.7 314.5 741.5 314.7 742.1 315.0 741.6 315.2 741.9 315.5 742.0 315.8 741.2 316.0 742.0 316.3 741.6 316.5 741.7 316.8 741.8 317.0 742.2 317.3 742.1 317.5 742.5 317.8 741.9 318.1 741.7 318.3 741.7 318.6 742.1 318.8 742.4 319.1 742.0 319.3 741.6 319.6 741.9 319.8 741.9 320.1 741.8 320.4 741.5 320.6 740.8 320.9 741.6 321.1 742.3 321.4 741.9 321.6 741.0 321.9 741.8 322.1 741.1 322.4 742.6 322.6 741.9 322.9 741.3 323.2 742.1 323.4 741.5 323.7 742.0 323.9 741.8 324.2 741.3 324.4 742.1 324.7 741.3 324.9 742.3 325.2 741.8 325.5 741.4 325.7 741.1 326.0 742.4 326.2 742.4 326.5 741.3 326.7 742.4 327.0 741.8 327.2 741.7 327.5 741.7 327.8 741.7 328.0 742.3 328.3 741.8 328.5 741.0 328.8 742.6 329.0 742.1 329.3 741.3 329.5 741.6 329.8 741.4 330.1 741.8 330.3 741.9 330.6 741.8 330.8 741.5 331.1 741.4 331.3 742.0 331.6 741.7 331.8 742.6 332.1 741.4 332.4 742.0 332.6 741.7 332.9 741.4 333.1 742.2 333.4 741.7 333.6 741.3 333.9 741.5 334.1 742.0 334.4 741.1 334.7 742.2 334.9 741.9 335.2 741.5 335.4 742.1 335.7 742.3 335.9 741.8 336.2 741.6 336.4 742.2 336.7 742.1 337.0 741.2 337.2 741.4 337.5 741.4 337.7 741.3 338.0 740.8 338.2 741.8 338.5 741.4 338.7 741.4 339.0 741.9 339.3 741.1 339.5 741.3 339.8 741.3 340.0 741.0 340.3 741.1 340.5 741.4 340.8 741.0 341.0 741.4 341.3 740.5 341.6 740.8 341.8 740.0 342.1 740.4 342.3 739.9 342.6 740.6 342.8 739.8 343.1 739.2 343.3 739.2 343.6 738.2 343.8 736.6 344.1 734.5 344.4 732.4 344.6 731.1 344.9 728.6 345.1 726.1 345.4 724.3 345.6 722.5 345.9 723.1 345.9 722.2 346.1 722.8 346.4 724.7 346.7 725.8 346.9 729.1 347.2 731.5 347.4 733.0 347.7 734.4 347.9 736.1 348.2 736.7 348.4 738.9 348.7 739.0 349.0 739.1 349.2 739.5 349.5 740.3 349.7 740.9 350.0 740.0 350.2 740.3 350.5 739.9 350.7 741.0 351.0 740.9 351.3 741.8 351.5 740.9 351.8 740.9 352.0 740.7 352.3 741.4 352.5 740.4 352.8 741.4 353.0 741.2 353.3 741.0 353.6 740.8 353.8 741.6 354.1 741.9 354.3 741.0 354.6 741.4 354.8 741.9 355.1 741.0 355.3 741.1 355.6 740.7 355.9 741.2 356.1 741.3 356.4 741.1 356.6 741.0 356.9 740.6 357.1 740.7 357.4 740.9 357.6 741.5 357.9 741.0 358.2 741.0 358.4 741.5 358.7 741.5 358.9 740.9 359.2 741.0 359.4 741.5 359.7 741.4 359.9 740.9 360.2 741.3 360.5 741.2 360.7 741.6 361.0 740.8 361.2 741.5 361.5 741.3 361.7 740.7 362.0 741.6 362.2 741.5 362.5 740.5 362.8 741.8 363.0 740.6 363.3 740.7 363.5 740.9 363.8 741.3 364.0 741.2 364.3 740.9 364.5 741.5 364.8 741.1 365.0 741.4 365.3 742.0 365.6 740.9 365.8 739.8 366.1 740.7 366.3 740.4 366.6 740.8 366.8 740.8 367.1 740.3 367.3 740.2 367.6 740.5 367.9 740.6 368.1 739.5 368.4 740.9 368.6 740.5 368.9 740.5 369.1 740.5 369.4 740.0 369.6 740.3 369.9 740.6 370.2 740.6 370.4 740.3 370.7 739.9 370.9 739.7 371.2 740.5 371.4 740.1 371.7 739.7 371.9 738.9 372.2 739.3 372.5 738.8 372.7 740.0 373.0 739.4 373.2 738.9 373.5 739.0 373.7 740.1 374.0 739.4 374.2 738.3 374.5 738.5 374.8 738.0 375.0 737.6 375.3 738.1 375.5 738.9 375.8 738.3 376.0 737.4 376.3 737.2 376.5 736.9 376.8 737.2 377.1 735.7 377.3 735.1 377.6 736.3 377.8 735.2 378.1 735.2 378.3 734.2 378.6 733.9 378.8 732.6 379.1 732.3 379.4 731.9 379.6 730.3 379.9 728.3 380.1 727.5 380.4 724.9 380.6 722.2 380.9 719.7 381.1 716.1 381.4 710.7 381.7 702.7 381.9 695.7 382.2 684.4 382.4 671.4 382.7 655.6 382.9 639.0 383.2 619.8 383.4 599.7 383.7 577.6 384.0 559.6 384.2 545.8 384.5 537.7 384.6 536.7 384.7 537.0 385.0 545.2 385.2 559.7 385.5 578.1 385.7 598.3 386.0 618.6 386.2 638.0 386.5 656.2 386.8 671.1 387.0 683.0 387.3 694.3 387.5 701.4 387.8 708.8 388.0 714.1 388.3 717.7 388.5 719.0 388.8 721.9 389.1 722.9 389.3 722.3 389.6 719.1 389.8 716.0 390.1 710.7 390.3 702.4 390.6 692.7 390.8 680.5 391.1 670.3 391.4 661.1 391.6 656.5 391.6 656.8 391.9 658.9 392.1 664.9 392.4 671.9 392.6 678.0 392.9 683.3 393.1 685.5 393.4 687.9 393.5 691.2 393.7 693.8 393.9 699.1 394.2 705.2 394.4 712.0 394.7 716.9 394.9 719.1 395.2 720.0 395.4 720.3 395.7 721.4 396.0 720.5 396.1 721.1 396.2 721.7 396.5 722.8 396.7 723.9 397.0 727.4 397.2 729.5 397.5 731.7 397.7 733.7 398.0 734.6 398.3 736.1 398.5 736.7 398.8 737.9 399.0 737.7 399.3 738.6 399.5 738.2 399.8 738.7 400.0 738.9 400.3 739.0 400.6 739.3 400.8 739.1 401.1 739.2 401.3 738.7 401.6 740.0 401.8 739.4 402.1 739.4 402.3 739.3 402.6 740.1 402.9 739.4 403.1 740.0 403.4 740.3 403.6 740.5 403.9 740.3 404.1 740.1 404.4 739.4 404.6 740.4 404.9 740.4 405.2 740.3 405.4 740.3 405.7 740.0 405.9 739.8 406.2 740.4 406.4 740.4 406.7 739.5 406.9 740.4 407.2 740.0 407.4 740.3 407.7 740.0 408.0 740.4 408.2 740.3 408.5 740.2 408.7 739.3 409.0 740.2 409.2 739.9 409.5 739.4 409.7 740.1 410.0 739.2 410.3 740.1 410.5 740.3 410.8 739.4 411.0 740.0 411.3 739.7 411.5 739.8 411.8 738.9 412.0 739.6 412.3 739.3 412.6 739.5 412.8 739.1 413.1 739.4 413.3 739.1 413.6 739.1 413.8 739.3 414.1 738.7 414.3 739.1 414.6 738.5 414.9 738.6 415.1 738.0 415.4 738.3 415.6 738.4 415.9 737.7 416.1 737.9 416.4 737.4 416.6 736.6 416.9 736.9 417.2 737.1 417.4 736.1 417.7 735.3 417.9 735.8 418.2 735.0 418.4 735.7 418.7 734.3 418.9 734.0 419.2 733.1 419.5 732.9 419.7 731.6 420.0 730.5 420.2 729.9 420.5 728.3 420.7 727.7 421.0 724.7 421.2 723.1 421.5 719.8 421.8 715.9 422.0 712.4 422.3 704.6 422.5 699.2 422.8 689.1 423.0 678.3 423.3 666.5 423.5 650.1 423.8 633.9 424.1 616.7 424.3 599.0 424.6 580.5 424.8 564.0 425.1 550.9 425.3 545.4 425.5 545.8 425.6 545.3 425.8 552.1 426.1 563.7 426.4 580.2 426.6 596.1 426.9 615.7 427.1 632.2 427.4 647.3 427.6 661.8 427.9 674.5 428.1 684.3 428.4 692.5 428.6 700.1 428.9 706.2 429.2 710.9 429.3 711.7 429.4 713.9 429.7 717.1 429.9 719.9 430.2 722.0 430.4 724.0 430.7 726.5 430.9 727.3 431.2 728.5 431.5 729.4 431.7 731.3 432.0 732.0 432.2 733.7 432.5 733.6 432.7 734.6 433.0 735.3 433.2 736.0 433.5 735.3 433.8 736.7 434.0 736.7 434.3 736.8 434.5 737.0 434.8 737.2 435.0 737.4 435.3 736.9 435.5 738.2 435.8 738.2 436.1 737.9 436.3 738.4 436.6 739.5 436.8 739.0 437.1 738.7 437.3 739.7 437.6 738.8 437.8 739.2 438.1 739.0 438.4 739.3 438.6 739.8 438.9 739.8 439.1 739.3 439.4 739.6 439.6 739.8 439.9 739.7 440.1 739.9 440.4 739.7 440.7 739.7 440.9 740.1 441.2 739.7 441.4 740.3 441.7 740.2 441.9 739.9 442.2 740.0 442.4 740.2 442.7 740.3 443.0 740.4 443.2 740.4 443.5 740.1 443.7 741.1 444.0 740.9 444.2 740.6 444.5 741.0 444.7 740.7 445.0 740.5 445.3 740.7 445.5 741.7 445.8 741.0 446.0 741.1 446.3 740.6 446.5 741.0 446.8 741.7 447.0 741.0 447.3 741.2 447.6 741.3 447.8 741.0 448.1 741.4 448.3 740.9 448.6 741.0 448.8 740.6 449.1 741.9 449.3 740.9 449.6 740.9 449.8 741.4 450.1 740.6 450.4 740.8 450.6 740.5 450.9 740.8 451.1 740.6 451.4 740.9 451.6 740.7 451.9 740.5 452.1 740.6 452.4 740.6 452.7 740.5 452.9 741.0 453.2 740.7 453.4 740.4 453.7 739.7 453.9 740.3 454.2 739.4 454.4 739.8 454.7 739.3 455.0 738.2 455.2 737.0 455.5 735.2 455.7 733.5 456.0 728.7 456.2 723.6 456.5 718.6 456.7 712.7 457.0 707.8 457.3 703.5 457.4 703.4 457.5 705.7 457.8 707.1 458.0 712.4 458.3 718.2 458.5 724.3 458.8 728.4 459.0 733.1 459.3 735.5 459.6 737.7 459.8 738.7 460.1 739.1 460.3 739.5 460.6 739.0 460.8 740.7 461.1 739.8 461.3 740.3 461.6 741.3 461.9 740.5 462.1 741.0 462.4 740.7 462.6 741.1 462.9 740.9 463.1 740.7 463.4 741.5 463.6 740.9 463.9 740.4 464.2 740.8 464.4 741.2 464.7 740.5 464.9 741.4 465.2 741.3 465.4 741.9 465.7 740.8 465.9 741.3 466.2 740.4 466.5 740.8 466.7 741.0 467.0 741.1 467.2 740.8 467.5 740.8 467.7 740.5 468.0 740.5 468.2 740.6 468.5 740.5 468.7 740.3 469.0 740.2 469.3 739.9 469.5 738.2 469.8 738.3 470.0 737.9 470.3 737.1 470.5 737.4 470.8 736.8 471.0 736.3 471.2 736.3 471.3 737.0 471.6 736.4 471.8 736.9 472.1 737.8 472.3 738.1 472.6 739.1 472.8 739.1 473.1 739.7 473.3 739.6 473.6 739.7 473.9 740.4 474.1 739.5 474.4 740.9 474.6 741.2 474.9 741.0 475.1 740.9 475.4 741.5 475.6 741.1 475.9 741.6 476.2 742.1 476.4 741.5 476.7 741.6 476.9 741.5 477.2 741.3 477.4 741.4 477.7 741.3 477.9 741.7 478.2 740.7 478.5 741.2 478.7 741.6 479.0 741.0 479.2 741.3 479.5 741.1 479.7 741.5 480.0 741.7 480.2 741.9 480.5 741.6 480.8 741.1 481.0 741.5 481.3 741.6 481.5 742.0 481.8 740.5 482.0 741.6 482.3 740.7 482.5 741.7 482.8 741.6 483.1 741.6 483.3 741.8 483.6 741.6 483.8 741.1 484.1 741.6 484.3 741.9 484.6 741.4 484.8 741.4 485.1 740.9 485.4 741.9 485.6 741.2 485.9 741.1 486.1 741.2 486.4 741.0 486.6 741.3 486.9 741.9 487.1 741.7 487.4 741.9 487.7 742.0 487.9 741.0 488.2 741.5 488.4 741.9 488.7 742.2 488.9 740.7 489.2 740.7 489.4 741.4 489.7 741.1 489.9 740.7 490.2 741.2 490.5 740.5 490.7 739.8 491.0 740.2 491.2 739.7 491.5 739.1 491.7 737.9 492.0 736.0 492.2 734.0 492.5 732.0 492.8 730.2 493.0 729.6 493.1 730.0 493.3 730.1 493.5 731.6 493.8 732.2 494.0 733.6 494.3 736.4 494.5 738.0 494.8 738.2 495.1 739.0 495.3 740.4 495.6 740.9 495.8 740.5 496.1 740.9 496.3 740.8 496.6 740.7 496.8 740.7 497.1 741.3 497.4 741.1 497.6 741.1 497.9 740.3 498.1 742.0 498.4 741.0 498.6 741.3 498.9 740.9 499.1 741.5 499.4 740.8 499.7 741.4 499.9 741.3 500.2 741.8 500.4 741.0 500.7 741.2 500.9 741.3 501.2 742.3 501.4 740.8 501.7 741.6 502.0 741.2 502.2 741.5 502.5 741.7 502.7 741.5 503.0 741.6 503.2 741.6 503.5 741.2 503.7 741.4 504.0 740.8 504.3 741.3 504.5 741.2 504.8 741.3 505.0 741.7 505.3 741.6 505.5 741.6 505.8 741.9 506.0 740.5 506.3 741.6 506.6 741.5 506.8 741.4 507.1 740.9 507.3 741.7 507.6 741.9 507.8 741.9 508.1 741.4 508.3 741.7 508.6 741.8 508.9 742.2 509.1 741.9 509.4 741.5 509.6 741.4 509.9 741.5 510.1 741.5 510.4 741.2 510.6 741.7 510.9 741.2 511.1 741.1 511.4 741.6 511.7 741.2 511.9 741.3 512.2 740.6 512.4 741.7 512.7 741.4 512.9 741.3 513.2 741.6 513.4 741.5 513.7 741.1 514.0 742.2 514.2 741.2 514.5 741.8 514.7 742.1 515.0 741.1 515.2 741.4 515.5 741.0 515.7 741.7 516.0 741.1 516.3 740.8 516.5 741.8 516.8 741.6 517.0 740.8 517.3 741.6 517.5 741.2 517.8 742.2 518.0 741.7 518.3 740.7 518.6 740.7 518.8 740.3 519.1 740.6 519.3 740.3 519.6 740.6 519.8 739.9 520.1 739.1 520.3 739.1 520.6 739.7 520.9 739.4 521.1 738.5 521.4 738.2 521.6 738.2 521.9 738.3 521.9 737.5 522.1 738.5 522.4 738.1 522.6 738.7 522.9 737.8 523.2 739.3 523.4 740.0 523.7 738.8 523.9 740.5 524.2 740.4 524.4 740.1 524.7 739.9 524.9 741.1 525.2 740.9 525.5 741.1 525.7 740.9 526.0 740.7 526.2 741.4 526.5 740.8 526.7 741.5 527.0 740.5 527.2 740.8 527.5 740.6 527.8 741.7 528.0 740.5 528.3 740.8 528.5 741.5 528.8 741.4 529.0 742.1 529.3 742.0 529.5 741.5 529.8 741.5 530.1 740.5 530.3 740.9 530.6 741.1 530.8 741.2 531.1 740.7 531.3 740.9 531.6 740.9 531.8 741.7 532.1 741.4 532.3 741.1 532.6 741.1 532.9 741.3 533.1 741.0 533.4 741.1 533.6 740.5 533.9 741.5 534.1 741.6 534.4 741.4 534.6 741.4 534.9 741.3 535.2 742.1 535.4 741.3 535.7 740.7 535.9 740.8 536.2 741.5 536.4 741.6 536.7 741.5 536.9 741.5 537.2 741.2 537.5 740.6 537.7 740.8 538.0 740.4 538.2 740.9 538.5 740.5 538.7 741.1 539.0 741.0 539.2 740.3 539.5 741.3 539.8 741.3 540.0 740.4 540.3 741.0 540.5 741.2 540.8 740.8 541.0 741.3 541.3 741.0 541.5 741.3 541.8 740.9 542.1 740.7 542.3 741.0 542.6 741.0 542.8 740.8 543.1 740.5 543.3 740.4 543.6 740.5 543.8 740.3 544.1 740.6 544.4 740.6 544.6 740.4 544.9 740.3 545.1 740.4 545.4 740.8 545.6 740.6 545.9 739.8 546.1 740.2 546.4 739.7 546.7 739.7 546.9 739.5 547.2 739.2 547.4 738.7 547.7 738.2 547.9 739.1 548.2 739.3 548.4 738.1 548.7 738.4 549.0 737.6 549.2 737.6 549.5 736.5 549.7 736.0 550.0 735.3 550.2 733.1 550.5 732.9 550.7 731.1 551.0 728.1 551.3 726.9 551.5 724.0 551.8 721.0 552.0 717.0 552.3 712.9 552.5 708.5 552.8 704.8 553.0 700.2 553.3 697.6 553.5 695.0 553.8 693.0 553.9 692.4 554.1 693.0 554.3 694.8 554.6 696.2 554.8 699.6 555.1 705.5 555.3 709.4 555.6 712.2 555.8 716.4 556.1 720.3 556.4 724.0 556.6 726.9 556.9 728.9 557.1 730.4 557.4 732.9 557.6 734.4 557.9 735.3 558.1 735.9 558.4 736.9 558.7 737.3 558.9 737.4 559.2 738.2 559.4 738.0 559.7 739.1 559.9 739.2 560.2 738.7 560.4 739.4 560.7 739.9 561.0 738.8 561.2 739.6 561.5 740.4 561.7 739.3 562.0 739.9 562.2 739.5 562.5 740.1 562.7 739.2 563.0 739.6 563.3 740.1 563.5 740.5 563.8 740.6 564.0 740.7 564.3 741.0 564.5 740.9 564.8 740.9 565.0 740.2 565.3 740.6 565.6 742.0 565.8 741.7 566.1 741.1 566.3 741.1 566.6 741.2 566.8 740.7 567.1 741.7 567.3 740.7 567.6 740.9 567.9 741.8 568.1 740.1 568.4 741.1 568.6 740.3 568.9 740.8 569.1 741.0 569.4 740.9 569.6 741.1 569.9 740.7 570.2 741.0 570.4 740.6 570.7 740.9 570.9 740.5 571.2 741.3 571.4 740.5 571.7 741.4 571.9 740.9 572.2 741.0 572.5 741.6 572.7 741.2 573.0 740.4 573.2 741.3 573.5 740.0 573.7 741.2 574.0 741.0 574.2 740.6 574.5 741.2 574.7 741.0 575.0 742.0 575.3 741.0 575.5 742.0 575.8 741.7 576.0 740.9 576.3 740.8 576.5 741.7 576.8 741.1 577.0 741.3 577.3 741.1 577.6 740.6 577.8 741.0 578.1 740.8 578.3 740.6 578.6 741.1 578.8 741.9 579.1 741.8 579.3 741.1 579.6 741.2 579.9 741.4 580.1 741.7 580.4 741.3 580.6 740.9 580.9 741.0 581.1 741.6 581.4 742.2 581.6 740.8 581.9 740.2 582.2 741.4 582.4 741.0 582.7 741.1 582.9 741.5 583.2 740.9 583.4 740.3 583.7 739.9 583.9 740.7 584.2 740.2 584.5 740.7 584.7 740.0 585.0 740.3 585.2 739.7 585.5 740.1 585.7 740.0 586.0 740.3 586.2 740.6 586.5 739.7 586.8 739.6 587.0 740.7 587.0 740.1 587.3 740.1 587.5 740.3 587.8 740.6 588.0 740.5 588.3 740.5 588.5 740.5 588.8 739.9 589.1 740.2 589.3 740.4 589.6 740.6 589.8 740.7 590.1 740.9 590.3 740.8 590.6 740.7 590.8 740.2 591.1 741.3 591.4 741.2 591.6 740.7 591.9 741.3 592.1 741.2 592.4 741.1 592.6 740.3 592.9 740.6 593.1 740.9 593.4 741.8 593.7 740.8 593.9 741.0 594.2 740.7 594.4 741.0 594.7 741.3 594.9 740.3 595.2 740.0 595.4 741.4 595.7 741.2 595.9 740.9 596.2 741.6 596.5 741.5 596.7 740.3 597.0 741.1 597.2 741.6 597.5 740.9 597.7 741.0 598.0 741.5 598.2 741.0 598.5 740.7 598.8 740.8 599.0 740.6 599.3 741.4 599.5 740.4 599.8 741.5 600.0 740.4 600.3 741.1 600.5 740.5 600.8 740.9 601.1 741.5 601.3 741.5 601.6 741.6 601.8 741.0 602.1 741.1 602.3 741.1 602.6 741.3 602.8 740.8 603.1 741.4 603.4 741.1 603.6 741.4 603.9 741.1 604.1 741.2 604.4 740.6 604.6 740.7 604.9 740.4 605.1 740.7 605.4 740.7 605.7 741.2 605.9 740.2 606.2 742.1 606.4 740.7 606.7 741.2 606.9 741.0 607.2 739.5 607.4 740.4 607.7 741.0 608.0 739.4 608.2 740.5 608.5 739.8 608.7 739.8 609.0 740.0 609.2 738.8 609.5 739.5 609.7 738.8 610.0 738.5 610.3 738.7 610.5 739.4 610.8 737.6 611.0 737.1 611.3 736.1 611.5 734.9 611.8 734.6 612.0 734.3 612.3 732.9 612.6 732.3 612.8 731.0 613.1 731.3 613.3 729.0 613.6 729.3 613.8 729.5 613.8 729.2 614.1 728.8 614.3 729.1 614.6 730.1 614.9 730.9 615.1 731.3 615.4 732.0 615.6 733.8 615.9 734.8 616.1 735.0 616.4 735.5 616.6 736.2 616.9 738.1 617.1 737.7 617.4 737.9 617.7 738.6 617.9 739.5 618.2 739.2 618.4 738.3 618.7 739.0 618.9 738.9 619.2 739.0 619.4 738.7 619.7 739.0 620.0 738.7 620.2 739.2 620.5 738.9 620.7 738.1 621.0 737.7 621.2 737.8 621.5 737.9 621.7 737.2 622.0 735.8 622.3 732.8 622.5 731.0 622.8 726.0 623.0 719.3 623.3 708.8 623.5 696.7 623.8 682.3 624.0 668.9 624.3 655.2 624.6 647.1 624.7 647.0 624.8 647.4 625.1 655.2 625.3 667.8 625.6 682.8 625.8 697.6 626.1 710.0 626.3 719.4 626.6 727.3 626.9 731.3 627.1 733.7 627.4 735.4 627.6 736.9 627.9 738.1 628.1 738.7 628.4 739.4 628.6 739.0 628.9 739.1 629.2 739.9 629.4 740.2 629.7 739.7 629.9 740.1 630.2 740.7 630.4 740.3 630.7 740.3 630.9 739.5 631.2 741.0 631.5 740.7 631.7 740.6 632.0 740.4 632.2 740.1 632.5 740.6 632.7 740.6 633.0 741.2 633.2 740.2 633.5 741.4 633.8 740.7 634.0 741.3 634.3 740.4 634.5 741.0 634.8 741.4 635.0 740.9 635.3 740.3 635.5 740.8 635.8 741.2 636.1 740.3 636.3 740.3 636.6 741.0 636.8 740.6 637.1 741.2 637.3 740.5 637.6 740.2 637.8 740.6 638.1 741.6 638.3 740.6 638.6 741.0 638.9 741.1 639.1 740.6 639.4 741.5 639.6 741.1 639.9 741.2 640.1 740.3 640.4 740.3 640.6 739.9 640.9 740.9 641.2 740.9 641.4 741.3 641.7 741.7 641.9 740.9 642.2 740.9 642.4 741.2 642.7 741.6 642.9 740.7 643.2 741.3 643.5 740.9 643.7 740.9 644.0 741.3 644.2 740.6 644.5 740.5 644.7 741.2 645.0 741.0 645.2 740.9 645.5 740.9 645.8 741.2 646.0 740.8 646.3 741.3 646.5 741.1 646.8 741.5 647.0 741.4 647.3 741.2 647.5 740.7 647.8 740.8 648.1 740.5 648.3 741.9 648.6 740.6 648.8 740.9 649.1 741.2 649.3 739.9 649.6 740.1 649.8 740.2 650.1 739.8 650.4 739.6 650.6 739.5 650.9 739.8 651.1 738.9 651.4 737.5 651.6 735.6 651.9 732.4 652.1 729.9 652.4 725.6 652.7 720.2 652.9 716.4 653.2 712.7 653.4 711.6 653.4 711.4 653.7 713.0 653.9 715.7 654.2 720.8 654.4 725.3 654.7 729.8 655.0 732.7 655.2 735.3 655.5 738.4 655.7 737.8 656.0 739.7 656.2 739.9 656.5 740.0 656.7 740.0 657.0 740.2 657.2 739.9 657.5 739.9 657.8 740.5 658.0 739.9 658.3 740.9 658.5 741.1 658.8 739.2 659.0 740.0 659.3 740.8 659.5 740.8 659.8 740.8 660.1 740.9 660.3 741.0 660.6 741.1 660.8 741.5 661.1 740.8 661.3 741.1 661.6 740.0 661.8 740.7 662.1 740.2 662.4 741.3 662.6 741.7 662.9 741.0 663.1 740.1 663.4 740.6 663.6 740.6 663.9 740.7 664.1 741.1 664.4 740.9 664.7 739.4 664.9 741.1 665.2 740.3 665.4 740.2 665.7 741.0 665.9 740.3 666.2 739.8 666.4 739.8 666.7 740.3 667.0 740.5 667.2 740.8 667.5 740.0 667.7 739.8 668.0 740.6 668.2 739.6 668.5 740.2 668.7 739.6 669.0 739.4 669.3 739.0 669.5 738.9 669.8 738.3 670.0 737.8 670.3 737.6 670.5 736.9 670.8 736.8 671.0 735.7 671.3 734.7 671.6 733.6 671.8 732.6 672.1 732.0 672.3 730.0 672.6 728.2 672.8 727.0 673.1 725.8 673.3 723.6 673.6 722.6 673.9 721.5 674.1 720.7 674.4 720.7 674.4 720.8 674.6 720.1 674.9 721.1 675.1 721.3 675.4 724.3 675.6 725.9 675.9 727.4 676.2 728.4 676.4 730.3 676.7 731.2 676.9 732.6 677.2 733.1 677.4 734.6 677.7 735.4 677.9 736.9 678.2 737.8 678.4 737.4 678.7 738.2 679.0 738.6 679.2 738.5 679.5 738.4 679.7 739.1 680.0 738.9 680.2 739.5 680.5 739.7 680.7 739.8 681.0 739.9 681.3 740.3 681.5 739.8 681.8 740.6 682.0 739.6 682.3 740.3 682.5 740.5 682.8 740.1 683.0 739.7 683.3 740.7 683.6 740.2 683.8 740.9 684.1 740.9 684.3 740.6 684.6 740.6 684.8 741.0 685.1 740.8 685.3 740.3 685.6 740.7 685.9 740.9 686.1 740.8 686.4 740.8 686.6 740.7 686.9 740.7 687.1 740.4 687.4 740.1 687.6 741.2 687.9 740.5 688.2 740.9 688.4 740.2 688.7 740.9 688.9 740.4 689.2 742.1 689.4 740.4 689.7 740.4 689.9 741.2 690.2 741.3 690.5 740.0 690.7 740.9 691.0 741.3 691.2 740.4 691.5 741.2 691.7 740.7 692.0 740.5 692.2 740.7 692.5 740.7 692.8 740.3 693.0 741.8 693.3 740.7 693.5 740.6 693.8 741.2 694.0 740.8 694.3 741.4 694.5 740.8 694.8 741.0 695.1 740.9 695.3 740.9 695.6 740.7 695.8 740.8 696.1 741.5 696.3 740.6 696.6 740.6 696.8 740.7 697.1 741.1 697.4 741.0 697.6 741.2 697.9 740.3 698.1 740.9 698.4 740.7 698.6 740.7 698.9 740.8 699.1 740.0 699.4 740.9 699.6 740.8 699.9 740.2 700.2 740.7 700.4 741.4 700.7 740.6 700.9 741.0 701.2 740.6 701.4 740.3 701.7 740.3 701.9 740.5 702.2 741.2 702.5 741.0 702.7 740.3 703.0 741.1 703.2 740.6 703.5 740.3 703.7 740.8 704.0 740.2 704.2 739.9 704.5 741.1 704.8 739.7 705.0 740.6 705.3 739.8 705.5 740.4 705.8 740.3 706.0 740.1 706.3 739.4 706.5 740.2 706.8 740.2 707.1 739.8 707.3 740.0 707.6 740.4 707.8 739.7 708.1 740.0 708.3 739.4 708.6 739.9 708.8 739.9 709.1 740.7 709.4 739.9 709.6 739.5 709.9 739.8 710.1 738.7 710.4 739.4 710.6 738.5 710.9 738.2 711.1 738.8 711.4 738.1 711.7 738.2 711.9 736.6 712.2 736.8 712.4 735.8 712.7 735.0 712.9 733.2 713.2 733.3 713.4 731.5 713.7 729.2 714.0 727.1 714.2 725.1 714.5 723.6 714.7 720.3 715.0 717.1 715.2 714.7 715.5 711.5 715.7 708.6 716.0 706.8 716.3 704.6 716.5 703.9 716.6 703.2 716.8 703.9 717.0 704.4 717.3 706.6 717.5 708.9 717.8 711.1 718.0 714.6 718.3 717.8 718.6 720.1 718.8 722.2 719.1 725.8 719.3 728.0 719.6 729.6 719.8 731.3 720.1 732.6 720.3 734.1 720.6 735.6 720.8 736.0 721.1 736.7 721.4 737.0 721.6 736.7 721.9 738.0 722.1 738.4 722.4 739.0 722.6 739.5 722.9 739.0 723.1 739.4 723.4 738.7 723.7 739.8 723.9 739.8 724.2 740.1 724.4 739.8 724.7 739.9 724.9 740.3 725.2 739.5 725.4 740.1 725.7 740.3 726.0 739.6 726.2 739.5 726.5 740.2 726.7 740.0 727.0 740.2 727.2 740.3 727.5 739.7 727.7 740.2 728.0 740.4 728.3 739.8 728.5 739.7 728.8 739.2 729.0 739.7 729.3 739.7 729.5 737.6 729.8 737.3 730.0 735.8 730.3 733.5 730.6 731.5 730.8 729.3 731.1 728.1 731.3 727.9 731.3 728.3 731.6 728.4 731.8 730.3 732.1 731.9 732.3 733.5 732.6 736.2 732.9 737.6 733.1 738.1 733.4 739.8 733.6 739.8 733.9 740.0 734.1 740.9 734.4 739.2 734.6 739.7 734.9 740.7 735.2 740.4 735.4 740.1 735.7 741.1 735.9 740.8 736.2 740.1 736.4 740.3 736.7 741.0 736.9 741.4 737.2 739.8 737.5 740.8 737.7 740.5 738.0 740.0 738.2 740.7 738.5 740.0 738.7 740.5 739.0 741.4 739.2 740.9 739.5 741.0 739.8 741.0 740.0 740.8 740.3 741.1 740.5 740.2 740.8 740.6 741.0 741.1 741.3 740.4 741.5 740.5 741.8 741.2 742.0 741.3 742.3 740.4 742.6 740.3 742.8 740.8 743.1 740.8 743.3 740.3 743.6 740.8 743.8 740.8 744.1 740.5 744.3 741.6 744.6 741.0 744.9 740.7 745.1 740.6 745.4 741.3 745.6 740.2 745.9 738.9 746.1 738.7 746.4 737.6 746.6 735.9 746.9 734.4 747.2 732.5 747.4 730.5 747.7 729.1 747.9 729.0 747.9 728.0 748.2 729.4 748.4 730.8 748.7 732.5 748.9 733.2 749.2 736.7 749.5 736.8 749.7 738.2 750.0 739.5 750.2 739.5 750.5 739.9 750.7 739.3 751.0 740.1 751.2 740.4 751.5 740.7 751.8 740.3 752.0 740.5 752.3 740.7 752.5 740.2 752.8 740.2 753.0 741.3 753.3 740.2 753.5 741.0 753.8 740.6 754.1 741.1 754.3 740.3 754.6 740.7 754.8 740.6 755.1 740.4 755.3 740.7 755.6 740.2 755.8 740.5 756.1 740.3 756.4 740.7 756.6 740.4 756.9 739.8 757.1 740.3 757.4 740.4 757.6 740.0 757.9 741.0 758.1 740.6 758.4 740.8 758.7 740.0 758.9 740.1 759.2 740.7 759.4 739.6 759.7 740.4 759.9 740.3 760.2 739.9 760.4 740.2 760.7 739.7 761.0 740.1 761.2 739.5 761.5 739.5 761.7 740.5 762.0 739.6 762.2 739.0 762.5 740.2 762.7 739.5 763.0 738.3 763.2 739.6 763.5 739.9 763.8 739.5 764.0 740.0 764.3 739.1 764.5 739.4 764.8 738.5 765.0 738.8 765.3 739.2 765.5 738.5 765.8 738.1 766.1 737.0 766.3 737.2 766.6 736.5 766.8 736.8 767.1 735.7 767.3 735.6 767.6 734.3 767.8 734.8 768.1 732.5 768.4 732.1 768.6 732.2 768.9 730.1 769.1 728.8 769.4 728.2 769.6 727.3 769.9 726.3 770.1 724.1 770.4 724.4 770.7 722.4 770.9 723.9 770.9 723.2 771.2 722.6 771.4 723.1 771.7 723.3 771.9 722.7 772.2 723.9 772.4 723.4 772.7 723.2 773.0 724.3 773.2 724.4 773.5 724.0 773.7 722.9 774.0 721.7 774.2 721.4 774.5 720.7 774.7 719.0 775.0 718.2 775.3 715.6 775.5 715.1 775.8 713.9 776.0 712.0 776.3 710.9 776.5 711.0 776.7 711.5 776.8 711.9 777.0 712.3 777.3 713.4 777.6 715.0 777.8 716.4 778.1 718.4 778.3 720.1 778.6 721.9 778.8 723.8 779.1 725.3 779.3 727.4 779.6 728.5 779.9 730.8 780.1 731.2 780.4 732.3 780.6 733.1 780.9 734.2 781.1 735.1 781.4 735.6 781.6 736.1 781.9 736.2 782.2 737.0 782.4 737.5 782.7 738.0 782.9 738.4 783.2 738.0 783.4 737.5 783.7 738.4 783.9 737.8 784.2 738.2 784.4 739.2 784.7 739.1 785.0 738.7 785.2 738.8 785.5 739.0 785.7 738.4 786.0 739.3 786.2 739.1 786.5 740.0 786.7 738.9 787.0 739.7 787.3 739.1 787.5 739.7 787.8 738.9 788.0 739.7 788.3 739.1 788.5 739.1 788.8 739.3 789.0 739.6 789.3 739.5 789.6 740.0 789.8 739.7 790.1 738.1 790.3 739.1 790.6 738.4 790.8 739.0 791.1 739.4 791.3 738.5 791.6 738.5 791.9 739.0 792.1 738.6 792.4 739.2 792.6 738.7 792.9 738.6 793.1 739.0 793.4 737.8 793.6 737.8 793.9 736.9 794.2 737.1 794.4 737.1 794.7 736.7 794.9 735.6 795.2 734.6 795.4 733.7 795.7 732.8 795.9 732.5 796.2 731.8 796.5 728.9 796.7 727.8 797.0 727.7 797.2 725.0 797.5 724.3 797.7 721.8 798.0 720.8 798.2 719.4 798.5 717.6 798.8 716.4 799.0 715.0 799.3 714.6 799.5 714.6 799.6 714.2 799.8 713.5 800.0 714.0 800.3 715.0 800.5 716.1 800.8 717.4 801.1 718.8 801.3 720.9 801.6 722.4 801.8 724.4 802.1 725.8 802.3 727.6 802.6 728.2 802.8 730.7 803.1 731.4 803.4 732.5 803.6 733.6 803.9 734.6 804.1 735.3 804.4 735.7 804.6 736.2 804.9 736.0 805.1 737.2 805.4 737.4 805.6 737.6 805.9 739.0 806.2 737.4 806.4 738.5 806.7 738.9 806.9 739.0 807.2 739.2 807.4 738.2 807.7 738.4 807.9 739.0 808.2 738.6 808.5 739.5 808.7 738.8 809.0 738.4 809.2 738.1 809.5 737.3 809.7 736.4 810.0 734.4 810.2 732.0 810.5 728.5 810.8 724.8 811.0 719.7 811.3 715.3 811.5 713.0 811.8 711.9 811.8 711.2 812.0 712.7 812.3 715.6 812.5 721.2 812.8 724.3 813.1 729.7 813.3 732.0 813.6 735.2 813.8 736.6 814.1 737.7 814.3 739.0 814.6 739.3 814.8 739.2 815.1 739.1 815.4 740.5 815.6 740.3 815.9 739.8 816.1 739.7 816.4 740.0 816.6 740.0 816.9 740.4 817.1 739.6 817.4 740.0 817.7 739.6 817.9 740.5 818.2 740.6 818.4 739.8 818.7 739.9 818.9 740.0 819.2 738.9 819.4 737.8 819.7 737.6 820.0 735.9 820.2 733.6 820.5 732.2 820.7 729.4 821.0 726.4 821.2 726.5 821.4 726.0 821.5 726.9 821.7 727.2 822.0 729.1 822.3 731.8 822.5 733.9 822.8 735.1 823.0 737.3 823.3 738.2 823.5 739.7 823.8 740.6 824.0 739.4 824.3 739.7 824.5 739.9 824.8 740.0 825.1 740.0 825.3 740.4 825.6 740.9 825.8 739.9 826.1 739.8 826.3 739.7 826.6 740.9 826.8 741.0 827.1 739.9 827.4 739.9 827.6 740.6 827.9 741.0 828.1 741.0 828.4 740.7 828.6 740.9 828.9 740.8 829.1 740.4 829.4 741.4 829.7 740.7 829.9 740.2 830.2 740.5 830.4 740.0 830.7 740.7 830.9 741.1 831.2 740.2 831.4 741.2 831.7 741.6 832.0 740.8 832.2 740.2 832.5 740.3 832.7 740.6 833.0 740.1 833.2 740.2 833.5 740.6 833.7 740.6 834.0 741.0 834.3 740.2 834.5 741.5 834.8 741.1 835.0 741.1 835.3 740.4 835.5 741.4 835.8 740.5 836.0 741.4 836.3 741.1 836.6 740.3 836.8 740.5 837.1 741.5 837.3 741.1 837.6 740.6 837.8 740.7 838.1 740.8 838.3 740.3 838.6 740.6 838.9 740.3 839.1 740.5 839.4 740.8 839.6 740.3 839.9 740.9 840.1 740.7 840.4 741.0 840.6 741.0 840.9 741.1 841.2 740.8 841.4 740.9 841.7 740.5 841.9 740.8 842.2 740.2 842.4 740.5 842.7 740.9 842.9 740.5 843.2 740.7 843.5 740.1 843.7 741.1 844.0 740.2 844.2 740.6 844.5 740.4 844.7 740.8 845.0 740.3 845.2 740.0 845.5 739.6 845.7 740.2 846.0 739.8 846.3 740.5 846.5 740.9 846.8 739.3 847.0 739.7 847.3 740.3 847.5 740.6 847.8 740.2 848.0 740.1 848.3 740.2 848.6 740.1 848.8 740.4 849.1 739.9 849.3 739.0 849.6 739.2 849.8 739.3 850.1 738.7 850.3 738.6 850.6 738.4 850.9 737.9 851.1 738.2 851.4 737.4 851.6 736.6 851.9 736.3 852.1 736.1 852.4 736.4 852.6 734.9 852.9 734.8 853.2 733.7 853.4 731.7 853.7 732.0 853.9 730.8 854.2 730.2 854.4 729.8 854.7 730.4 854.9 728.8 855.2 729.1 855.2 729.9 855.5 729.5 855.7 728.9 856.0 730.0 856.2 730.4 856.5 731.2 856.7 732.2 857.0 732.4 857.2 733.0 857.5 734.9 857.8 734.0 858.0 735.2 858.3 736.1 858.5 736.0 858.8 736.8 859.0 737.0 859.3 737.9 859.5 737.8 859.8 738.8 860.1 739.1 860.3 739.0 860.6 738.9 860.8 739.4 861.1 739.5 861.3 739.0 861.6 740.1 861.8 739.8 862.1 740.1 862.4 739.3 862.6 740.3 862.9 740.8 863.1 740.2 863.4 739.4 863.6 740.0 863.9 740.0 864.1 740.1 864.4 739.9 864.7 740.2 864.9 739.8 865.2 740.1 865.4 739.7 865.7 740.0 865.9 740.3 866.2 739.6 866.4 740.0 866.7 739.3 866.9 739.4 867.2 739.4 867.5 739.9 867.7 739.0 868.0 739.6 868.2 738.3 868.5 738.7 868.7 738.9 869.0 738.7 869.2 737.8 869.5 737.6 869.8 738.3 870.0 737.3 870.3 738.0 870.5 737.5 870.5 737.8 870.8 738.8 871.0 738.3 871.3 738.3 871.5 737.5 871.8 738.4 872.1 738.4 872.3 738.6 872.6 739.3 872.8 738.2 873.1 739.2 873.3 739.2 873.6 739.0 873.8 740.2 874.1 739.0 874.4 739.7 874.6 739.8 874.9 738.9 875.1 739.3 875.4 739.5 875.6 740.3 875.9 740.4 876.1 740.2 876.4 740.2 876.7 739.2 876.9 740.2 877.2 739.9 877.4 740.6 877.7 740.7 877.9 741.1 878.2 740.4 878.4 740.4 878.7 739.6 879.0 740.1 879.2 739.4 879.5 740.3 879.7 739.5 880.0 739.9 880.2 739.5 880.5 739.7 880.7 740.0 881.0 739.5 881.3 739.7 881.5 739.2 881.8 740.2 882.0 739.2 882.3 739.8 882.5 740.2 882.8 738.0 883.0 738.6 883.3 738.7 883.6 739.1 883.8 738.2 884.1 738.5 884.3 737.7 884.6 738.0 884.8 736.9 885.1 737.5 885.3 735.5 885.6 735.6 885.9 736.8 886.1 735.7 886.4 735.0 886.6 735.8 886.9 734.8 887.1 734.5 887.4 733.2 887.6 733.1 887.9 732.6 888.1 731.1 888.4 731.7 888.7 731.0 888.9 731.0 889.2 730.7 889.4 729.7 889.7 729.2 889.9 729.4 890.2 729.6 890.3 729.1 890.4 729.2 890.7 729.8 891.0 729.7 891.2 730.4 891.5 730.2 891.7 730.1 892.0 730.1 892.2 731.8 892.5 731.7 892.7 732.4 893.0 732.7 893.3 732.7 893.5 733.8 893.8 733.3 894.0 734.6 894.3 734.9 894.5 736.4 894.8 736.3 895.0 736.3 895.3 736.9 895.6 737.6 895.8 737.2 896.1 737.7 896.3 737.9 896.6 739.4 896.8 738.5 897.1 737.8 897.3 739.2 897.6 740.0 897.9 738.8 898.1 740.8 898.4 739.4 898.6 739.9 898.9 739.4 899.1 739.6 899.4 739.1 899.6 739.3 899.9 738.9 900.2 740.4 900.4 739.5 900.7 740.2 900.9 740.2 901.2 739.8 901.4 740.1 901.7 740.1 901.9 739.9 902.2 740.2 902.5 740.3 902.7 739.8 903.0 739.7 903.2 740.0 903.5 740.4 903.7 741.0 904.0 741.0 904.2 740.5 904.5 740.8 904.8 740.5 905.0 740.9 905.3 740.5 905.5 740.6 905.8 740.3 906.0 740.5 906.3 741.3 906.5 739.9 906.8 740.5 907.1 740.2 907.3 740.9 907.6 741.3 907.8 740.4 908.1 739.3 908.3 740.8 908.6 740.8 908.8 739.8 909.1 740.4 909.3 740.5 909.6 739.6 909.9 740.9 910.1 740.7 910.4 740.7 910.6 740.2 910.9 740.3 911.1 740.3 911.4 740.8 911.6 740.2 911.9 741.3 912.2 740.8 912.4 739.6 912.7 741.3 912.9 740.7 913.2 740.4 913.4 740.7 913.7 739.8 913.9 740.7 914.2 739.5 914.5 740.2 914.7 741.3 915.0 741.2 915.2 740.5 915.5 740.2 915.7 741.0 916.0 740.6 916.2 740.7 916.5 740.9 916.8 740.2 917.0 741.0 917.3 739.7 917.5 741.3 917.8 740.0 918.0 740.4 918.3 740.4 918.5 741.0 918.8 741.0 919.1 740.8 919.3 740.9 919.6 740.9 919.8 740.6 920.1 739.8 920.3 739.7 920.6 739.7 920.8 740.7 921.1 740.6 921.4 740.6 921.6 740.8 921.9 740.6 922.1 740.2 922.4 740.0 922.6 739.9 922.9 741.2 923.1 741.1 923.4 740.1 923.7 740.6 923.9 740.9 924.2 741.4 924.4 740.4 924.7 740.8 924.9 741.2 925.2 739.9 925.4 740.4 925.7 740.7 926.0 740.4 926.2 741.6 926.5 741.1 926.7 740.8 927.0 740.3 927.2 741.1 927.5 741.0 927.7 740.5 928.0 740.5 928.3 740.1 928.5 740.6 928.8 741.1 929.0 741.1 929.3 741.0 929.5 741.1 929.8 740.4 930.0 740.5 930.3 741.2 930.5 740.9 930.8 740.3 931.1 740.9 931.3 741.1 931.6 741.0 931.8 740.7 932.1 740.4 932.3 740.9 932.6 741.4 932.8 740.7 933.1 740.4 933.4 740.8 933.6 740.1 933.9 740.8 934.1 740.5 934.4 741.1 934.6 740.7 934.9 741.1 935.1 741.7 935.4 740.6 935.7 740.3 935.9 740.9 936.2 740.6 936.4 740.7 936.7 740.4 936.9 740.9 937.2 740.7 937.4 739.7 937.7 740.6 938.0 740.8 938.2 741.1 938.5 740.4 938.7 740.3 939.0 741.2 939.2 740.4 939.5 740.7 939.7 740.8 940.0 741.0 940.3 740.6 940.5 740.2 940.8 741.1 941.0 740.4 941.3 740.4 941.5 741.5 941.8 741.0 942.0 740.2 942.3 740.4 942.6 740.5 942.8 740.2 943.1 739.8 943.3 740.9 943.6 740.9 943.8 740.7 944.1 740.4 944.3 740.7 944.6 740.8 944.9 740.1 945.1 740.4 945.4 740.3 945.6 740.8 945.9 740.7 946.1 740.0 946.4 740.2 946.6 741.2 946.9 740.1 947.2 740.5 947.4 740.1 947.7 740.9 947.9 740.3 948.2 740.1 948.4 739.7 948.7 740.1 948.9 740.6 949.2 740.4 949.5 739.4 949.7 740.6 950.0 739.7 950.2 739.2 950.5 739.6 950.7 739.1 951.0 738.9 951.2 738.7 951.5 738.8 951.7 738.4 952.0 737.7 952.3 738.5 952.5 737.9 952.8 738.4 953.0 738.0 953.3 738.0 953.5 737.8 953.5 738.3 953.8 737.6 954.0 737.4 954.3 738.1 954.6 737.0 954.8 738.1 955.1 738.5 955.3 738.4 955.6 739.3 955.8 739.3 956.1 739.2 956.3 739.2 956.6 739.9 956.9 739.3 957.1 739.6 957.4 740.2 957.6 740.2 957.9 740.9 958.1 740.0 958.4 739.3 958.6 740.5 958.9 740.8 959.2 740.2 959.4 741.0 959.7 741.1 959.9 740.1 960.2 740.2 960.4 739.9 960.7 740.7 960.9 740.8 961.2 740.7 961.5 739.9 961.7 740.1 962.0 739.8 962.2 739.8 962.5 739.9 962.7 739.8 963.0 740.4 963.2 740.7 963.5 740.7 963.8 740.5 964.0 740.2 964.3 740.5 964.5 740.8 964.8 740.4 965.0 740.5 965.3 740.4 965.5 740.3 965.8 740.5 966.1 740.0 966.3 741.0 966.6 739.8 966.8 740.7 967.1 739.9 967.3 741.2 967.6 740.9 967.8 740.2 968.1 740.3 968.4 740.0 968.6 740.5 968.9 740.7 969.1 741.6 969.4 739.9 969.6 741.0 969.9 740.2 970.1 740.6 970.4 740.8 970.7 740.7 970.9 740.6 971.2 740.3 971.4 740.5 971.7 740.5 971.9 741.0 972.2 739.8 972.4 740.2 972.7 739.9 972.9 740.0 973.2 740.0 973.5 740.8 973.7 741.3 974.0 740.9 974.2 739.8 974.5 740.3 974.7 739.8 975.0 740.5 975.2 740.8 975.5 740.5 975.8 740.6 976.0 740.2 976.3 739.4 976.5 739.3 976.8 740.1 977.0 740.4 977.3 740.7 977.5 739.9 977.8 740.1 978.1 740.1 978.3 740.4 978.6 739.8 978.8 739.3 979.1 740.1 979.3 739.5 979.6 739.3 979.8 738.2 980.1 738.2 980.4 736.6 980.6 735.6 980.9 735.1 981.1 733.8 981.4 733.0 981.6 732.2 981.9 730.9 982.1 731.2 982.1 730.2 982.4 730.8 982.7 730.6 982.9 732.3 983.2 733.4 983.4 734.2 983.7 735.5 983.9 735.3 984.2 736.9 984.4 736.7 984.7 737.4 985.0 737.5 985.2 737.3 985.5 737.2 985.7 736.8 986.0 737.4 986.2 736.7 986.5 737.0 986.7 736.0 987.0 737.1 987.3 735.9 987.5 736.7 987.8 735.8 988.0 736.2 988.3 735.6 988.5 736.1 988.8 735.7 989.0 736.3 989.3 735.9 989.3 735.8 989.6 736.3 989.8 735.4 990.1 736.2 990.3 735.7 990.6 735.1 990.8 736.0 991.1 735.8 991.3 736.6 991.6 735.8 991.9 736.2 992.1 736.3 992.4 735.3 992.6 736.3 992.9 735.8 993.1 736.7 993.4 736.7 993.6 736.0 993.9 735.3 994.1 736.1 994.4 735.9 994.7 736.2 994.9 735.8 995.0 735.6 995.2 736.0 995.4 735.9 995.7 737.2 995.9 736.4 996.2 736.7 996.4 737.1 996.7 737.1 997.0 737.6 997.2 738.0 997.5 738.1 997.7 738.4 998.0 739.3 998.2 739.0 998.5 738.4 998.7 738.9 999.0 739.5 999.3 738.9 999.5 739.3 999.8 739.3 1000.0 739.6 1000.3 739.3 1000.5 739.2 1000.8 738.9 1001.0 739.3 1001.3 738.7 1001.6 739.8 1001.8 738.9 1002.1 738.7 1002.3 738.9 1002.6 738.5 1002.8 738.4 1003.1 738.3 1003.3 737.9 1003.6 737.6 1003.9 737.6 1004.1 738.5 1004.4 737.6 1004.6 737.7 1004.6 737.7 1004.9 738.2 1005.1 738.8 1005.4 737.7 1005.6 738.5 1005.9 738.3 1006.2 738.3 1006.4 738.8 1006.7 738.2 1006.9 739.2 1007.2 739.1 1007.4 738.8 1007.7 739.9 1007.9 739.8 1008.2 740.0 1008.5 739.0 1008.7 739.6 1009.0 739.6 1009.2 740.2 1009.5 740.5 1009.7 739.1 1010.0 740.1 1010.2 740.1 1010.5 740.6 1010.8 740.1 1011.0 739.7 1011.3 740.1 1011.5 739.8 1011.8 740.0 1012.0 740.3 1012.3 740.1 1012.5 740.4 1012.8 739.7 1013.0 741.3 1013.3 740.9 1013.6 740.7 1013.8 739.8 1014.1 739.4 1014.3 740.0 1014.6 740.3 1014.8 741.3 1015.1 741.0 1015.3 740.2 1015.6 740.9 1015.9 741.0 1016.1 740.4 1016.4 741.0 1016.6 740.5 1016.9 740.2 1017.1 739.9 1017.4 740.4 1017.6 740.9 1017.9 739.9 1018.2 739.8 1018.4 740.7 1018.7 739.3 1018.9 741.2 1019.2 740.3 1019.4 740.8 1019.7 741.3 1019.9 739.8 1020.2 740.0 1020.5 741.4 1020.7 740.3 1021.0 740.4 1021.2 740.6 1021.5 740.9 1021.7 741.1 1022.0 740.5 1022.2 740.3 1022.5 740.5 1022.8 740.6 1023.0 741.0 1023.3 740.5 1023.5 741.2 1023.8 740.1 1024.0 740.7 1024.3 741.2 1024.5 741.0 1024.8 740.6 1025.1 740.1 1025.3 740.2 1025.6 740.4 1025.8 740.6 1026.1 740.4 1026.3 739.8 1026.6 740.1 1026.8 740.7 1027.1 740.8 1027.4 739.9 1027.6 740.3 1027.9 739.7 1028.1 740.2 1028.4 742.0 1028.6 740.5 1028.9 740.3 1029.1 740.2 1029.4 739.9 1029.7 739.6 1029.9 740.4 1030.2 740.3 1030.4 741.0 1030.7 739.7 1030.9 740.5 1031.2 740.9 1031.4 739.5 1031.7 740.6 1032.0 739.6 1032.2 740.5 1032.5 740.8 1032.7 740.2 1033.0 740.2 1033.2 739.8 1033.5 740.1 1033.7 740.4 1034.0 739.8 1034.2 739.7 1034.5 739.8 1034.8 739.9 1035.0 738.9 1035.3 739.4 1035.5 739.1 1035.8 739.5 1036.0 739.6 1036.3 739.4 1036.5 739.8 1036.5 738.9 1036.8 739.1 1037.1 738.8 1037.3 739.3 1037.6 739.4 1037.8 739.3 1038.1 739.0 1038.3 739.6 1038.6 739.5 1038.8 740.0 1039.1 739.8 1039.4 740.4 1039.6 740.1 1039.9 739.3 1040.1 740.0 1040.4 739.6 1040.6 740.6 1040.9 740.8 1041.1 740.3 1041.4 740.5 1041.7 739.7 1041.9 739.4 1042.2 740.1 1042.4 740.2 1042.7 739.7 1042.9 740.4 1043.2 740.5 1043.4 740.7 1043.7 741.1 1044.0 740.8 1044.2 740.3 1044.5 740.5 1044.7 740.7 1045.0 740.0 1045.2 741.0 1045.5 740.8 1045.7 740.3 1046.0 740.2 1046.3 742.1 1046.5 740.8 1046.8 740.8 1047.0 741.2 1047.3 740.9 1047.5 740.5 1047.8 740.8 1048.0 740.1 1048.3 740.8 1048.6 739.8 1048.8 740.6 1049.1 740.7 1049.3 739.8 1049.6 741.3 1049.8 740.0 1050.1 740.9 1050.3 740.2 1050.6 740.6 1050.9 740.2 1051.1 741.5 1051.4 740.9 1051.6 741.2 1051.9 740.8 1052.1 740.7 1052.4 740.5 1052.6 740.3 1052.9 740.7 1053.2 740.5 1053.4 740.4 1053.7 739.8 1053.9 740.3 1054.2 740.7 1054.4 740.2 1054.7 740.6 1054.9 740.4 1055.2 740.0 1055.4 740.1 1055.7 740.1 1056.0 740.3 1056.2 740.3 1056.5 740.9 1056.7 740.0 1057.0 739.6 1057.2 740.7 1057.5 740.2 1057.7 740.3 1058.0 741.5 1058.3 741.0 1058.5 740.7 1058.8 740.8 1059.0 740.5 1059.3 740.8 1059.5 740.1 1059.8 740.1 1060.0 740.2 1060.3 741.1 1060.6 741.1 1060.8 740.1 1061.1 740.9 1061.3 740.3 1061.6 740.8 1061.8 740.2 1062.1 740.8 1062.3 740.3 1062.6 740.2 1062.9 740.3 1063.1 740.4 1063.4 740.1 1063.6 739.7 1063.9 741.0 1064.1 740.2 1064.4 739.5 1064.6 739.3 1064.9 739.1 1065.2 740.0 1065.4 740.8 1065.7 739.5 1065.9 740.1 1066.2 739.4 1066.4 740.6 1066.7 740.3 1066.9 740.3 1067.2 740.7 1067.5 740.8 1067.7 740.5 1068.0 739.8 1068.2 739.5 1068.5 739.6 1068.7 739.2 1069.0 740.7 1069.2 739.8 1069.5 739.9 1069.8 739.9 1070.0 740.6 1070.3 739.4 1070.5 740.0 1070.8 739.4 1071.0 738.9 1071.3 737.7 1071.5 738.3 1071.8 736.5 1072.1 735.0 1072.3 733.3 1072.6 731.1 1072.8 729.6 1073.1 727.4 1073.2 727.6 1073.3 727.7 1073.6 728.4 1073.8 730.4 1074.1 731.7 1074.4 733.9 1074.6 734.1 1074.9 734.5 1075.1 735.4 1075.4 735.8 1075.6 734.9 1075.9 734.4 1076.1 734.2 1076.4 733.9 1076.6 733.4 1076.9 733.2 1077.2 732.1 1077.4 733.0 1077.7 732.5 1077.9 731.9 1078.1 732.8 1078.2 732.3 1078.4 733.0 1078.7 732.3 1078.9 733.7 1079.2 733.3 1079.5 732.6 1079.7 734.4 1080.0 734.5' fill='none' stroke='#0000ff' stroke-width='2.3' stroke-linejoin='round'/>
<path d='M186.0 434.6 186.3 434.7 186.5 434.4 186.8 434.2 187.0 434.4 187.3 434.2 187.5 434.6 187.8 435.1 188.0 434.4 188.3 434.3 188.6 434.8 188.8 434.7 189.1 434.6 189.3 434.2 189.6 434.6 189.8 434.9 190.1 434.0 190.3 434.4 190.6 433.8 190.9 434.0 191.1 433.8 191.4 434.5 191.6 434.0 191.9 434.7 192.1 434.6 192.4 434.5 192.6 433.5 192.9 434.3 193.2 434.5 193.4 434.6 193.7 433.9 193.9 434.4 194.2 434.2 194.4 434.2 194.7 435.0 194.9 434.2 195.2 434.5 195.5 434.9 195.7 434.3 196.0 434.5 196.2 434.6 196.5 434.6 196.7 434.0 197.0 434.6 197.2 435.1 197.5 433.9 197.7 434.9 198.0 434.6 198.3 434.3 198.5 435.4 198.8 434.9 199.0 434.0 199.3 434.6 199.5 434.8 199.8 434.5 200.0 434.9 200.3 434.5 200.6 434.8 200.8 435.2 201.1 434.3 201.3 434.6 201.6 434.4 201.8 434.6 202.1 434.0 202.3 434.3 202.6 434.5 202.9 434.9 203.1 435.0 203.4 434.0 203.6 434.2 203.9 434.8 204.1 433.7 204.4 434.3 204.6 434.5 204.9 435.1 205.2 434.8 205.4 434.4 205.7 434.4 205.9 434.4 206.2 435.2 206.4 434.4 206.7 434.4 206.9 434.7 207.2 434.5 207.5 434.5 207.7 434.1 208.0 434.5 208.2 434.4 208.5 435.0 208.7 434.8 209.0 434.5 209.2 434.8 209.5 434.4 209.8 435.0 210.0 434.5 210.3 434.8 210.5 434.0 210.8 434.7 211.0 433.8 211.3 433.7 211.5 434.4 211.8 434.1 212.1 434.6 212.3 435.5 212.6 434.2 212.8 434.3 213.1 434.6 213.3 434.7 213.6 434.5 213.8 434.4 214.1 434.8 214.4 434.7 214.6 434.1 214.9 434.5 215.1 434.5 215.4 434.1 215.6 434.6 215.9 434.2 216.1 434.9 216.4 434.6 216.7 434.6 216.9 434.3 217.2 434.5 217.4 433.7 217.7 434.1 217.9 434.7 218.2 433.6 218.4 434.9 218.7 433.8 218.9 434.8 219.2 434.2 219.5 434.8 219.7 434.6 220.0 433.9 220.2 435.1 220.5 435.1 220.7 434.5 221.0 434.4 221.2 434.4 221.5 434.1 221.8 435.0 222.0 434.3 222.3 434.5 222.5 434.2 222.8 434.3 223.0 434.0 223.3 435.0 223.5 434.4 223.8 434.9 224.1 434.5 224.3 434.2 224.6 434.4 224.8 434.3 225.1 434.5 225.3 434.3 225.6 434.4 225.8 433.9 226.1 434.2 226.4 435.2 226.6 434.2 226.9 434.1 227.1 434.6 227.4 435.1 227.6 433.9 227.9 434.4 228.1 434.2 228.4 433.8 228.7 434.8 228.9 434.5 229.2 434.5 229.4 434.2 229.7 434.7 229.9 434.3 230.2 434.4 230.4 434.0 230.7 434.0 231.0 435.1 231.2 434.3 231.5 434.6 231.7 434.5 232.0 434.3 232.2 434.3 232.5 434.8 232.7 434.4 233.0 434.4 233.3 434.5 233.5 435.0 233.8 434.8 234.0 434.7 234.3 434.2 234.5 433.9 234.8 434.9 235.0 434.9 235.3 434.4 235.6 434.7 235.8 434.8 236.1 434.8 236.3 434.8 236.6 434.3 236.8 435.1 237.1 433.9 237.3 434.8 237.6 434.7 237.9 434.8 238.1 435.3 238.4 435.1 238.6 434.0 238.9 433.7 239.1 434.8 239.4 434.0 239.6 434.4 239.9 434.8 240.1 433.8 240.4 433.6 240.7 434.6 240.9 434.5 241.2 434.3 241.4 434.5 241.7 434.1 241.9 433.8 242.2 434.4 242.4 434.0 242.7 433.8 243.0 434.6 243.2 434.4 243.5 434.6 243.7 434.0 244.0 434.2 244.2 434.0 244.5 434.1 244.7 434.5 245.0 434.1 245.3 434.6 245.5 434.6 245.8 435.3 246.0 433.8 246.3 434.8 246.5 434.4 246.8 434.4 247.0 433.8 247.3 434.2 247.6 434.7 247.8 434.4 248.1 434.5 248.3 434.3 248.6 434.9 248.8 434.4 249.1 433.5 249.3 434.1 249.6 433.6 249.9 433.0 250.1 434.2 250.4 435.0 250.6 434.4 250.9 433.9 251.1 434.0 251.4 434.9 251.6 434.5 251.9 434.4 252.2 434.4 252.4 434.4 252.7 434.7 252.9 434.6 253.2 434.5 253.4 433.9 253.7 434.6 253.9 434.1 254.2 434.8 254.5 433.8 254.7 434.3 255.0 434.4 255.2 433.8 255.5 435.1 255.7 435.0 256.0 434.1 256.2 434.7 256.5 434.5 256.8 433.3 257.0 434.4 257.3 434.3 257.5 434.4 257.8 433.9 258.0 434.2 258.3 434.2 258.5 434.8 258.8 434.4 259.1 434.3 259.3 434.9 259.6 434.1 259.8 434.1 260.1 433.5 260.3 434.9 260.6 434.7 260.8 434.6 261.1 434.6 261.3 434.3 261.6 434.3 261.9 434.1 262.1 434.1 262.4 434.2 262.6 434.8 262.9 434.5 263.1 434.2 263.4 434.0 263.6 433.9 263.9 434.8 264.2 434.4 264.4 434.2 264.7 434.0 264.9 433.6 265.2 434.1 265.4 434.4 265.7 433.9 265.9 434.0 266.2 433.9 266.5 434.1 266.7 433.4 267.0 433.9 267.2 433.6 267.5 434.4 267.7 433.7 268.0 434.2 268.2 434.6 268.5 433.8 268.8 433.6 269.0 433.9 269.3 433.8 269.5 433.3 269.8 433.9 270.0 434.6 270.3 433.5 270.5 433.5 270.8 433.2 271.1 433.7 271.3 433.0 271.6 433.0 271.8 433.9 272.1 432.9 272.3 433.7 272.6 433.8 272.8 433.1 273.1 433.2 273.4 433.7 273.6 432.6 273.9 432.4 274.1 432.0 274.4 432.3 274.6 432.8 274.9 432.3 275.1 431.3 275.4 431.0 275.7 430.9 275.9 431.0 276.2 430.2 276.4 430.1 276.7 429.4 276.9 428.6 277.2 427.9 277.4 426.9 277.7 425.2 278.0 422.8 278.2 419.7 278.5 412.6 278.7 402.6 279.0 385.7 279.2 364.0 279.5 332.4 279.7 296.0 280.0 256.2 280.2 218.6 280.5 189.1 280.8 178.1 280.8 178.0 281.0 188.8 281.3 218.8 281.5 256.9 281.8 296.2 282.0 333.4 282.3 363.0 282.5 386.3 282.8 402.3 283.1 411.8 283.3 419.0 283.6 422.2 283.8 425.8 284.1 427.3 284.3 428.3 284.6 428.5 284.8 429.5 285.1 429.9 285.4 430.3 285.6 430.6 285.9 430.6 286.1 430.7 286.4 432.0 286.6 431.7 286.9 432.3 287.1 432.7 287.4 431.7 287.7 432.2 287.9 432.8 288.2 432.9 288.4 432.8 288.7 433.5 288.9 433.2 289.2 432.7 289.4 432.9 289.7 433.6 290.0 433.6 290.2 432.7 290.5 434.1 290.7 433.8 291.0 434.1 291.2 433.5 291.5 433.5 291.7 433.2 292.0 434.8 292.3 433.7 292.5 434.4 292.8 433.5 293.0 433.9 293.3 433.1 293.5 433.7 293.8 434.3 294.0 433.4 294.3 434.4 294.6 434.1 294.8 433.5 295.1 433.8 295.3 433.8 295.6 434.0 295.8 433.8 296.1 433.7 296.3 433.9 296.6 433.6 296.9 433.5 297.1 434.0 297.4 434.5 297.6 433.4 297.9 434.1 298.1 433.8 298.4 433.7 298.6 434.5 298.9 433.9 299.2 434.8 299.4 433.8 299.7 434.4 299.9 434.0 300.2 433.8 300.4 434.4 300.7 434.1 300.9 434.4 301.2 434.1 301.4 433.7 301.7 434.2 302.0 434.2 302.2 434.6 302.5 433.8 302.7 434.2 303.0 433.5 303.2 434.5 303.5 433.8 303.7 433.5 304.0 434.2 304.3 434.7 304.5 433.6 304.8 433.8 305.0 433.9 305.3 433.8 305.5 434.4 305.8 433.9 306.0 433.9 306.3 434.5 306.6 433.9 306.8 434.4 307.1 433.8 307.3 433.7 307.6 433.5 307.8 435.0 308.1 434.1 308.3 434.4 308.6 434.2 308.9 434.3 309.1 434.3 309.4 435.1 309.6 433.8 309.9 433.6 310.1 433.8 310.4 433.7 310.6 434.6 310.9 434.6 311.2 433.8 311.4 433.7 311.7 434.1 311.9 434.9 312.2 433.1 312.4 434.5 312.7 433.8 312.9 434.7 313.2 433.8 313.5 434.2 313.7 433.6 314.0 433.8 314.2 434.8 314.5 434.6 314.7 434.1 315.0 433.9 315.2 433.5 315.5 434.1 315.8 434.2 316.0 434.2 316.3 434.2 316.5 433.8 316.8 434.2 317.0 434.3 317.3 434.8 317.5 435.1 317.8 434.2 318.1 433.9 318.3 434.2 318.6 434.0 318.8 433.9 319.1 434.2 319.3 433.8 319.6 434.5 319.8 434.2 320.1 434.3 320.4 434.2 320.6 434.0 320.9 433.9 321.1 434.1 321.4 434.0 321.6 434.3 321.9 434.2 322.1 433.7 322.4 434.3 322.6 433.7 322.9 434.0 323.2 434.1 323.4 433.4 323.7 434.3 323.9 434.3 324.2 434.2 324.4 434.0 324.7 434.1 324.9 433.8 325.2 434.1 325.5 434.0 325.7 434.3 326.0 433.7 326.2 434.3 326.5 434.3 326.7 434.2 327.0 434.0 327.2 434.4 327.5 433.5 327.8 434.4 328.0 434.3 328.3 434.3 328.5 434.3 328.8 433.9 329.0 434.1 329.3 434.4 329.5 434.4 329.8 434.3 330.1 433.6 330.3 434.4 330.6 434.7 330.8 434.6 331.1 434.3 331.3 433.5 331.6 434.5 331.8 434.1 332.1 433.1 332.4 434.3 332.6 433.5 332.9 433.6 333.1 433.8 333.4 434.6 333.6 433.9 333.9 434.2 334.1 434.8 334.4 434.7 334.7 434.0 334.9 434.0 335.2 433.5 335.4 433.7 335.7 434.2 335.9 434.2 336.2 434.1 336.4 434.4 336.7 433.6 337.0 433.9 337.2 434.2 337.5 434.2 337.7 434.3 338.0 434.0 338.2 433.7 338.5 433.9 338.7 433.3 339.0 433.0 339.3 434.0 339.5 433.6 339.8 433.7 340.0 432.8 340.3 433.4 340.5 433.2 340.8 433.0 341.0 432.3 341.3 433.0 341.6 433.4 341.8 433.0 342.1 432.5 342.3 432.4 342.6 432.5 342.8 430.6 343.1 431.1 343.3 430.7 343.6 429.6 343.8 428.7 344.1 426.8 344.4 424.6 344.6 422.3 344.9 420.0 345.1 416.9 345.4 414.9 345.6 413.5 345.9 413.2 345.9 412.4 346.1 413.5 346.4 414.6 346.7 417.6 346.9 419.8 347.2 422.8 347.4 424.0 347.7 426.3 347.9 428.0 348.2 429.8 348.4 430.7 348.7 430.5 349.0 431.3 349.2 432.3 349.5 432.1 349.7 431.9 350.0 433.1 350.2 433.1 350.5 433.3 350.7 432.9 351.0 433.6 351.3 433.2 351.5 433.7 351.8 433.0 352.0 433.0 352.3 433.5 352.5 433.2 352.8 433.8 353.0 433.6 353.3 433.2 353.6 433.6 353.8 433.5 354.1 434.0 354.3 433.4 354.6 433.4 354.8 434.1 355.1 434.6 355.3 434.5 355.6 433.7 355.9 433.8 356.1 434.3 356.4 433.6 356.6 433.3 356.9 433.7 357.1 433.9 357.4 433.3 357.6 432.9 357.9 433.0 358.2 433.9 358.4 433.4 358.7 433.6 358.9 433.7 359.2 433.9 359.4 433.5 359.7 433.8 359.9 433.2 360.2 433.4 360.5 433.1 360.7 434.0 361.0 433.6 361.2 433.2 361.5 433.4 361.7 433.4 362.0 433.8 362.2 432.8 362.5 433.0 362.8 433.3 363.0 434.4 363.3 433.8 363.5 433.3 363.8 433.6 364.0 434.2 364.3 433.3 364.5 433.1 364.8 433.8 365.0 433.5 365.3 433.5 365.6 433.0 365.8 433.9 366.1 433.8 366.3 433.3 366.6 433.3 366.8 432.2 367.1 433.2 367.3 432.9 367.6 433.1 367.9 433.2 368.1 432.7 368.4 432.2 368.6 432.9 368.9 432.4 369.1 432.5 369.4 432.4 369.6 432.4 369.9 431.6 370.2 433.0 370.4 432.5 370.7 432.8 370.9 433.1 371.2 432.1 371.4 431.3 371.7 431.6 371.9 431.4 372.2 431.6 372.5 431.7 372.7 430.8 373.0 431.7 373.2 430.8 373.5 431.3 373.7 431.0 374.0 430.8 374.2 430.8 374.5 430.3 374.8 430.1 375.0 429.4 375.3 429.8 375.5 430.5 375.8 430.2 376.0 429.7 376.3 429.0 376.5 428.1 376.8 428.6 377.1 427.6 377.3 427.2 377.6 426.5 377.8 426.2 378.1 425.2 378.3 424.7 378.6 423.3 378.8 422.8 379.1 422.8 379.4 420.6 379.6 418.9 379.9 417.3 380.1 415.1 380.4 411.1 380.6 407.6 380.9 403.0 381.1 395.9 381.4 387.3 381.7 377.5 381.9 363.3 382.2 348.2 382.4 330.0 382.7 310.2 382.9 286.0 383.2 263.1 383.4 241.6 383.7 223.3 384.0 211.0 384.2 206.1 384.2 204.9 384.5 210.8 384.7 222.6 385.0 241.3 385.2 264.5 385.5 286.7 385.7 308.1 386.0 329.2 386.2 346.5 386.5 362.7 386.8 375.9 387.0 386.4 387.3 395.0 387.5 400.8 387.8 405.1 388.0 409.2 388.3 411.9 388.5 413.6 388.8 415.2 389.1 415.1 389.3 413.5 389.6 411.8 389.8 405.7 390.1 395.7 390.3 380.4 390.6 361.8 390.8 341.1 391.1 325.1 391.4 318.5 391.4 318.7 391.6 326.4 391.9 341.9 392.1 364.1 392.4 383.9 392.6 399.6 392.9 410.1 393.1 418.3 393.4 421.7 393.7 423.4 393.9 424.2 394.2 425.5 394.4 425.8 394.7 425.6 394.9 426.0 395.2 425.7 395.4 426.3 395.7 425.8 395.7 426.2 396.0 426.9 396.2 428.0 396.5 427.2 396.7 427.8 397.0 428.2 397.2 429.5 397.5 429.0 397.7 429.8 398.0 430.3 398.3 430.2 398.5 430.5 398.8 431.0 399.0 430.5 399.3 430.9 399.5 431.5 399.8 431.8 400.0 431.7 400.3 431.2 400.6 431.7 400.8 432.3 401.1 432.4 401.3 432.1 401.6 431.8 401.8 432.5 402.1 432.0 402.3 431.7 402.6 432.0 402.9 432.9 403.1 432.4 403.4 432.8 403.6 432.2 403.9 432.8 404.1 432.1 404.4 432.4 404.6 433.4 404.9 432.8 405.2 432.3 405.4 432.4 405.7 432.5 405.9 432.9 406.2 432.3 406.4 431.7 406.7 432.4 406.9 432.4 407.2 432.5 407.4 432.9 407.7 432.5 408.0 432.7 408.2 431.9 408.5 432.6 408.7 433.2 409.0 432.5 409.2 432.3 409.5 432.3 409.7 432.9 410.0 431.6 410.3 432.0 410.5 432.2 410.8 432.4 411.0 431.8 411.3 432.0 411.5 431.6 411.8 431.8 412.0 431.6 412.3 431.1 412.6 431.5 412.8 431.8 413.1 431.0 413.3 431.2 413.6 431.4 413.8 430.5 414.1 431.1 414.3 430.3 414.6 431.1 414.9 431.5 415.1 431.1 415.4 430.0 415.6 430.2 415.9 429.8 416.1 429.5 416.4 430.0 416.6 428.4 416.9 429.1 417.2 428.4 417.4 428.5 417.7 427.6 417.9 427.0 418.2 426.7 418.4 426.4 418.7 425.5 418.9 424.9 419.2 423.6 419.5 422.4 419.7 422.5 420.0 421.2 420.2 419.5 420.5 417.7 420.7 415.9 421.0 412.6 421.2 409.4 421.5 404.9 421.8 399.9 422.0 391.3 422.3 384.0 422.5 372.4 422.8 360.0 423.0 346.0 423.3 328.8 423.5 309.9 423.8 290.6 424.1 271.2 424.3 253.7 424.6 236.8 424.8 226.9 425.1 223.6 425.1 222.9 425.3 227.2 425.6 237.4 425.8 251.9 426.1 270.0 426.4 289.4 426.6 308.7 426.9 325.5 427.1 342.4 427.4 356.9 427.6 368.5 427.9 379.1 428.1 387.3 428.4 393.9 428.6 400.0 428.9 402.5 428.9 403.5 429.2 406.9 429.4 410.7 429.7 413.3 429.9 413.9 430.2 416.1 430.4 418.6 430.7 420.4 430.9 421.8 431.2 422.5 431.5 423.8 431.7 424.9 432.0 425.2 432.2 426.5 432.5 425.9 432.7 427.8 433.0 427.4 433.2 428.8 433.5 428.5 433.8 428.5 434.0 429.3 434.3 429.2 434.5 429.4 434.8 429.5 435.0 430.2 435.3 430.7 435.5 430.9 435.8 430.8 436.1 431.4 436.3 431.1 436.6 431.1 436.8 431.6 437.1 432.0 437.3 431.4 437.6 431.6 437.8 431.7 438.1 432.0 438.4 431.6 438.6 432.6 438.9 431.9 439.1 432.4 439.4 431.9 439.6 432.4 439.9 432.5 440.1 432.3 440.4 433.4 440.7 432.7 440.9 433.4 441.2 433.0 441.4 432.4 441.7 432.6 441.9 433.0 442.2 432.8 442.4 432.9 442.7 432.8 443.0 432.1 443.2 432.9 443.5 432.0 443.7 433.1 444.0 432.8 444.2 432.8 444.5 433.0 444.7 433.2 445.0 432.5 445.3 432.4 445.5 432.8 445.8 432.3 446.0 432.7 446.3 433.9 446.5 432.8 446.8 433.5 447.0 432.7 447.3 433.5 447.6 433.1 447.8 433.3 448.1 433.5 448.3 434.0 448.6 433.3 448.8 433.3 449.1 432.9 449.3 433.5 449.6 433.2 449.8 433.6 450.1 433.2 450.4 434.0 450.6 432.3 450.9 433.1 451.1 433.6 451.4 433.0 451.6 432.8 451.9 432.9 452.1 432.4 452.4 432.9 452.7 433.8 452.9 433.2 453.2 432.2 453.4 432.1 453.7 432.2 453.9 432.3 454.2 431.2 454.4 430.6 454.7 430.4 455.0 428.6 455.2 425.5 455.5 421.2 455.7 415.8 456.0 409.0 456.2 400.4 456.5 392.9 456.7 385.8 457.0 381.8 457.1 381.9 457.3 382.3 457.5 385.3 457.8 393.3 458.0 401.9 458.3 409.1 458.5 415.9 458.8 421.8 459.0 425.0 459.3 429.1 459.6 429.1 459.8 430.7 460.1 431.7 460.3 432.0 460.6 432.5 460.8 432.8 461.1 432.7 461.3 433.4 461.6 432.2 461.9 433.1 462.1 432.9 462.4 433.4 462.6 433.4 462.9 433.0 463.1 433.2 463.4 433.8 463.6 433.6 463.9 433.2 464.2 434.4 464.4 434.5 464.7 433.0 464.9 433.8 465.2 434.7 465.4 433.9 465.7 433.7 465.9 433.6 466.2 433.5 466.5 433.6 466.7 433.4 467.0 434.0 467.2 433.4 467.5 433.4 467.7 433.0 468.0 433.5 468.2 433.1 468.5 433.2 468.7 433.6 469.0 433.2 469.3 433.0 469.5 432.8 469.8 432.5 470.0 432.0 470.3 431.7 470.5 431.8 470.8 430.9 471.0 431.7 471.2 431.2 471.3 430.9 471.6 431.1 471.8 431.3 472.1 431.9 472.3 431.8 472.6 432.9 472.8 432.3 473.1 431.9 473.3 432.8 473.6 432.5 473.9 433.4 474.1 434.0 474.4 433.9 474.6 433.2 474.9 433.4 475.1 434.5 475.4 434.0 475.6 433.9 475.9 434.3 476.2 434.9 476.4 434.5 476.7 434.0 476.9 434.1 477.2 434.2 477.4 433.7 477.7 433.5 477.9 434.0 478.2 433.6 478.5 433.9 478.7 434.1 479.0 435.0 479.2 433.6 479.5 433.9 479.7 434.0 480.0 434.2 480.2 434.4 480.5 433.8 480.8 433.6 481.0 433.3 481.3 433.6 481.5 434.2 481.8 434.0 482.0 433.6 482.3 433.9 482.5 434.0 482.8 434.2 483.1 433.8 483.3 433.9 483.6 433.2 483.8 433.5 484.1 434.7 484.3 433.1 484.6 433.9 484.8 434.1 485.1 433.8 485.4 433.6 485.6 434.0 485.9 434.0 486.1 433.9 486.4 433.2 486.6 433.9 486.9 433.6 487.1 433.7 487.4 434.0 487.7 434.2 487.9 434.3 488.2 433.7 488.4 434.2 488.7 434.3 488.9 434.2 489.2 434.3 489.4 433.6 489.7 433.6 489.9 433.8 490.2 432.7 490.5 433.2 490.7 432.4 491.0 431.8 491.2 430.2 491.5 429.0 491.7 427.4 492.0 425.3 492.2 422.5 492.5 419.5 492.8 417.5 493.0 416.4 493.0 416.9 493.3 417.6 493.5 419.6 493.8 423.0 494.0 424.9 494.3 426.7 494.5 429.0 494.8 430.3 495.1 431.5 495.3 433.2 495.6 433.2 495.8 432.7 496.1 433.8 496.3 434.2 496.6 433.5 496.8 433.5 497.1 433.6 497.4 433.9 497.6 434.1 497.9 434.4 498.1 434.4 498.4 434.4 498.6 434.5 498.9 434.2 499.1 433.3 499.4 433.9 499.7 434.1 499.9 433.9 500.2 434.4 500.4 433.9 500.7 433.6 500.9 434.7 501.2 434.3 501.4 434.2 501.7 434.5 502.0 434.5 502.2 434.2 502.5 433.0 502.7 433.8 503.0 433.9 503.2 433.7 503.5 434.1 503.7 434.6 504.0 433.9 504.3 433.6 504.5 434.9 504.8 433.9 505.0 433.6 505.3 434.2 505.5 434.3 505.8 433.8 506.0 434.4 506.3 433.9 506.6 433.7 506.8 434.1 507.1 434.4 507.3 433.8 507.6 434.2 507.8 434.1 508.1 435.3 508.3 433.7 508.6 434.7 508.9 434.1 509.1 434.0 509.4 434.4 509.6 434.4 509.9 434.6 510.1 434.2 510.4 433.8 510.6 433.8 510.9 434.3 511.1 434.3 511.4 434.6 511.7 434.2 511.9 434.5 512.2 434.7 512.4 434.1 512.7 433.4 512.9 433.5 513.2 433.5 513.4 434.7 513.7 433.7 514.0 434.5 514.2 434.2 514.5 434.7 514.7 434.4 515.0 433.9 515.2 433.9 515.5 434.0 515.7 434.0 516.0 433.7 516.3 433.9 516.5 434.5 516.8 433.1 517.0 433.9 517.3 433.4 517.5 433.8 517.8 434.0 518.0 433.6 518.3 433.8 518.6 432.7 518.8 433.7 519.1 432.8 519.3 433.1 519.6 432.6 519.8 431.2 520.1 431.6 520.3 431.5 520.6 431.8 520.9 431.0 521.1 430.7 521.4 429.7 521.6 430.8 521.9 430.9 521.9 430.1 522.1 430.2 522.4 429.8 522.6 431.0 522.9 432.0 523.2 431.6 523.4 432.1 523.7 432.1 523.9 431.8 524.2 433.1 524.4 432.3 524.7 432.9 524.9 433.3 525.2 433.7 525.5 433.6 525.7 433.7 526.0 433.3 526.2 433.1 526.5 433.8 526.7 433.4 527.0 433.2 527.2 433.3 527.5 433.6 527.8 433.1 528.0 433.3 528.3 433.2 528.5 434.0 528.8 434.1 529.0 434.7 529.3 433.3 529.5 433.6 529.8 434.3 530.1 433.8 530.3 433.7 530.6 434.6 530.8 433.8 531.1 433.4 531.3 433.4 531.6 434.1 531.8 434.0 532.1 433.3 532.3 433.5 532.6 434.1 532.9 434.1 533.1 433.7 533.4 434.2 533.6 434.1 533.9 433.1 534.1 433.7 534.4 434.0 534.6 433.6 534.9 433.0 535.2 433.7 535.4 434.2 535.7 434.5 535.9 432.9 536.2 434.9 536.4 433.3 536.7 434.2 536.9 434.3 537.2 434.2 537.5 433.8 537.7 433.3 538.0 434.0 538.2 433.4 538.5 432.7 538.7 434.9 539.0 434.0 539.2 434.4 539.5 433.3 539.8 434.2 540.0 434.3 540.3 434.2 540.5 433.6 540.8 433.0 541.0 433.4 541.3 432.6 541.5 432.8 541.8 433.5 542.1 433.0 542.3 433.3 542.6 433.3 542.8 434.1 543.1 433.8 543.3 433.2 543.6 433.7 543.8 432.9 544.1 432.9 544.4 433.5 544.6 432.5 544.9 432.7 545.1 432.2 545.4 432.9 545.6 433.4 545.9 432.3 546.1 432.6 546.4 432.0 546.7 431.9 546.9 431.6 547.2 432.7 547.4 432.8 547.7 431.7 547.9 431.2 548.2 431.5 548.4 430.8 548.7 431.0 549.0 430.3 549.2 429.9 549.5 429.3 549.7 428.0 550.0 427.3 550.2 425.4 550.5 424.7 550.7 422.4 551.0 420.7 551.3 417.8 551.5 415.2 551.8 411.7 552.0 407.1 552.3 402.9 552.5 398.4 552.8 394.2 553.0 390.3 553.3 386.1 553.5 382.5 553.8 381.7 553.9 380.2 554.1 382.0 554.3 382.3 554.6 384.6 554.8 391.0 555.1 394.8 555.3 398.0 555.6 403.3 555.8 407.7 556.1 411.6 556.4 414.6 556.6 417.9 556.9 421.0 557.1 423.0 557.4 425.2 557.6 426.2 557.9 428.4 558.1 428.1 558.4 429.2 558.7 428.9 558.9 429.7 559.2 431.2 559.4 430.4 559.7 431.4 559.9 431.4 560.2 431.2 560.4 431.7 560.7 431.8 561.0 431.9 561.2 432.6 561.5 432.7 561.7 432.2 562.0 432.2 562.2 432.8 562.5 432.8 562.7 433.3 563.0 434.0 563.3 433.3 563.5 433.0 563.8 433.0 564.0 432.8 564.3 432.8 564.5 432.8 564.8 433.1 565.0 433.1 565.3 433.7 565.6 433.2 565.8 433.4 566.1 432.9 566.3 434.2 566.6 433.7 566.8 434.3 567.1 433.9 567.3 434.2 567.6 433.5 567.9 433.9 568.1 434.8 568.4 433.2 568.6 434.2 568.9 434.4 569.1 433.9 569.4 434.0 569.6 434.2 569.9 433.4 570.2 433.9 570.4 433.4 570.7 433.5 570.9 433.5 571.2 433.7 571.4 433.9 571.7 434.0 571.9 433.2 572.2 434.7 572.5 434.3 572.7 434.1 573.0 433.7 573.2 433.8 573.5 434.1 573.7 434.0 574.0 433.1 574.2 434.2 574.5 435.1 574.7 433.1 575.0 434.3 575.3 434.0 575.5 433.8 575.8 434.4 576.0 433.4 576.3 433.9 576.5 434.5 576.8 433.8 577.0 433.7 577.3 433.9 577.6 433.7 577.8 434.5 578.1 433.5 578.3 434.2 578.6 433.3 578.8 434.1 579.1 433.8 579.3 432.7 579.6 433.8 579.9 433.4 580.1 433.6 580.4 434.5 580.6 433.3 580.9 433.3 581.1 434.4 581.4 433.8 581.6 434.4 581.9 433.8 582.2 433.2 582.4 433.6 582.7 434.1 582.9 433.9 583.2 433.5 583.4 433.4 583.7 433.2 583.9 432.9 584.2 433.8 584.5 432.9 584.7 432.3 585.0 432.4 585.2 432.9 585.5 432.6 585.7 432.2 586.0 431.7 586.2 432.0 586.5 431.2 586.8 431.2 587.0 432.1 587.0 431.5 587.3 432.0 587.5 432.3 587.8 432.1 588.0 432.0 588.3 433.1 588.5 432.6 588.8 432.3 589.1 433.0 589.3 432.9 589.6 432.6 589.8 433.1 590.1 433.1 590.3 432.4 590.6 433.3 590.8 433.3 591.1 433.3 591.4 432.9 591.6 433.4 591.9 433.6 592.1 433.7 592.4 433.2 592.6 434.0 592.9 433.2 593.1 433.7 593.4 434.4 593.7 433.5 593.9 433.6 594.2 434.3 594.4 433.7 594.7 433.7 594.9 433.9 595.2 434.3 595.4 432.9 595.7 433.5 595.9 433.4 596.2 433.4 596.5 433.5 596.7 433.5 597.0 434.0 597.2 433.5 597.5 433.9 597.7 434.0 598.0 433.5 598.2 433.9 598.5 434.5 598.8 433.9 599.0 433.5 599.3 433.8 599.5 433.5 599.8 434.0 600.0 434.2 600.3 433.5 600.5 433.7 600.8 434.3 601.1 433.6 601.3 433.9 601.6 433.3 601.8 433.4 602.1 433.5 602.3 434.6 602.6 433.5 602.8 433.5 603.1 433.5 603.4 433.6 603.6 434.0 603.9 433.7 604.1 434.5 604.4 433.7 604.6 434.2 604.9 433.7 605.1 433.8 605.4 432.9 605.7 433.4 605.9 433.3 606.2 433.3 606.4 432.5 606.7 433.7 606.9 433.1 607.2 433.0 607.4 433.0 607.7 433.0 608.0 433.1 608.2 432.3 608.5 432.3 608.7 432.8 609.0 432.5 609.2 432.1 609.5 431.7 609.7 431.2 610.0 431.2 610.3 431.4 610.5 429.9 610.8 430.4 611.0 429.3 611.3 428.2 611.5 427.8 611.8 425.9 612.0 424.9 612.3 424.2 612.6 423.4 612.8 422.7 613.1 421.7 613.3 421.2 613.6 419.9 613.8 420.7 613.8 419.8 614.1 420.3 614.3 420.8 614.6 421.2 614.9 421.9 615.1 423.0 615.4 424.4 615.6 425.2 615.9 426.4 616.1 426.5 616.4 427.5 616.6 428.0 616.9 429.3 617.1 428.8 617.4 430.5 617.7 430.2 617.9 430.3 618.2 430.9 618.4 431.5 618.7 431.2 618.9 431.5 619.2 431.1 619.4 431.7 619.7 431.3 620.0 430.5 620.2 430.9 620.5 430.0 620.7 429.5 621.0 428.3 621.2 427.3 621.5 425.9 621.7 421.7 622.0 417.2 622.3 409.1 622.5 397.6 622.8 381.4 623.0 363.5 623.3 343.0 623.5 322.9 623.8 308.7 624.0 302.8 624.0 303.2 624.3 308.5 624.6 323.8 624.8 341.8 625.1 363.9 625.3 382.3 625.6 398.0 625.8 409.0 626.1 417.2 626.3 423.7 626.6 425.5 626.9 427.6 627.1 429.2 627.4 429.5 627.6 431.1 627.9 431.7 628.1 431.0 628.4 430.9 628.6 432.3 628.9 432.6 629.2 432.6 629.4 432.9 629.7 432.2 629.9 432.6 630.2 432.2 630.4 432.2 630.7 433.3 630.9 432.7 631.2 434.1 631.5 433.2 631.7 433.0 632.0 433.5 632.2 434.1 632.5 433.5 632.7 432.8 633.0 433.6 633.2 434.0 633.5 433.3 633.8 433.2 634.0 433.9 634.3 433.6 634.5 433.1 634.8 433.4 635.0 433.3 635.3 433.8 635.5 433.6 635.8 434.1 636.1 433.9 636.3 433.0 636.6 433.8 636.8 434.1 637.1 433.9 637.3 434.1 637.6 433.5 637.8 433.3 638.1 434.1 638.3 433.3 638.6 432.9 638.9 434.2 639.1 433.4 639.4 433.6 639.6 433.2 639.9 433.2 640.1 433.3 640.4 433.6 640.6 433.9 640.9 432.7 641.2 434.0 641.4 433.2 641.7 433.3 641.9 434.0 642.2 433.7 642.4 433.1 642.7 434.5 642.9 433.4 643.2 433.8 643.5 433.8 643.7 434.4 644.0 433.5 644.2 434.2 644.5 433.4 644.7 434.2 645.0 433.4 645.2 433.5 645.5 434.5 645.8 433.8 646.0 433.7 646.3 434.6 646.5 433.8 646.8 433.2 647.0 433.9 647.3 433.0 647.5 434.0 647.8 433.9 648.1 433.2 648.3 433.1 648.6 433.4 648.8 433.2 649.1 432.8 649.3 433.3 649.6 432.2 649.8 432.6 650.1 432.4 650.4 432.3 650.6 432.1 650.9 430.8 651.1 430.6 651.4 428.7 651.6 425.7 651.9 421.7 652.1 416.6 652.4 411.4 652.7 404.3 652.9 398.3 653.2 394.2 653.4 392.2 653.4 392.8 653.7 393.5 653.9 397.6 654.2 404.9 654.4 411.1 654.7 417.5 655.0 422.3 655.2 426.5 655.5 429.1 655.7 430.5 656.0 431.5 656.2 432.0 656.5 432.5 656.7 432.7 657.0 433.1 657.2 432.7 657.5 433.7 657.8 433.0 658.0 433.6 658.3 433.2 658.5 433.1 658.8 434.1 659.0 433.2 659.3 432.9 659.5 433.1 659.8 433.2 660.1 434.3 660.3 433.5 660.6 433.8 660.8 433.0 661.1 433.5 661.3 433.8 661.6 434.2 661.8 433.2 662.1 433.7 662.4 433.6 662.6 433.0 662.9 433.4 663.1 433.3 663.4 432.4 663.6 433.6 663.9 433.6 664.1 433.2 664.4 432.7 664.7 433.9 664.9 433.4 665.2 433.6 665.4 433.8 665.7 432.9 665.9 433.5 666.2 432.9 666.4 432.9 666.7 432.9 667.0 432.9 667.2 433.3 667.5 432.8 667.7 432.6 668.0 432.4 668.2 432.6 668.5 431.9 668.7 431.9 669.0 431.9 669.3 431.4 669.5 431.3 669.8 430.8 670.0 431.3 670.3 430.5 670.5 429.6 670.8 428.6 671.0 428.7 671.3 426.7 671.6 425.6 671.8 424.5 672.1 422.9 672.3 421.7 672.6 419.6 672.8 418.7 673.1 415.8 673.3 414.8 673.6 412.7 673.9 412.6 674.1 411.2 674.4 410.5 674.4 411.1 674.6 411.8 674.9 411.2 675.1 413.0 675.4 413.8 675.6 416.2 675.9 417.7 676.2 419.4 676.4 421.0 676.7 422.7 676.9 423.9 677.2 426.0 677.4 427.4 677.7 426.9 677.9 428.7 678.2 429.3 678.4 430.3 678.7 430.3 679.0 430.9 679.2 431.0 679.5 432.0 679.7 432.0 680.0 432.1 680.2 432.3 680.5 432.3 680.7 432.0 681.0 432.9 681.3 432.9 681.5 432.8 681.8 433.4 682.0 433.6 682.3 432.5 682.5 432.8 682.8 433.8 683.0 433.7 683.3 432.9 683.6 432.8 683.8 433.1 684.1 433.1 684.3 432.6 684.6 433.4 684.8 432.9 685.1 432.9 685.3 433.8 685.6 433.3 685.9 433.5 686.1 433.8 686.4 433.9 686.6 433.4 686.9 433.6 687.1 433.2 687.4 434.3 687.6 433.9 687.9 433.1 688.2 433.6 688.4 433.9 688.7 433.8 688.9 434.4 689.2 434.3 689.4 433.4 689.7 433.6 689.9 433.2 690.2 433.8 690.5 433.8 690.7 434.8 691.0 433.7 691.2 432.8 691.5 433.4 691.7 433.8 692.0 433.2 692.2 433.3 692.5 433.6 692.8 433.8 693.0 433.7 693.3 433.4 693.5 434.0 693.8 433.5 694.0 433.5 694.3 433.1 694.5 433.4 694.8 434.0 695.1 433.0 695.3 433.7 695.6 434.0 695.8 433.6 696.1 433.8 696.3 433.2 696.6 434.3 696.8 434.2 697.1 433.8 697.4 432.9 697.6 433.3 697.9 434.1 698.1 434.4 698.4 433.8 698.6 434.2 698.9 433.4 699.1 433.6 699.4 433.6 699.6 433.9 699.9 433.0 700.2 434.0 700.4 434.2 700.7 433.1 700.9 433.0 701.2 433.7 701.4 433.3 701.7 432.5 701.9 433.9 702.2 433.6 702.5 433.3 702.7 434.4 703.0 433.5 703.2 433.2 703.5 433.5 703.7 433.0 704.0 433.1 704.2 433.6 704.5 433.2 704.8 433.2 705.0 434.0 705.3 433.6 705.5 433.6 705.8 433.5 706.0 433.4 706.3 433.7 706.5 433.0 706.8 433.9 707.1 432.7 707.3 432.9 707.6 432.3 707.8 432.7 708.1 433.0 708.3 433.3 708.6 432.4 708.8 432.5 709.1 432.3 709.4 432.0 709.6 431.8 709.9 432.1 710.1 431.2 710.4 431.7 710.6 431.6 710.9 431.1 711.1 430.6 711.4 430.1 711.7 431.2 711.9 429.3 712.2 429.9 712.4 428.7 712.7 427.5 712.9 426.0 713.2 425.5 713.4 424.4 713.7 421.5 714.0 419.8 714.2 417.9 714.5 415.1 714.7 413.2 715.0 409.3 715.2 406.8 715.5 403.3 715.7 402.1 716.0 398.9 716.3 397.0 716.5 397.3 716.5 397.3 716.8 398.6 717.0 399.4 717.3 401.1 717.5 403.8 717.8 407.0 718.0 409.3 718.3 412.7 718.6 415.0 718.8 417.1 719.1 419.9 719.3 421.7 719.6 423.3 719.8 425.7 720.1 426.0 720.3 428.2 720.6 428.9 720.8 429.1 721.1 429.4 721.4 430.2 721.6 430.9 721.9 431.2 722.1 431.4 722.4 431.9 722.6 431.5 722.9 432.0 723.1 431.4 723.4 432.4 723.7 432.3 723.9 432.1 724.2 432.9 724.4 432.9 724.7 431.4 724.9 432.7 725.2 432.0 725.4 433.2 725.7 433.8 726.0 432.6 726.2 432.9 726.5 432.7 726.7 433.1 727.0 433.2 727.2 433.4 727.5 432.5 727.7 433.5 728.0 432.4 728.3 432.9 728.5 433.1 728.8 432.8 729.0 431.7 729.3 431.3 729.5 430.6 729.8 429.5 730.0 428.3 730.3 425.1 730.6 423.0 730.8 420.6 731.1 418.0 731.3 416.7 731.4 417.1 731.6 416.6 731.8 418.2 732.1 420.6 732.3 423.8 732.6 424.9 732.9 428.4 733.1 429.7 733.4 430.9 733.6 431.4 733.9 431.7 734.1 432.6 734.4 432.6 734.6 433.3 734.9 432.6 735.2 433.9 735.4 433.4 735.7 433.2 735.9 433.1 736.2 433.1 736.4 432.9 736.7 433.2 736.9 433.5 737.2 433.4 737.5 432.9 737.7 433.4 738.0 433.2 738.2 433.6 738.5 434.3 738.7 433.8 739.0 433.5 739.2 432.9 739.5 433.0 739.8 432.9 740.0 433.9 740.3 433.3 740.5 433.6 740.8 433.4 741.0 433.6 741.3 434.2 741.5 433.3 741.8 433.4 742.0 433.2 742.3 433.9 742.6 433.1 742.8 433.1 743.1 433.0 743.3 432.9 743.6 433.7 743.8 434.5 744.1 433.0 744.3 433.8 744.6 433.4 744.9 432.8 745.1 433.1 745.4 433.0 745.6 432.6 745.9 433.4 746.1 431.3 746.4 431.4 746.6 430.3 746.9 428.4 747.2 426.7 747.4 425.0 747.7 422.7 747.9 421.3 748.2 420.8 748.2 419.7 748.4 421.7 748.7 423.4 748.9 425.0 749.2 427.0 749.5 427.9 749.7 430.0 750.0 430.9 750.2 431.7 750.5 432.9 750.7 432.4 751.0 432.9 751.2 432.3 751.5 433.2 751.8 433.2 752.0 433.0 752.3 433.1 752.5 434.1 752.8 432.9 753.0 433.0 753.3 433.1 753.5 433.9 753.8 434.3 754.1 433.5 754.3 433.1 754.6 433.2 754.8 433.8 755.1 433.0 755.3 434.0 755.6 433.9 755.8 433.4 756.1 433.6 756.4 433.6 756.6 434.0 756.9 432.8 757.1 433.7 757.4 433.1 757.6 432.9 757.9 433.3 758.1 433.2 758.4 432.8 758.7 432.5 758.9 432.8 759.2 433.7 759.4 433.9 759.7 433.3 759.9 433.5 760.2 432.8 760.4 433.0 760.7 433.0 761.0 432.5 761.2 432.4 761.5 432.8 761.7 432.6 762.0 432.2 762.2 432.8 762.5 432.5 762.7 432.8 763.0 432.3 763.2 432.1 763.5 432.2 763.8 431.9 764.0 431.6 764.3 431.6 764.5 431.8 764.8 431.5 765.0 431.5 765.3 429.9 765.5 430.2 765.8 429.7 766.1 429.5 766.3 428.7 766.6 428.0 766.8 427.8 767.1 426.7 767.3 425.6 767.6 425.6 767.8 424.4 768.1 422.9 768.4 422.2 768.6 420.5 768.9 420.1 769.1 418.7 769.4 417.4 769.6 416.8 769.9 416.0 770.1 416.1 770.1 416.2 770.4 415.6 770.7 415.7 770.9 414.6 771.2 416.6 771.4 415.9 771.7 417.5 771.9 418.0 772.2 418.0 772.4 417.7 772.7 417.5 773.0 417.4 773.2 416.6 773.5 415.9 773.7 415.0 774.0 414.8 774.2 413.0 774.5 412.1 774.7 410.5 775.0 408.9 775.3 407.2 775.5 406.4 775.8 405.7 776.0 405.0 776.3 404.4 776.3 404.3 776.5 406.1 776.8 405.8 777.0 406.9 777.3 409.2 777.6 410.7 777.8 412.5 778.1 413.8 778.3 416.9 778.6 417.3 778.8 419.5 779.1 420.9 779.3 421.9 779.6 423.1 779.9 424.9 780.1 426.1 780.4 426.7 780.6 427.0 780.9 427.7 781.1 428.9 781.4 428.9 781.6 430.3 781.9 430.6 782.2 431.9 782.4 431.1 782.7 430.8 782.9 430.8 783.2 430.0 783.4 431.3 783.7 431.6 783.9 432.1 784.2 432.1 784.4 432.1 784.7 432.0 785.0 432.3 785.2 432.7 785.5 431.7 785.7 432.0 786.0 431.6 786.2 433.0 786.5 432.8 786.7 432.6 787.0 431.8 787.3 432.3 787.5 432.2 787.8 432.4 788.0 432.2 788.3 432.6 788.5 432.2 788.8 432.7 789.0 432.4 789.3 432.2 789.6 432.2 789.8 432.1 790.1 432.6 790.3 432.0 790.6 432.3 790.8 431.9 791.1 431.4 791.3 432.3 791.6 431.5 791.9 432.1 792.1 431.8 792.4 430.9 792.6 431.0 792.9 431.0 793.1 430.7 793.4 430.4 793.6 430.9 793.9 430.2 794.2 430.0 794.4 429.3 794.7 429.1 794.9 428.2 795.2 427.7 795.4 427.1 795.7 426.1 795.9 424.8 796.2 423.4 796.5 422.6 796.7 421.1 797.0 419.7 797.2 417.8 797.5 416.6 797.7 415.5 798.0 412.8 798.2 411.5 798.5 409.7 798.8 406.9 799.0 407.1 799.3 405.6 799.5 406.0 799.6 405.5 799.8 405.3 800.0 406.1 800.3 407.0 800.5 408.0 800.8 409.5 801.1 410.5 801.3 412.7 801.6 415.0 801.8 417.3 802.1 418.5 802.3 419.9 802.6 421.3 802.8 422.9 803.1 424.5 803.4 425.4 803.6 425.8 803.9 427.1 804.1 427.8 804.4 428.4 804.6 429.0 804.9 429.1 805.1 428.9 805.4 430.0 805.6 429.7 805.9 430.7 806.2 431.0 806.4 430.4 806.7 431.5 806.9 431.8 807.2 431.5 807.4 432.3 807.7 432.4 807.9 431.0 808.2 432.0 808.5 431.8 808.7 431.6 809.0 431.6 809.2 430.7 809.5 430.3 809.7 429.1 810.0 427.8 810.2 425.8 810.5 421.9 810.8 417.7 811.0 413.0 811.3 407.0 811.5 401.5 811.8 396.1 812.0 395.5 812.0 395.0 812.3 397.3 812.5 401.1 812.8 407.6 813.1 413.0 813.3 418.5 813.6 422.8 813.8 426.5 814.1 428.3 814.3 430.6 814.6 431.1 814.8 431.6 815.1 431.9 815.4 432.3 815.6 432.6 815.9 432.8 816.1 432.5 816.4 432.8 816.6 432.6 816.9 433.0 817.1 432.6 817.4 431.7 817.7 433.1 817.9 432.5 818.2 431.8 818.4 431.9 818.7 431.1 818.9 431.5 819.2 429.6 819.4 426.9 819.7 425.3 820.0 421.8 820.2 419.4 820.5 414.8 820.7 412.2 821.0 412.4 821.0 412.0 821.2 413.1 821.5 414.8 821.7 418.9 822.0 422.9 822.3 424.4 822.5 428.0 822.8 429.3 823.0 431.8 823.3 431.9 823.5 432.2 823.8 433.1 824.0 433.0 824.3 432.7 824.5 433.4 824.8 432.9 825.1 432.5 825.3 434.1 825.6 433.2 825.8 433.1 826.1 433.5 826.3 432.8 826.6 432.8 826.8 433.2 827.1 433.2 827.4 433.5 827.6 433.9 827.9 433.3 828.1 433.7 828.4 433.8 828.6 433.1 828.9 433.6 829.1 433.1 829.4 434.0 829.7 433.8 829.9 433.6 830.2 433.0 830.4 433.6 830.7 433.3 830.9 433.9 831.2 433.6 831.4 433.3 831.7 434.0 832.0 434.0 832.2 433.4 832.5 434.1 832.7 433.6 833.0 433.5 833.2 433.7 833.5 433.3 833.7 433.4 834.0 433.6 834.3 434.3 834.5 434.3 834.8 433.5 835.0 434.3 835.3 433.6 835.5 433.8 835.8 434.0 836.0 433.8 836.3 434.7 836.6 433.7 836.8 433.2 837.1 434.2 837.3 433.5 837.6 433.5 837.8 432.4 838.1 434.0 838.3 434.0 838.6 433.9 838.9 434.0 839.1 434.3 839.4 433.6 839.6 434.0 839.9 433.3 840.1 433.5 840.4 434.0 840.6 433.7 840.9 433.0 841.2 433.7 841.4 433.5 841.7 433.2 841.9 433.7 842.2 433.4 842.4 432.9 842.7 433.1 842.9 434.2 843.2 432.9 843.5 433.6 843.7 433.7 844.0 433.7 844.2 432.9 844.5 433.3 844.7 433.5 845.0 433.6 845.2 433.1 845.5 432.8 845.7 433.7 846.0 433.7 846.3 433.4 846.5 433.0 846.8 433.3 847.0 433.2 847.3 433.4 847.5 432.4 847.8 433.0 848.0 432.7 848.3 432.3 848.6 432.7 848.8 432.5 849.1 432.1 849.3 432.3 849.6 431.4 849.8 431.7 850.1 431.6 850.3 431.3 850.6 431.1 850.9 429.9 851.1 429.2 851.4 429.5 851.6 429.0 851.9 429.1 852.1 427.8 852.4 426.4 852.6 426.4 852.9 425.1 853.2 424.1 853.4 425.1 853.7 423.6 853.9 423.3 854.2 422.9 854.4 423.3 854.6 422.6 854.7 423.0 854.9 422.3 855.2 422.3 855.5 423.8 855.7 424.7 856.0 424.8 856.2 425.4 856.5 426.1 856.7 426.6 857.0 428.0 857.2 428.4 857.5 428.9 857.8 429.4 858.0 430.1 858.3 430.5 858.5 431.0 858.8 430.6 859.0 431.7 859.3 432.6 859.5 431.7 859.8 432.0 860.1 432.6 860.3 432.8 860.6 432.7 860.8 432.0 861.1 432.8 861.3 432.3 861.6 432.5 861.8 433.1 862.1 432.8 862.4 433.3 862.6 434.3 862.9 433.3 863.1 433.3 863.4 432.6 863.6 432.7 863.9 432.6 864.1 432.7 864.4 432.5 864.7 432.6 864.9 432.8 865.2 432.4 865.4 432.2 865.7 432.1 865.9 432.8 866.2 432.5 866.4 432.9 866.7 432.8 866.9 432.1 867.2 432.3 867.5 431.3 867.7 432.6 868.0 432.0 868.2 431.3 868.5 430.8 868.7 431.4 869.0 430.3 869.2 430.9 869.2 431.5 869.5 431.2 869.8 431.2 870.0 431.8 870.3 431.0 870.5 431.8 870.8 431.5 871.0 431.6 871.3 432.2 871.5 431.7 871.8 433.1 872.1 432.2 872.3 433.4 872.6 432.2 872.8 433.0 873.1 432.3 873.3 432.4 873.6 433.1 873.8 433.3 874.1 432.6 874.4 433.6 874.6 432.8 874.9 433.2 875.1 433.3 875.4 433.4 875.6 432.4 875.9 433.8 876.1 433.3 876.4 432.9 876.7 432.7 876.9 432.4 877.2 432.5 877.4 433.4 877.7 433.0 877.9 432.6 878.2 432.8 878.4 433.6 878.7 432.9 879.0 432.7 879.2 433.5 879.5 433.0 879.7 432.9 880.0 432.5 880.2 432.0 880.5 432.1 880.7 432.3 881.0 432.4 881.3 432.5 881.5 432.4 881.8 432.2 882.0 432.1 882.3 431.4 882.5 430.6 882.8 431.2 883.0 430.9 883.3 430.6 883.6 430.5 883.8 430.0 884.1 429.6 884.3 429.7 884.6 429.5 884.8 428.7 885.1 428.9 885.3 428.0 885.6 427.3 885.9 427.3 886.1 427.5 886.4 425.7 886.6 426.2 886.9 425.7 887.1 425.1 887.4 423.9 887.6 424.2 887.9 423.3 888.1 422.5 888.4 422.4 888.7 422.3 888.9 421.7 889.2 421.6 889.4 422.2 889.4 421.3 889.7 421.3 889.9 422.0 890.2 422.4 890.4 422.8 890.7 422.2 891.0 423.5 891.2 423.7 891.5 424.9 891.7 424.1 892.0 425.1 892.2 425.4 892.5 425.6 892.7 426.3 893.0 427.7 893.3 427.5 893.5 427.8 893.8 429.0 894.0 429.4 894.3 429.9 894.5 429.6 894.8 430.1 895.0 430.9 895.3 430.5 895.6 430.7 895.8 431.6 896.1 432.2 896.3 431.2 896.6 430.7 896.8 431.4 897.1 431.7 897.3 432.2 897.6 432.7 897.9 432.5 898.1 432.3 898.4 432.7 898.6 432.3 898.9 432.7 899.1 432.5 899.4 434.0 899.6 433.3 899.9 432.6 900.2 432.5 900.4 432.9 900.7 432.3 900.9 432.7 901.2 432.8 901.4 433.5 901.7 432.9 901.9 432.7 902.2 432.6 902.5 432.6 902.7 433.1 903.0 433.0 903.2 433.5 903.5 432.7 903.7 433.5 904.0 433.0 904.2 432.8 904.5 431.9 904.8 432.1 905.0 432.8 905.3 432.9 905.5 432.2 905.8 432.2 906.0 431.4 906.3 431.2 906.5 430.7 906.8 431.2 907.1 430.8 907.3 430.6 907.6 430.3 907.6 430.7 907.8 430.7 908.1 430.4 908.3 431.6 908.6 431.3 908.8 431.4 909.1 432.3 909.3 432.4 909.6 432.2 909.9 432.7 910.1 432.2 910.4 432.6 910.6 432.0 910.9 433.6 911.1 432.4 911.4 433.6 911.6 433.0 911.9 432.9 912.2 433.3 912.4 433.6 912.7 433.7 912.9 434.3 913.2 433.7 913.4 433.9 913.7 433.3 913.9 433.9 914.2 433.6 914.5 433.4 914.7 433.6 915.0 433.6 915.2 433.7 915.5 433.8 915.7 433.4 916.0 433.4 916.2 434.0 916.5 433.0 916.8 433.4 917.0 434.3 917.3 432.5 917.5 433.4 917.8 434.0 918.0 433.0 918.3 434.8 918.5 432.6 918.8 434.3 919.1 434.4 919.3 434.1 919.6 433.6 919.8 433.9 920.1 433.4 920.3 434.1 920.6 433.3 920.8 433.6 921.1 434.2 921.4 433.3 921.6 433.6 921.9 433.8 922.1 433.2 922.4 434.2 922.6 433.9 922.9 433.1 923.1 433.7 923.4 433.4 923.7 433.5 923.9 433.8 924.2 433.5 924.4 434.2 924.7 433.5 924.9 434.2 925.2 433.7 925.4 434.1 925.7 433.6 926.0 433.6 926.2 433.3 926.5 434.0 926.7 434.2 927.0 434.7 927.2 434.3 927.5 433.9 927.7 433.7 928.0 433.9 928.3 433.8 928.5 434.4 928.8 434.2 929.0 433.4 929.3 433.5 929.5 434.4 929.8 433.9 930.0 433.7 930.3 434.3 930.5 433.6 930.8 433.7 931.1 433.6 931.3 433.0 931.6 434.1 931.8 433.3 932.1 433.6 932.3 433.5 932.6 434.1 932.8 433.8 933.1 433.8 933.4 433.1 933.6 433.7 933.9 433.2 934.1 433.9 934.4 434.0 934.6 433.8 934.9 434.6 935.1 434.0 935.4 434.0 935.7 433.8 935.9 433.7 936.2 434.2 936.4 434.2 936.7 433.2 936.9 434.2 937.2 434.0 937.4 434.2 937.7 434.0 938.0 433.3 938.2 433.3 938.5 434.6 938.7 433.9 939.0 433.2 939.2 433.9 939.5 433.6 939.7 433.0 940.0 432.8 940.3 433.1 940.5 433.9 940.8 433.7 941.0 433.6 941.3 433.9 941.5 434.0 941.8 432.9 942.0 433.6 942.3 433.4 942.6 433.2 942.8 433.5 943.1 433.7 943.3 433.6 943.6 433.1 943.8 433.5 944.1 434.6 944.3 433.2 944.6 433.0 944.9 433.8 945.1 433.9 945.4 433.9 945.6 433.2 945.9 434.0 946.1 433.3 946.4 433.2 946.6 433.3 946.9 433.6 947.2 433.9 947.4 433.8 947.7 433.5 947.9 433.9 948.2 433.5 948.4 433.8 948.7 432.8 948.9 432.6 949.2 433.5 949.5 432.5 949.7 432.8 950.0 432.9 950.2 432.6 950.5 432.4 950.7 433.1 951.0 431.2 951.2 432.5 951.5 432.9 951.7 431.8 952.0 431.5 952.3 431.6 952.5 432.0 952.8 430.5 953.0 430.9 953.3 430.7 953.5 431.1 953.5 430.9 953.8 431.1 954.0 430.7 954.3 431.0 954.6 430.9 954.8 431.1 955.1 431.4 955.3 431.7 955.6 431.4 955.8 432.8 956.1 432.3 956.3 431.9 956.6 433.1 956.9 432.4 957.1 433.1 957.4 433.0 957.6 433.2 957.9 433.2 958.1 433.0 958.4 433.3 958.6 434.3 958.9 432.5 959.2 433.5 959.4 433.7 959.7 433.0 959.9 433.0 960.2 434.4 960.4 433.4 960.7 434.4 960.9 433.8 961.2 433.6 961.5 433.8 961.7 433.9 962.0 434.1 962.2 433.8 962.5 433.7 962.7 433.7 963.0 434.2 963.2 434.0 963.5 433.2 963.8 433.4 964.0 433.8 964.3 433.4 964.5 433.5 964.8 433.3 965.0 433.5 965.3 433.8 965.5 434.1 965.8 433.7 966.1 434.5 966.3 433.6 966.6 435.0 966.8 434.1 967.1 433.8 967.3 433.4 967.6 432.5 967.8 433.6 968.1 433.7 968.4 434.4 968.6 433.1 968.9 434.4 969.1 433.5 969.4 433.9 969.6 432.6 969.9 433.7 970.1 433.4 970.4 433.9 970.7 433.6 970.9 433.1 971.2 434.0 971.4 433.9 971.7 433.9 971.9 434.0 972.2 434.1 972.4 433.6 972.7 433.0 972.9 433.0 973.2 434.1 973.5 433.9 973.7 433.6 974.0 433.3 974.2 433.5 974.5 433.5 974.7 433.3 975.0 433.2 975.2 434.4 975.5 433.5 975.8 433.2 976.0 432.8 976.3 433.1 976.5 433.7 976.8 433.7 977.0 433.2 977.3 433.3 977.5 433.1 977.8 432.7 978.1 433.6 978.3 433.2 978.6 434.0 978.8 432.5 979.1 432.7 979.3 432.8 979.6 432.0 979.8 431.0 980.1 430.6 980.4 430.0 980.6 429.0 980.9 427.5 981.1 426.4 981.4 425.0 981.6 423.4 981.9 422.1 982.1 421.7 982.1 421.9 982.4 422.3 982.7 423.0 982.9 424.0 983.2 425.2 983.4 426.0 983.7 427.5 983.9 429.2 984.2 430.0 984.4 430.8 984.7 430.5 985.0 431.0 985.2 431.1 985.5 431.0 985.7 430.3 986.0 430.3 986.2 430.3 986.5 429.7 986.7 430.1 987.0 430.2 987.3 429.5 987.5 430.4 987.8 429.2 988.0 429.2 988.3 429.0 988.5 428.8 988.8 429.2 989.0 428.9 989.3 429.6 989.3 429.1 989.6 429.0 989.8 428.8 990.1 428.2 990.3 428.9 990.6 428.6 990.8 429.4 991.1 429.1 991.3 429.8 991.6 429.4 991.9 429.4 992.1 429.2 992.4 429.3 992.6 429.2 992.9 429.3 993.1 428.5 993.4 429.0 993.6 429.7 993.9 428.2 994.1 428.3 994.4 427.9 994.7 427.6 994.9 428.7 995.0 428.2 995.2 428.5 995.4 429.4 995.7 429.9 995.9 428.7 996.2 429.9 996.4 430.0 996.7 430.3 997.0 430.7 997.2 430.8 997.5 431.7 997.7 431.5 998.0 431.7 998.2 432.2 998.5 432.2 998.7 432.2 999.0 432.2 999.3 432.9 999.5 432.4 999.8 432.2 1000.0 431.7 1000.3 432.0 1000.5 431.6 1000.8 432.0 1001.0 432.0 1001.3 431.0 1001.6 431.6 1001.8 431.6 1002.1 431.3 1002.3 430.7 1002.6 431.3 1002.8 430.4 1003.1 429.9 1003.3 430.0 1003.6 430.1 1003.9 430.5 1004.1 430.3 1004.4 429.9 1004.6 429.4 1004.6 429.6 1004.9 429.4 1005.1 429.9 1005.4 429.3 1005.6 430.2 1005.9 430.7 1006.2 430.6 1006.4 431.0 1006.7 430.6 1006.9 430.6 1007.2 431.2 1007.4 432.1 1007.7 432.3 1007.9 431.8 1008.2 432.8 1008.5 432.3 1008.7 433.2 1009.0 432.9 1009.2 432.7 1009.5 433.3 1009.7 432.6 1010.0 432.7 1010.2 432.5 1010.5 433.3 1010.8 433.2 1011.0 433.2 1011.3 433.2 1011.5 434.0 1011.8 433.2 1012.0 433.1 1012.3 433.9 1012.5 434.1 1012.8 433.6 1013.0 432.7 1013.3 433.2 1013.6 433.8 1013.8 433.5 1014.1 434.2 1014.3 433.0 1014.6 433.8 1014.8 433.3 1015.1 434.1 1015.3 433.6 1015.6 434.0 1015.9 433.3 1016.1 433.0 1016.4 433.1 1016.6 433.3 1016.9 433.2 1017.1 434.1 1017.4 434.2 1017.6 433.7 1017.9 433.2 1018.2 433.6 1018.4 433.3 1018.7 434.3 1018.9 433.8 1019.2 433.9 1019.4 433.5 1019.7 432.8 1019.9 433.3 1020.2 433.2 1020.5 433.8 1020.7 433.7 1021.0 433.3 1021.2 433.5 1021.5 434.3 1021.7 433.3 1022.0 433.3 1022.2 433.6 1022.5 433.4 1022.8 433.5 1023.0 433.9 1023.3 434.4 1023.5 432.9 1023.8 433.7 1024.0 433.7 1024.3 433.6 1024.5 433.6 1024.8 433.6 1025.1 434.1 1025.3 433.5 1025.6 433.7 1025.8 433.7 1026.1 433.7 1026.3 433.6 1026.6 434.1 1026.8 433.7 1027.1 433.7 1027.4 433.7 1027.6 433.3 1027.9 433.3 1028.1 433.2 1028.4 433.7 1028.6 433.4 1028.9 433.2 1029.1 433.8 1029.4 433.9 1029.7 432.9 1029.9 434.3 1030.2 433.7 1030.4 433.6 1030.7 434.0 1030.9 433.6 1031.2 433.3 1031.4 434.5 1031.7 433.1 1032.0 433.4 1032.2 433.8 1032.5 433.0 1032.7 433.3 1033.0 433.5 1033.2 434.3 1033.5 432.8 1033.7 433.1 1034.0 433.3 1034.2 433.0 1034.5 432.3 1034.8 432.9 1035.0 432.7 1035.3 432.7 1035.5 432.9 1035.8 432.8 1036.0 432.5 1036.3 432.4 1036.5 431.9 1036.5 432.2 1036.8 432.4 1037.1 432.2 1037.3 432.4 1037.6 432.2 1037.8 433.2 1038.1 433.6 1038.3 432.5 1038.6 433.0 1038.8 432.8 1039.1 433.5 1039.4 433.3 1039.6 433.2 1039.9 433.2 1040.1 433.4 1040.4 432.9 1040.6 433.7 1040.9 433.2 1041.1 433.7 1041.4 433.6 1041.7 434.0 1041.9 433.6 1042.2 434.0 1042.4 433.2 1042.7 433.9 1042.9 433.5 1043.2 433.7 1043.4 433.7 1043.7 434.1 1044.0 432.8 1044.2 433.8 1044.5 433.1 1044.7 434.2 1045.0 432.9 1045.2 433.2 1045.5 433.0 1045.7 434.4 1046.0 433.1 1046.3 433.7 1046.5 433.5 1046.8 432.9 1047.0 433.5 1047.3 434.0 1047.5 433.6 1047.8 434.1 1048.0 433.5 1048.3 433.7 1048.6 433.5 1048.8 433.9 1049.1 434.5 1049.3 433.9 1049.6 433.8 1049.8 433.4 1050.1 433.4 1050.3 434.3 1050.6 433.3 1050.9 433.3 1051.1 433.7 1051.4 433.5 1051.6 434.5 1051.9 432.7 1052.1 433.9 1052.4 434.0 1052.6 433.2 1052.9 433.4 1053.2 433.9 1053.4 434.4 1053.7 433.3 1053.9 433.0 1054.2 434.1 1054.4 434.3 1054.7 433.6 1054.9 432.8 1055.2 434.3 1055.4 433.6 1055.7 434.2 1056.0 433.7 1056.2 433.5 1056.5 433.5 1056.7 434.3 1057.0 434.3 1057.2 432.8 1057.5 433.3 1057.7 434.4 1058.0 433.5 1058.3 433.1 1058.5 433.7 1058.8 433.6 1059.0 433.6 1059.3 433.5 1059.5 433.5 1059.8 433.5 1060.0 433.8 1060.3 433.3 1060.6 433.5 1060.8 433.6 1061.1 434.2 1061.3 433.8 1061.6 433.6 1061.8 433.8 1062.1 433.8 1062.3 434.1 1062.6 433.8 1062.9 434.4 1063.1 434.2 1063.4 433.6 1063.6 433.4 1063.9 433.9 1064.1 433.8 1064.4 433.5 1064.6 432.9 1064.9 432.8 1065.2 433.7 1065.4 433.9 1065.7 433.9 1065.9 433.0 1066.2 433.9 1066.4 433.3 1066.7 433.6 1066.9 433.7 1067.2 433.0 1067.5 433.2 1067.7 432.5 1068.0 432.9 1068.2 432.6 1068.5 433.5 1068.7 433.3 1069.0 433.6 1069.2 433.3 1069.5 432.8 1069.8 433.2 1070.0 432.8 1070.3 433.2 1070.5 432.9 1070.8 432.1 1071.0 432.2 1071.3 431.6 1071.5 430.7 1071.8 429.7 1072.1 427.8 1072.3 424.5 1072.6 421.6 1072.8 418.2 1073.1 417.6 1073.2 417.0 1073.3 416.4 1073.6 418.9 1073.8 421.4 1074.1 423.2 1074.4 425.6 1074.6 427.1 1074.9 428.9 1075.1 428.5 1075.4 429.2 1075.6 430.0 1075.9 429.1 1076.1 428.9 1076.4 428.5 1076.6 427.7 1076.9 427.8 1077.2 427.9 1077.4 426.9 1077.7 427.5 1077.9 427.7 1078.1 427.6 1078.2 426.5 1078.4 426.9 1078.7 426.8 1078.9 428.1 1079.2 428.3 1079.5 428.6 1079.7 428.4 1080.0 428.6' fill='none' stroke='#ff00ff' stroke-width='2.3' stroke-linejoin='round'/>
<g fill='#000'>
<rect x='184' y='31' width='4' height='1345'/>
<rect x='1078' y='31' width='4' height='1345'/>
<rect x='184' y='31' width='898' height='4'/>
<rect x='167' y='1372' width='915' height='4'/>
<rect x='184.0' y='1355' width='4' height='38'/>
<rect x='184.0' y='33' width='4' height='19'/>
<rect x='247.9' y='1365' width='4' height='18'/>
<rect x='247.9' y='33' width='4' height='9'/>
<rect x='311.7' y='1355' width='4' height='38'/>
<rect x='311.7' y='33' width='4' height='19'/>
<rect x='375.6' y='1365' width='4' height='18'/>
<rect x='375.6' y='33' width='4' height='9'/>
<rect x='439.4' y='1355' width='4' height='38'/>
<rect x='439.4' y='33' width='4' height='19'/>
<rect x='503.3' y='1365' width='4' height='18'/>
<rect x='503.3' y='33' width='4' height='9'/>
<rect x='567.1' y='1355' width='4' height='38'/>
<rect x='567.1' y='33' width='4' height='19'/>
<rect x='631.0' y='1365' width='4' height='18'/>
<rect x='631.0' y='33' width='4' height='9'/>
<rect x='694.8' y='1355' width='4' height='38'/>
<rect x='694.8' y='33' width='4' height='19'/>
<rect x='758.7' y='1365' width='4' height='18'/>
<rect x='758.7' y='33' width='4' height='9'/>
<rect x='822.6' y='1355' width='4' height='38'/>
<rect x='822.6' y='33' width='4' height='19'/>
<rect x='886.4' y='1365' width='4' height='18'/>
<rect x='886.4' y='33' width='4' height='9'/>
<rect x='950.3' y='1355' width='4' height='38'/>
<rect x='950.3' y='33' width='4' height='19'/>
<rect x='1014.1' y='1365' width='4' height='18'/>
<rect x='1014.1' y='33' width='4' height='9'/>
<rect x='1078.0' y='1355' width='4' height='38'/>
<rect x='1078.0' y='33' width='4' height='19'/>
<rect x='167' y='1372.4' width='38' height='3.2'/>
<rect x='1061' y='1372.4' width='19' height='3.2'/>
<rect x='177' y='1296.2' width='18' height='3.2'/>
<rect x='1071' y='1296.2' width='9' height='3.2'/>
<rect x='167' y='1219.9' width='38' height='3.2'/>
<rect x='1061' y='1219.9' width='19' height='3.2'/>
<rect x='177' y='1143.7' width='18' height='3.2'/>
<rect x='1071' y='1143.7' width='9' height='3.2'/>
<rect x='167' y='1067.4' width='38' height='3.2'/>
<rect x='1061' y='1067.4' width='19' height='3.2'/>
<rect x='177' y='991.1' width='18' height='3.2'/>
<rect x='1071' y='991.1' width='9' height='3.2'/>
<rect x='167' y='914.9' width='38' height='3.2'/>
<rect x='1061' y='914.9' width='19' height='3.2'/>
<rect x='177' y='838.6' width='18' height='3.2'/>
<rect x='1071' y='838.6' width='9' height='3.2'/>
<rect x='167' y='762.4' width='38' height='3.2'/>
<rect x='1061' y='762.4' width='19' height='3.2'/>
<rect x='177' y='686.1' width='18' height='3.2'/>
<rect x='1071' y='686.1' width='9' height='3.2'/>
<rect x='167' y='609.9' width='38' height='3.2'/>
<rect x='1061' y='609.9' width='19' height='3.2'/>
<rect x='177' y='533.6' width='18' height='3.2'/>
<rect x='1071' y='533.6' width='9' height='3.2'/>
<rect x='167' y='457.4' width='38' height='3.2'/>
<rect x='1061' y='457.4' width='19' height='3.2'/>
<rect x='177' y='381.1' width='18' height='3.2'/>
<rect x='1071' y='381.1' width='9' height='3.2'/>
<rect x='167' y='304.9' width='38' height='3.2'/>
<rect x='1061' y='304.9' width='19' height='3.2'/>
<rect x='177' y='228.7' width='18' height='3.2'/>
<rect x='1071' y='228.7' width='9' height='3.2'/>
<rect x='167' y='152.4' width='38' height='3.2'/>
<rect x='1061' y='152.4' width='19' height='3.2'/>
</g>
<rect x='450' y='40' width='450' height='77' fill='#fff'/>
<rect x='450' y='117' width='310' height='146' fill='#fff'/>
<rect x='805' y='147' width='185' height='75' fill='#fff'/>
<rect x='870' y='1246' width='180' height='75' fill='#fff'/>
<rect x='923' y='29' width='154' height='88' fill='#000'/>
<text transform='matrix(1.0104 0 0 1.0104 489.98 92.20)' font-size='46'>annealed at 550</text>
<text transform='matrix(0.9462 0 0 0.9077 822.86 94.85)' font-size='46'>°</text>
<text transform='matrix(0.9897 0 0 0.9897 841.02 92.20)' font-size='46'>C</text>
<text transform='matrix(0.9500 0 0 0.8562 467.05 153.40)' font-size='46' stroke='#000' stroke-width='0.5'>*</text>
<text transform='matrix(0.7000 0 0 1.0333 501.70 159.13)' font-size='46'>–</text>
<text transform='matrix(0.9815 0 0 0.9815 537.04 158.30)' font-size='46'>Cu</text>
<text transform='matrix(1.1615 0 0 1.0200 594.28 172.70)' font-size='30'>2</text>
<text transform='matrix(0.9688 0 0 0.9688 613.06 158.30)' font-size='46'>O</text>
<text transform='matrix(0.9435 0 0 0.9087 467.51 225.53)' font-size='46' stroke='#000' stroke-width='1.5'>+</text>
<text transform='matrix(0.6846 0 0 0.8333 510.90 225.53)' font-size='46'>–</text>
<text transform='matrix(1.0173 0 0 1.0173 545.15 227.10)' font-size='46'>rutile TiO</text>
<text transform='matrix(1.0923 0 0 1.0400 732.02 240.90)' font-size='30'>2</text>
<text transform='matrix(0.8524 0 0 1.0687 814.60 199.03)' font-size='46' stroke='#000' stroke-width='0.4'>^</text>
<text transform='matrix(0.7154 0 0 1.1667 851.60 200.97)' font-size='46'>–</text>
<text transform='matrix(0.9978 0 0 0.9978 887.30 199.00)' font-size='46'>CuO</text>
<text transform='matrix(0.9784 0 0 1.0297 944.22 92.10)' font-size='54' font-weight='bold' fill='#fff'>XRD</text>
<text transform='matrix(0.9364 0 0 0.9906 993.33 389.00)' font-size='46' fill='#ff00ff'>C4</text>
<text transform='matrix(0.9909 0 0 1.0281 991.32 708.90)' font-size='46' fill='#0000ff'>C3</text>
<text transform='matrix(0.9982 0 0 1.0250 990.20 1004.00)' font-size='46' fill='#ff0000'>C2</text>
<text transform='matrix(1.0074 0 0 1.0063 876.79 1300.80)' font-size='46'>C3-1NC</text>
<text transform='matrix(0.9916 0 0 0.9916 160.41 1442.30)' font-size='46'>20</text>
<text transform='matrix(0.9916 0 0 0.9916 288.12 1442.30)' font-size='46'>30</text>
<text transform='matrix(0.9916 0 0 0.9916 416.33 1442.30)' font-size='46'>40</text>
<text transform='matrix(0.9916 0 0 0.9916 543.54 1442.30)' font-size='46'>50</text>
<text transform='matrix(0.9916 0 0 0.9916 671.25 1442.30)' font-size='46'>60</text>
<text transform='matrix(0.9916 0 0 0.9916 798.96 1442.30)' font-size='46'>70</text>
<text transform='matrix(0.9916 0 0 0.9916 926.67 1442.30)' font-size='46'>80</text>
<text transform='matrix(0.9916 0 0 0.9916 1054.38 1442.30)' font-size='46'>90</text>
<text transform='matrix(1.0246 0 0 1.0410 418.90 1544.00)' font-size='74'>2Theta [deg]</text>
<text transform='matrix(0.9826 0 0 0.9000 271.33 164.45)' font-size='46' stroke='#000' stroke-width='1.0'>+</text>
<text transform='matrix(0.8810 0 0 1.0938 379.15 205.96)' font-size='46' stroke='#000' stroke-width='1.0'>^</text>
<text transform='matrix(0.8810 0 0 1.0938 414.95 225.56)' font-size='46' stroke='#000' stroke-width='1.0'>^</text>
<text transform='matrix(0.8810 0 0 1.0938 340.25 413.56)' font-size='46' stroke='#000' stroke-width='1.0'>^</text>
<text transform='matrix(0.9826 0 0 0.9000 384.33 305.95)' font-size='46' stroke='#000' stroke-width='1.0'>+</text>
<text transform='matrix(0.9500 0 0 0.8563 393.45 410.75)' font-size='46' stroke='#000' stroke-width='1.0'>*</text>
<text transform='matrix(0.9826 0 0 0.9000 444.13 371.85)' font-size='46' stroke='#000' stroke-width='1.0'>+</text>
<text transform='matrix(0.9500 0 0 0.8563 461.95 424.95)' font-size='46' stroke='#000' stroke-width='1.0'>*</text>
<text transform='matrix(0.9826 0 0 0.9000 482.13 399.15)' font-size='46' stroke='#000' stroke-width='1.0'>+</text>
<text transform='matrix(0.8810 0 0 1.0938 512.55 431.96)' font-size='46' stroke='#000' stroke-width='1.0'>^</text>
<text transform='matrix(0.8810 0 0 1.0938 545.75 380.66)' font-size='46' stroke='#000' stroke-width='1.0'>^</text>
<text transform='matrix(0.8810 0 0 1.0938 602.05 422.96)' font-size='46' stroke='#000' stroke-width='1.0'>^</text>
<text transform='matrix(0.9826 0 0 0.9000 610.43 298.55)' font-size='46' stroke='#000' stroke-width='1.0'>+</text>
<text transform='matrix(0.9826 0 0 0.9000 644.33 386.25)' font-size='46' stroke='#000' stroke-width='1.0'>+</text>
<text transform='matrix(0.8810 0 0 1.0938 666.55 416.26)' font-size='46' stroke='#000' stroke-width='1.0'>^</text>
<text transform='matrix(0.8810 0 0 1.0938 707.35 392.96)' font-size='46' stroke='#000' stroke-width='1.0'>^</text>
<text transform='matrix(0.9826 0 0 0.9000 719.63 414.25)' font-size='46' stroke='#000' stroke-width='1.0'>+</text>
<text transform='matrix(0.9826 0 0 0.9000 738.73 410.15)' font-size='46' stroke='#000' stroke-width='1.0'>+</text>
<text transform='matrix(0.8810 0 0 1.0938 770.05 404.06)' font-size='46' stroke='#000' stroke-width='1.0'>^</text>
<text transform='matrix(0.8810 0 0 1.0938 790.25 409.66)' font-size='46' stroke='#000' stroke-width='1.0'>^</text>
<text transform='matrix(0.9826 0 0 0.9000 799.23 383.55)' font-size='46' stroke='#000' stroke-width='1.0'>+</text>
<text transform='matrix(0.9826 0 0 0.9000 815.83 410.15)' font-size='46' stroke='#000' stroke-width='1.0'>+</text>
<text transform='matrix(0.8810 0 0 1.0938 848.05 428.76)' font-size='46' stroke='#000' stroke-width='1.0'>^</text>
<text transform='matrix(0.8810 0 0 1.0938 879.65 427.86)' font-size='46' stroke='#000' stroke-width='1.0'>^</text>
<text transform='matrix(0.9826 0 0 0.9000 973.23 415.35)' font-size='46' stroke='#000' stroke-width='1.0'>+</text>
<text transform='matrix(0.9826 0 0 0.9000 1056.93 414.05)' font-size='46' stroke='#000' stroke-width='1.0'>+</text>
<text transform='matrix(0 -1.0154 1.0587 0 87.9 913.91)' font-size='74'>Intensity [a.u.]</text>
</svg></body></html>
